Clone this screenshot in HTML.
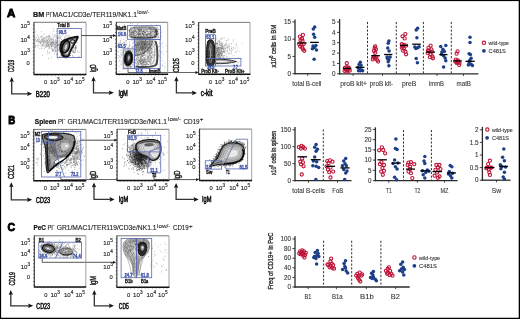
<!DOCTYPE html>
<html><head><meta charset="utf-8"><style>
html,body{margin:0;padding:0;background:#fff;overflow:hidden;}
svg{display:block;will-change:transform;}
text{font-family:"Liberation Sans", sans-serif;}
</style></head><body>
<svg width="520" height="319" viewBox="0 0 520 319" font-family="Liberation Sans, sans-serif">
<rect width="520" height="319" fill="#fff"/>
<rect x="0" y="0" width="520" height="1.1" fill="#000"/>
<rect x="0" y="0" width="1.1" height="319" fill="#000"/>
<rect x="518.7" y="0" width="1.3" height="319" fill="#000"/>
<rect x="0" y="317.75" width="520" height="1.25" fill="#000"/>
<text x="7.00" y="16.93" font-size="11.2" font-weight="bold" fill="#000" text-anchor="start" stroke="#000" stroke-width="0.9" textLength="8.30" lengthAdjust="spacingAndGlyphs">A</text>
<text x="8.30" y="124.23" font-size="11.2" font-weight="bold" fill="#000" text-anchor="start" stroke="#000" stroke-width="0.9" textLength="7.00" lengthAdjust="spacingAndGlyphs">B</text>
<text x="7.60" y="230.83" font-size="11.2" font-weight="bold" fill="#000" text-anchor="start" stroke="#000" stroke-width="0.9" textLength="7.60" lengthAdjust="spacingAndGlyphs">C</text>
<text x="33.00" y="16.97" font-size="6.9" font-weight="bold" fill="#111" text-anchor="start" stroke="#111" stroke-width="0.2" textLength="11.20" lengthAdjust="spacingAndGlyphs">BM</text>
<text x="45.90" y="16.90" font-size="6.7" fill="#222" text-anchor="start" stroke="#222" stroke-width="0.12" textLength="5.00" lengthAdjust="spacingAndGlyphs">PI</text>
<text x="50.90" y="13.69" font-size="5.0" fill="#222" text-anchor="start" stroke="#222" stroke-width="0.15" textLength="1.70" lengthAdjust="spacingAndGlyphs">-</text>
<text x="52.60" y="16.90" font-size="6.7" fill="#222" text-anchor="start" stroke="#222" stroke-width="0.12" textLength="84.30" lengthAdjust="spacingAndGlyphs">MAC1/CD3e/TER119/NK1.1</text>
<text x="137.30" y="14.22" font-size="6.2" fill="#222" text-anchor="start" stroke="#222" stroke-width="0.08" textLength="12.10" lengthAdjust="spacingAndGlyphs">low/-</text>
<text x="34.80" y="123.97" font-size="6.9" font-weight="bold" fill="#111" text-anchor="start" stroke="#111" stroke-width="0.2" textLength="21.50" lengthAdjust="spacingAndGlyphs">Spleen</text>
<text x="57.90" y="123.90" font-size="6.7" fill="#222" text-anchor="start" stroke="#222" stroke-width="0.12" textLength="5.60" lengthAdjust="spacingAndGlyphs">PI</text>
<text x="63.40" y="120.69" font-size="5.0" fill="#222" text-anchor="start" stroke="#222" stroke-width="0.15" textLength="1.70" lengthAdjust="spacingAndGlyphs">-</text>
<text x="67.50" y="123.90" font-size="6.7" fill="#222" text-anchor="start" stroke="#222" stroke-width="0.12" textLength="99.60" lengthAdjust="spacingAndGlyphs">GR1/MAC1/TER119/CD3e/NK1.1</text>
<text x="168.00" y="121.22" font-size="6.2" fill="#222" text-anchor="start" stroke="#222" stroke-width="0.08" textLength="13.20" lengthAdjust="spacingAndGlyphs">low/-</text>
<text x="183.50" y="123.90" font-size="6.7" fill="#222" text-anchor="start" stroke="#222" stroke-width="0.12" textLength="16.10" lengthAdjust="spacingAndGlyphs">CD19</text>
<text x="199.80" y="121.12" font-size="6.2" fill="#222" text-anchor="start" stroke="#222" stroke-width="0.2">+</text>
<text x="33.40" y="230.47" font-size="6.9" font-weight="bold" fill="#111" text-anchor="start" stroke="#111" stroke-width="0.2" textLength="12.50" lengthAdjust="spacingAndGlyphs">PeC</text>
<text x="47.40" y="230.40" font-size="6.7" fill="#222" text-anchor="start" stroke="#222" stroke-width="0.12" textLength="5.60" lengthAdjust="spacingAndGlyphs">PI</text>
<text x="53.00" y="227.19" font-size="5.0" fill="#222" text-anchor="start" stroke="#222" stroke-width="0.15" textLength="1.70" lengthAdjust="spacingAndGlyphs">-</text>
<text x="56.70" y="230.40" font-size="6.7" fill="#222" text-anchor="start" stroke="#222" stroke-width="0.12" textLength="99.80" lengthAdjust="spacingAndGlyphs">GR1/MAC1/TER119/CD3e/NK1.1</text>
<text x="157.00" y="227.72" font-size="6.2" fill="#222" text-anchor="start" stroke="#222" stroke-width="0.08" textLength="13.40" lengthAdjust="spacingAndGlyphs">low/-</text>
<text x="172.90" y="230.40" font-size="6.7" fill="#222" text-anchor="start" stroke="#222" stroke-width="0.12" textLength="15.90" lengthAdjust="spacingAndGlyphs">CD19</text>
<text x="189.00" y="227.62" font-size="6.2" fill="#222" text-anchor="start" stroke="#222" stroke-width="0.2">+</text>
<path d="M47.2 44.0h0M47.4 40.7h0M42.5 41.1h0M56.8 43.7h0M56.3 43.0h0M51.8 42.7h0M37.3 45.4h0M52.5 44.0h0M37.2 35.0h0M42.8 40.1h0M51.1 41.8h0M52.6 39.4h0M51.2 43.6h0M44.4 48.9h0M52.9 46.8h0M44.7 39.0h0M46.6 41.6h0M53.4 43.0h0M45.9 38.2h0M45.4 46.9h0M43.3 43.0h0M52.0 36.0h0M49.3 47.2h0M34.9 40.7h0M48.3 38.7h0M52.5 41.8h0M38.7 45.3h0M53.7 45.8h0M59.1 43.4h0M49.8 36.8h0M53.3 39.6h0M45.8 36.9h0M42.2 39.9h0M58.0 33.9h0M38.8 43.0h0M59.1 44.3h0M35.7 31.9h0M51.5 39.1h0M41.2 45.9h0M56.7 42.6h0M50.7 43.7h0M60.2 44.5h0M52.6 44.2h0M38.0 47.1h0M55.7 44.1h0M35.2 39.5h0M54.9 34.8h0M47.7 46.1h0M39.8 48.4h0M52.9 41.4h0M51.3 44.6h0M49.8 46.6h0M44.4 40.3h0M56.3 42.1h0M42.8 45.8h0M59.3 40.2h0M39.3 41.5h0M48.0 40.8h0M58.8 37.9h0M57.8 36.9h0M43.5 44.5h0M56.9 45.4h0M51.4 42.6h0M50.1 44.3h0M47.8 43.1h0M53.0 42.0h0M54.3 44.3h0M63.1 43.3h0M46.0 40.5h0M48.9 45.7h0M46.6 43.5h0M61.9 31.7h0M41.1 43.0h0M51.8 43.0h0M46.0 44.6h0M51.0 39.9h0M66.0 43.4h0M45.1 41.6h0M47.4 41.7h0M56.1 37.3h0M48.5 45.8h0M55.0 48.0h0M37.1 40.6h0M46.6 44.5h0M56.6 31.3h0M56.6 36.2h0M53.8 36.0h0M50.2 46.8h0M48.0 42.8h0M54.6 42.6h0M48.4 48.1h0M56.3 40.8h0M68.2 37.4h0M55.4 40.9h0M49.9 44.8h0M50.6 44.6h0M38.3 36.0h0M53.3 38.1h0M41.8 36.1h0M57.9 45.0h0M59.3 38.2h0M49.0 37.4h0M54.4 48.4h0M42.8 48.2h0M55.9 41.3h0M35.2 47.6h0M48.3 39.6h0M51.8 43.6h0M59.5 37.9h0M57.0 47.9h0M59.2 41.3h0M43.8 46.1h0M49.8 42.5h0M59.0 40.9h0M36.0 45.3h0M51.2 39.6h0M48.9 45.3h0M49.6 47.3h0M48.6 46.2h0M59.4 48.4h0M44.3 45.5h0M35.9 37.7h0M35.3 46.3h0M40.4 41.9h0M47.7 41.9h0M44.9 42.9h0M61.5 42.2h0M52.7 46.0h0M47.6 37.0h0M45.1 46.3h0M37.5 39.6h0M56.1 45.2h0M49.1 45.2h0M50.2 37.3h0M38.1 39.4h0M55.5 39.7h0M42.7 38.9h0M38.3 41.5h0M40.7 43.5h0M44.5 34.2h0M54.1 40.9h0M51.0 40.2h0M54.5 45.0h0M53.7 43.3h0M58.3 44.6h0M52.2 33.7h0M55.3 47.2h0M46.9 40.1h0M62.6 35.0h0M52.3 51.7h0M42.5 44.8h0M62.2 41.5h0M52.9 45.6h0M42.7 41.6h0M51.0 45.3h0M48.8 41.2h0M41.9 40.6h0M55.2 42.4h0M43.0 38.6h0M67.7 46.6h0M53.5 31.6h0M53.4 43.9h0M60.8 43.7h0M48.5 44.1h0M35.4 46.1h0M51.3 39.2h0M58.3 49.2h0M39.2 39.3h0M51.0 42.7h0M46.2 38.1h0M63.8 46.1h0M40.6 36.6h0M60.9 46.0h0M61.7 45.2h0M42.9 43.0h0M48.6 44.1h0M43.9 41.5h0M52.2 43.5h0M53.5 42.8h0M46.7 45.2h0M49.3 38.7h0M44.6 42.0h0M48.2 42.6h0M49.0 42.7h0M48.1 37.0h0M51.9 46.2h0M52.0 41.2h0M52.1 38.1h0M35.7 42.2h0M42.5 45.0h0M41.4 31.5h0M41.7 48.3h0M46.3 36.5h0M43.7 44.1h0M52.5 42.7h0M59.4 44.8h0M48.9 44.4h0M60.6 45.9h0M56.2 37.7h0M48.0 44.9h0M46.9 46.3h0M53.2 45.6h0M47.5 52.2h0M57.7 41.1h0M49.6 52.4h0M46.6 45.5h0M55.9 42.0h0M40.8 42.8h0M51.5 46.5h0M54.5 42.1h0M55.0 44.2h0M50.4 42.2h0M47.3 44.7h0M41.6 39.5h0M49.0 36.1h0" stroke="#8a8a8a" stroke-width="0.64" stroke-linecap="round" opacity="1"/>
<path d="M41.8 36.0h0M40.6 42.4h0M46.8 40.9h0M42.8 37.5h0M53.1 42.3h0M49.5 38.8h0M43.1 36.5h0M47.9 43.3h0M47.2 36.6h0M34.9 38.3h0M40.9 37.5h0M44.2 41.6h0M47.2 42.8h0M51.5 43.9h0M37.4 39.7h0M38.7 38.3h0M43.6 41.0h0M46.5 37.0h0M37.8 40.9h0M43.0 40.2h0M43.7 39.1h0M47.5 41.9h0M43.6 39.3h0M43.1 34.2h0M39.1 41.1h0M36.5 41.5h0M44.7 37.6h0M42.7 40.2h0M46.3 42.5h0M43.8 38.9h0M43.3 40.8h0M47.7 41.7h0M40.4 37.6h0M42.1 39.1h0M38.4 40.7h0M41.5 41.3h0M46.6 40.0h0M55.6 40.2h0M49.5 41.3h0M49.6 35.1h0M40.2 41.6h0M47.0 46.8h0M45.6 44.2h0M47.8 43.4h0M46.6 40.6h0M46.5 38.3h0M49.9 38.5h0M45.2 46.3h0M42.9 41.0h0M49.8 41.1h0M40.0 41.6h0M46.9 42.8h0M40.1 45.4h0M52.3 41.0h0M45.3 39.9h0M51.1 39.2h0M47.4 39.8h0M40.5 42.8h0M50.7 41.0h0M40.6 43.0h0M43.8 41.8h0M51.6 43.8h0M41.4 46.7h0M44.0 43.0h0M40.8 40.9h0M35.3 45.5h0M50.8 38.0h0M36.5 36.9h0M49.9 39.9h0M43.7 40.2h0M43.4 38.3h0M44.1 37.4h0M43.6 41.8h0M46.3 40.4h0M39.5 41.4h0M41.6 44.9h0M47.8 40.7h0M41.6 39.2h0M39.3 40.1h0M45.5 42.3h0M46.8 46.2h0M40.5 41.0h0M58.0 36.3h0M41.4 41.4h0M44.8 42.0h0M42.8 41.9h0M44.3 42.9h0M44.0 38.4h0M38.8 42.6h0M40.8 42.6h0M47.7 41.8h0M46.5 40.7h0M37.0 40.9h0M46.3 39.7h0M43.5 42.9h0M39.6 42.6h0M53.3 39.6h0M44.7 40.6h0M51.7 41.8h0M48.5 39.3h0M43.9 41.0h0M35.1 44.6h0M48.5 36.6h0M47.7 40.7h0M46.2 41.9h0M36.5 40.5h0M51.5 39.6h0M38.9 37.6h0M37.9 41.8h0M52.5 42.1h0M45.2 46.6h0M41.4 39.3h0M46.6 42.4h0M38.9 38.1h0M45.5 41.6h0M37.5 40.5h0M41.3 42.2h0M43.4 40.8h0" stroke="#aaa" stroke-width="0.64" stroke-linecap="round" opacity="1"/>
<path d="M53.2 51.3h0M62.0 44.2h0M59.2 42.2h0M55.4 49.7h0M62.6 44.1h0M54.6 47.0h0M47.5 46.1h0M51.6 47.9h0M49.4 36.1h0M55.2 47.3h0M52.3 50.4h0M53.6 43.0h0M57.4 38.2h0M51.6 45.9h0M59.2 45.2h0M56.5 42.7h0M56.5 54.3h0M51.6 57.8h0M51.8 46.1h0M55.9 51.1h0M48.8 35.5h0M58.0 50.0h0M58.1 59.2h0M56.0 47.3h0M59.6 47.8h0M63.3 39.8h0M53.1 28.8h0M59.1 44.1h0M59.6 56.8h0M55.0 44.7h0M52.5 41.8h0M51.8 49.2h0M55.2 46.3h0M54.1 50.6h0M57.5 45.3h0M58.3 45.2h0M49.2 53.3h0M57.3 41.2h0M60.4 47.7h0M47.2 54.0h0M56.7 50.5h0M56.0 45.3h0M47.3 50.9h0M55.2 44.6h0M56.8 46.4h0M58.4 44.1h0M54.8 35.3h0M52.9 49.4h0M61.7 44.2h0M54.4 53.9h0M53.4 49.7h0M63.4 46.2h0M61.1 42.4h0M56.0 45.6h0M55.6 51.6h0M66.9 42.7h0M52.1 48.5h0M49.7 48.5h0M57.9 44.6h0M57.7 38.3h0M58.8 38.3h0M51.5 43.2h0M53.0 50.3h0M55.4 44.0h0M57.7 53.9h0M55.0 47.8h0M61.2 47.3h0M48.6 58.5h0M66.0 36.1h0M54.8 48.1h0M59.8 49.3h0M53.6 40.7h0M55.5 51.2h0M49.6 40.9h0M54.9 36.3h0M53.7 43.8h0M57.3 42.5h0M50.6 44.0h0M54.8 42.7h0M55.1 49.8h0M60.9 54.5h0M51.1 43.9h0M42.6 55.5h0M51.4 45.8h0M57.6 39.2h0M57.3 45.9h0M45.9 47.5h0M61.0 36.7h0M59.0 47.0h0M57.4 48.2h0" stroke="#777" stroke-width="0.64" stroke-linecap="round" opacity="1"/>
<path d="M75.8 45.5h0M73.2 44.3h0M72.4 41.7h0M70.7 46.0h0M61.1 41.9h0M69.2 53.1h0M70.6 50.4h0M67.7 55.8h0M65.7 43.4h0M73.3 47.4h0M66.3 43.3h0M66.5 51.1h0M70.1 39.1h0M70.6 48.2h0M62.0 52.0h0M66.3 44.8h0M72.8 55.6h0M63.9 49.8h0M65.0 54.8h0M64.1 52.3h0M65.4 50.3h0M67.4 42.7h0M64.5 47.9h0M75.6 47.8h0M59.7 36.0h0M75.1 51.8h0M63.1 52.6h0M71.0 51.2h0M73.4 51.8h0M69.0 50.2h0M66.0 47.2h0M73.3 44.1h0M74.9 41.9h0M69.6 43.6h0M68.9 42.5h0M69.8 43.4h0M69.2 53.4h0M62.1 46.3h0M71.2 50.4h0M75.5 49.1h0M68.1 45.2h0M69.6 44.2h0M61.9 42.2h0M64.4 43.0h0M61.0 51.1h0M60.1 51.3h0M61.9 49.3h0M76.2 48.3h0M63.6 47.3h0M68.9 35.7h0M64.4 48.1h0M65.2 47.5h0M72.4 52.0h0M73.4 50.8h0M66.3 46.9h0M66.4 45.0h0M66.9 35.8h0M66.0 46.8h0M62.2 46.8h0M71.1 45.9h0M71.1 45.0h0M73.1 49.4h0M68.1 43.2h0M71.8 43.8h0M69.3 43.7h0M69.2 51.9h0M62.7 46.8h0M71.7 47.9h0M73.1 56.9h0M73.5 52.3h0M64.3 42.4h0M73.3 41.1h0M63.9 42.3h0M69.4 42.1h0M75.9 46.5h0M61.5 55.5h0M64.5 48.4h0M67.9 45.0h0M69.9 42.5h0M60.4 42.1h0M67.9 47.4h0M71.3 47.8h0M63.2 42.4h0M70.9 50.4h0M67.3 45.9h0M73.6 47.1h0M72.4 50.8h0M69.3 55.5h0M64.6 44.7h0M63.2 41.8h0M68.1 50.7h0M75.1 52.2h0M75.2 38.8h0M64.2 49.9h0M76.6 47.7h0M62.8 44.7h0M64.0 41.4h0M77.0 42.9h0M75.1 49.2h0M64.3 49.7h0M77.7 51.0h0M75.6 47.6h0M71.1 45.7h0M70.6 55.5h0M59.4 46.6h0M69.4 43.3h0M66.2 52.1h0M70.0 36.9h0M67.8 39.7h0M67.7 39.9h0M68.4 50.0h0M68.2 48.8h0M62.9 56.3h0M66.9 42.0h0M61.9 44.7h0M69.7 39.3h0M67.2 56.3h0M72.1 46.0h0M68.8 46.2h0M67.7 51.8h0M67.9 41.2h0M71.9 43.0h0M61.7 39.7h0M59.1 51.0h0M63.3 44.6h0M70.0 55.8h0M68.9 48.2h0M78.8 56.3h0M66.1 50.0h0M69.7 47.3h0M65.0 38.4h0M64.8 37.0h0M75.3 50.5h0M60.8 56.1h0M79.0 52.3h0M71.2 49.8h0M69.2 48.1h0M74.3 37.3h0M60.5 37.9h0M64.7 43.1h0M70.2 48.7h0M68.2 42.6h0M65.3 53.2h0M72.6 47.7h0M66.1 57.1h0M64.4 51.2h0M74.9 45.3h0M73.0 39.7h0M74.1 48.3h0M62.6 55.3h0M63.9 45.9h0M69.7 44.8h0M69.6 43.4h0M72.0 47.0h0M75.0 47.2h0M70.8 54.0h0M61.5 57.1h0M67.1 51.4h0M65.8 39.7h0M74.6 52.9h0" stroke="#444" stroke-width="0.64" stroke-linecap="round" opacity="1"/>
<path d="M61.50,42.50 C62.45,40.83 64.25,40.32 66.00,39.50 C67.75,38.68 70.07,38.08 72.00,37.60 C73.93,37.12 76.83,36.20 77.60,36.60 C78.37,37.00 77.27,38.60 76.60,40.00 C75.93,41.40 74.60,43.25 73.60,45.00 C72.60,46.75 71.50,48.62 70.60,50.50 C69.70,52.38 69.05,55.15 68.20,56.30 C67.35,57.45 66.45,57.58 65.50,57.40 C64.55,57.22 63.37,56.52 62.50,55.20 C61.63,53.88 60.47,51.62 60.30,49.50 C60.13,47.38 60.55,44.17 61.50,42.50 Z" fill="#2a2a2a" stroke="#111" stroke-width="1.8" opacity="1"/>
<path d="M62.54,43.14 C63.34,41.74 64.85,41.31 66.32,40.62 C67.79,39.93 69.74,39.43 71.36,39.02 C72.98,38.62 75.42,37.85 76.06,38.18 C76.71,38.52 75.78,39.86 75.22,41.04 C74.66,42.22 73.54,43.77 72.70,45.24 C71.86,46.71 70.94,48.28 70.18,49.86 C69.43,51.44 68.88,53.77 68.17,54.73 C67.45,55.70 66.70,55.81 65.90,55.66 C65.10,55.50 64.11,54.91 63.38,53.81 C62.65,52.70 61.67,50.80 61.53,49.02 C61.39,47.24 61.74,44.54 62.54,43.14 Z" fill="#9a9a9a" stroke="#333" stroke-width="0.5" opacity="1"/>
<path d="M63.32,43.62 C64.00,42.42 65.30,42.05 66.56,41.46 C67.82,40.87 69.49,40.44 70.88,40.09 C72.27,39.74 74.36,39.08 74.91,39.37 C75.46,39.66 74.67,40.81 74.19,41.82 C73.71,42.83 72.75,44.16 72.03,45.42 C71.31,46.68 70.52,48.02 69.87,49.38 C69.22,50.74 68.76,52.73 68.14,53.56 C67.53,54.38 66.88,54.48 66.20,54.35 C65.52,54.22 64.66,53.71 64.04,52.76 C63.42,51.82 62.58,50.18 62.46,48.66 C62.34,47.14 62.64,44.82 63.32,43.62 Z" fill="#e4e4e4" stroke="#555" stroke-width="0.4" opacity="1"/>
<ellipse cx="65.80" cy="46.80" rx="3.50" ry="6.30" transform="rotate(20 65.80 46.80)" fill="#6a6a6a" stroke="#000" stroke-width="1.4" opacity="1"/>
<ellipse cx="65.90" cy="47.00" rx="1.10" ry="2.80" transform="rotate(20 65.90 47.00)" fill="#d8d8d8" stroke="none" stroke-width="0" opacity="1"/>
<ellipse cx="72.70" cy="41.50" rx="2.20" ry="1.80" transform="rotate(0 72.70 41.50)" fill="#c8c8c8" stroke="#000" stroke-width="1.0" opacity="1"/>
<rect x="57.20" y="28.40" width="24.10" height="29.20" fill="none" stroke="#5567b0" stroke-width="0.8"/>
<path d="M158.9 55.4h0M135.7 27.7h0M134.8 38.6h0M133.0 52.4h0M145.6 43.0h0M143.9 44.4h0M144.3 54.3h0M152.6 38.5h0M125.4 61.7h0M143.3 58.2h0M123.9 42.4h0M142.3 30.1h0M136.3 54.0h0M153.9 63.5h0M132.5 30.6h0M147.7 56.3h0M144.1 31.7h0M150.6 54.7h0M148.1 40.6h0M145.3 54.7h0M135.9 25.7h0M145.6 51.3h0M142.1 55.8h0M135.5 45.1h0M138.6 52.3h0M159.6 43.2h0M164.6 62.8h0M150.7 52.5h0M161.5 44.0h0M140.8 34.3h0M147.2 60.8h0M147.9 50.7h0M139.8 47.9h0M126.3 57.5h0M137.5 33.8h0M133.7 36.9h0M151.4 57.6h0M127.1 56.2h0M151.8 39.6h0M125.6 37.8h0M135.0 49.8h0M138.1 23.7h0M144.6 29.1h0M152.0 32.7h0M134.4 36.6h0M136.0 60.3h0M151.4 52.6h0M145.5 29.0h0M136.3 39.9h0M131.2 51.6h0M133.8 38.2h0M130.5 23.4h0M148.5 60.6h0M143.9 35.3h0M155.4 49.3h0M152.2 62.3h0M154.4 41.1h0M153.6 54.5h0M125.1 41.5h0M126.3 44.8h0M148.4 34.3h0M119.4 60.3h0M146.1 62.2h0M127.4 57.7h0M164.8 68.1h0M139.7 49.0h0M140.3 57.0h0M153.4 47.0h0M127.1 54.2h0M136.8 52.9h0M144.9 63.9h0M154.5 41.0h0M145.8 65.4h0M136.1 50.8h0M155.1 59.8h0M147.7 31.5h0M128.1 48.7h0M132.5 58.5h0M150.5 27.6h0M133.0 47.8h0M136.6 44.3h0M147.2 37.1h0M147.1 39.0h0M136.0 51.9h0M135.7 49.2h0M159.6 46.3h0M140.4 54.1h0M138.0 57.9h0M127.9 52.8h0M136.4 37.2h0M161.5 36.6h0M161.3 53.2h0M158.0 35.3h0M155.2 62.0h0M140.7 44.6h0M137.4 39.1h0M146.9 49.6h0M144.0 64.9h0M138.4 51.2h0M158.1 35.0h0M153.4 66.2h0M127.1 33.9h0M130.6 25.7h0M147.0 25.6h0M147.5 62.0h0M124.2 42.5h0M120.9 54.6h0M133.9 43.1h0M142.6 52.0h0M138.2 46.2h0M136.0 47.3h0M129.1 46.7h0M120.7 40.6h0M163.1 46.9h0M128.1 48.8h0M131.3 27.8h0M133.9 54.1h0M146.2 44.9h0M131.8 34.1h0M156.8 48.7h0M126.9 73.2h0M129.4 45.2h0M144.3 44.3h0M138.9 30.9h0M130.4 64.6h0M133.7 55.3h0M123.4 43.0h0M144.9 57.4h0M129.7 52.5h0M146.2 37.9h0M147.2 36.1h0M133.2 45.8h0M131.0 29.9h0M137.3 54.4h0M137.6 59.9h0M129.2 31.6h0M159.1 50.4h0M152.4 36.9h0M150.8 48.9h0M149.1 46.3h0M155.3 38.9h0M131.4 29.7h0M154.8 37.9h0M130.5 35.7h0M137.1 32.0h0M138.8 39.1h0M135.9 35.4h0M142.4 40.9h0M143.3 48.7h0M136.1 37.2h0M150.5 28.6h0M134.1 42.8h0M138.3 56.9h0M137.1 56.6h0M125.9 26.1h0M155.4 50.8h0M147.4 47.4h0M147.3 32.6h0M152.4 40.1h0M152.8 47.0h0M120.3 31.8h0M154.4 44.5h0M137.6 48.7h0M137.3 40.0h0M143.1 47.6h0M158.7 46.5h0M162.7 65.8h0M160.9 57.7h0M143.4 47.5h0M140.4 38.0h0M141.3 39.0h0M160.0 51.9h0M137.1 24.9h0M141.4 41.4h0M130.1 33.5h0M117.2 52.3h0M141.7 44.4h0M157.9 47.5h0M143.8 41.9h0M135.3 62.5h0M153.0 64.9h0M138.2 46.3h0M132.3 56.6h0M126.7 52.2h0M154.1 61.5h0M131.7 58.0h0M134.2 37.7h0M127.4 58.7h0M160.1 39.5h0M133.6 42.3h0M136.0 26.3h0M134.6 59.1h0M162.5 43.1h0M134.4 40.4h0M121.3 56.0h0M130.1 57.7h0M123.2 32.0h0M145.2 37.6h0M150.6 46.1h0M129.1 52.8h0M151.3 25.0h0M162.1 51.5h0M150.4 25.5h0M134.1 42.2h0M153.8 29.9h0M132.3 23.7h0M139.3 49.8h0M123.5 39.5h0M147.6 63.4h0M149.3 42.7h0M129.0 35.7h0M134.7 47.6h0M141.5 64.3h0M145.2 34.2h0M159.0 56.4h0M143.1 38.1h0M121.4 34.8h0M152.0 37.2h0M127.5 48.2h0M144.7 52.7h0M149.2 61.5h0M132.8 56.8h0M131.1 53.6h0M144.0 48.7h0M152.6 45.8h0M154.2 55.6h0M143.5 39.8h0M133.7 40.2h0M139.8 45.7h0M150.5 36.5h0M134.2 42.5h0M144.1 34.6h0M159.7 39.8h0M141.9 49.1h0M144.1 52.6h0M145.1 47.8h0M121.2 38.2h0M145.4 43.9h0M133.0 39.6h0M162.3 65.0h0M141.4 60.2h0M124.5 24.7h0M136.7 36.4h0M135.8 48.1h0M142.5 49.0h0M141.6 56.2h0M161.5 32.3h0M143.8 43.1h0M145.9 29.2h0M147.8 48.1h0M137.9 37.7h0M126.4 35.9h0M149.7 52.0h0M141.8 51.7h0M135.4 46.8h0M142.4 52.1h0M141.2 44.4h0M140.5 38.9h0M166.6 51.7h0M146.7 71.2h0M157.4 28.9h0M149.6 55.2h0M162.7 60.5h0M150.5 33.1h0M132.4 49.0h0M147.6 34.8h0M137.8 41.6h0M142.7 49.7h0M138.8 32.4h0M155.7 63.6h0M140.8 57.3h0M146.9 53.3h0M147.3 37.6h0M148.3 57.1h0M132.1 67.6h0M165.0 66.1h0M163.9 54.2h0M138.3 39.4h0M133.1 47.3h0M141.6 53.4h0M119.8 71.4h0M167.0 45.7h0M149.4 51.2h0M145.0 43.7h0M140.6 36.9h0M144.0 45.7h0" stroke="#8a8a8a" stroke-width="0.64" stroke-linecap="round" opacity="1"/>
<path d="M130.9 50.2h0M120.2 40.1h0M131.3 55.8h0M121.0 53.1h0M132.6 46.5h0M127.1 44.1h0M120.9 63.1h0M129.4 45.9h0M119.3 42.6h0M127.7 54.9h0M122.4 46.2h0M127.8 61.2h0M131.0 57.5h0M121.2 42.0h0M129.7 52.2h0M129.5 41.7h0M131.0 50.1h0M131.5 65.9h0M125.9 40.5h0M132.6 54.3h0M132.0 48.0h0M121.0 64.9h0M123.9 44.9h0M123.9 57.8h0M118.1 55.6h0M125.1 55.5h0M119.9 61.4h0M131.1 66.0h0M123.1 61.3h0M124.1 62.5h0M119.0 66.2h0M133.3 54.8h0M126.2 55.9h0M126.6 40.6h0M133.5 46.7h0M120.9 43.1h0M122.0 64.5h0M118.5 42.9h0M129.2 45.9h0M118.3 58.0h0M127.2 55.7h0M129.2 43.1h0M131.9 61.5h0M118.7 43.7h0M125.9 55.0h0M122.5 43.7h0M124.5 44.1h0M127.5 65.8h0M120.4 57.2h0M129.9 44.9h0M131.2 68.1h0M124.2 52.6h0M131.4 55.8h0M124.3 68.2h0M130.4 50.2h0M121.8 50.1h0M125.0 69.4h0M130.9 67.4h0M131.0 65.4h0M118.9 55.5h0M133.3 68.0h0M122.0 52.7h0M128.1 50.9h0M126.5 42.1h0M124.9 55.1h0M118.3 44.2h0M133.5 63.3h0M133.0 59.0h0M130.9 66.5h0M132.2 41.0h0M128.3 48.0h0M128.9 48.2h0M126.7 67.7h0M127.9 47.5h0M126.3 53.0h0M133.2 48.6h0M122.9 59.4h0M119.9 57.8h0M133.3 55.4h0M122.3 54.0h0M126.5 44.5h0M120.0 43.9h0M122.7 52.2h0M122.6 47.3h0M119.4 56.4h0M131.4 58.3h0M127.1 59.5h0M121.2 61.3h0M125.4 56.4h0M127.8 54.1h0M123.0 47.3h0M121.5 55.4h0M124.1 57.6h0M118.2 50.6h0M131.8 47.2h0M126.9 54.7h0M122.6 69.6h0M122.7 63.2h0M120.5 42.0h0M131.9 53.2h0M119.0 51.6h0M125.0 62.1h0M119.7 46.8h0M133.3 62.2h0M120.5 50.1h0M123.6 60.3h0M127.9 65.5h0M131.1 55.5h0M129.8 62.3h0M130.2 54.3h0M130.6 61.3h0M132.6 43.8h0M131.9 40.1h0M130.3 57.6h0M126.0 68.9h0M127.2 52.5h0M130.5 66.2h0M127.7 51.4h0M125.2 53.7h0M129.6 48.8h0" stroke="#999" stroke-width="0.64" stroke-linecap="round" opacity="1.0"/>
<path d="M130.20,29.00 C131.23,27.95 132.70,27.53 136.00,27.20 C139.30,26.87 146.67,26.78 150.00,27.00 C153.33,27.22 154.95,27.33 156.00,28.50 C157.05,29.67 156.80,32.45 156.30,34.00 C155.80,35.55 155.72,37.10 153.00,37.80 C150.28,38.50 143.67,38.23 140.00,38.20 C136.33,38.17 132.70,38.38 131.00,37.60 C129.30,36.82 129.93,34.93 129.80,33.50 C129.67,32.07 129.17,30.05 130.20,29.00 Z" fill="#d0d0d0" stroke="#444" stroke-width="0.7" opacity="1"/>
<path d="M131.48,29.36 C132.41,28.41 133.73,28.04 136.70,27.74 C139.67,27.44 146.30,27.36 149.30,27.56 C152.30,27.75 153.75,27.86 154.70,28.91 C155.64,29.96 155.42,32.46 154.97,33.86 C154.52,35.26 154.44,36.65 152.00,37.28 C149.56,37.91 143.60,37.67 140.30,37.64 C137.00,37.61 133.73,37.80 132.20,37.10 C130.67,36.40 131.24,34.70 131.12,33.41 C131.00,32.12 130.55,30.30 131.48,29.36 Z" fill="#dcdcdc" stroke="#666" stroke-width="0.35" opacity="1"/>
<path d="M132.76,29.72 C133.59,28.88 134.76,28.55 137.40,28.28 C140.04,28.01 145.93,27.95 148.60,28.12 C151.27,28.29 152.56,28.39 153.40,29.32 C154.24,30.25 154.04,32.48 153.64,33.72 C153.24,34.96 153.17,36.20 151.00,36.76 C148.83,37.32 143.53,37.11 140.60,37.08 C137.67,37.05 134.76,37.23 133.40,36.60 C132.04,35.97 132.55,34.47 132.44,33.32 C132.33,32.17 131.93,30.56 132.76,29.72 Z" fill="#e6e6e6" stroke="#666" stroke-width="0.35" opacity="1"/>
<path d="M134.04,30.08 C134.76,29.35 135.79,29.05 138.10,28.82 C140.41,28.59 145.57,28.53 147.90,28.68 C150.23,28.83 151.37,28.91 152.10,29.73 C152.83,30.55 152.66,32.49 152.31,33.58 C151.96,34.66 151.90,35.75 150.00,36.24 C148.10,36.73 143.47,36.54 140.90,36.52 C138.33,36.50 135.79,36.65 134.60,36.10 C133.41,35.55 133.85,34.23 133.76,33.23 C133.67,32.23 133.32,30.82 134.04,30.08 Z" fill="#eeeeee" stroke="#666" stroke-width="0.35" opacity="1"/>
<path d="M135.32,30.44 C135.94,29.81 136.82,29.56 138.80,29.36 C140.78,29.16 145.20,29.11 147.20,29.24 C149.20,29.37 150.17,29.44 150.80,30.14 C151.43,30.84 151.28,32.51 150.98,33.44 C150.68,34.37 150.63,35.30 149.00,35.72 C147.37,36.14 143.40,35.98 141.20,35.96 C139.00,35.94 136.82,36.07 135.80,35.60 C134.78,35.13 135.16,34.00 135.08,33.14 C135.00,32.28 134.70,31.07 135.32,30.44 Z" fill="#f6f6f6" stroke="#666" stroke-width="0.35" opacity="1"/>
<ellipse cx="143.00" cy="32.80" rx="8.50" ry="1.60" transform="rotate(0 143.00 32.80)" fill="#fff" stroke="#777" stroke-width="0.35" opacity="1"/>
<path d="M134.1 35.3h0M137.1 34.5h0M133.2 32.5h0M146.1 35.2h0M150.2 36.1h0M139.6 31.8h0M150.0 31.0h0M152.5 26.9h0M148.9 31.9h0M145.8 32.6h0M133.3 30.9h0M156.6 29.6h0M132.2 32.0h0M139.5 29.3h0M135.4 36.2h0M138.1 28.7h0M150.1 34.5h0M133.6 35.1h0M153.1 31.6h0M131.3 34.3h0M151.3 32.4h0M146.8 35.2h0M138.7 32.4h0M153.9 29.2h0M150.2 30.1h0M147.1 34.9h0M132.4 32.2h0M145.2 34.6h0M134.6 29.0h0M141.3 31.7h0M129.5 35.8h0M138.2 37.5h0M150.7 32.6h0M149.5 28.6h0M140.1 30.5h0M131.6 32.6h0M141.7 37.5h0M134.7 30.9h0M146.8 33.9h0M143.3 30.8h0M147.5 33.8h0M130.6 28.4h0M144.3 32.7h0M144.0 29.4h0M141.2 29.3h0M146.4 34.9h0M158.8 36.9h0M135.8 30.9h0M134.6 33.6h0M131.4 34.3h0M143.0 33.5h0M159.0 29.6h0M146.1 29.8h0M143.4 36.0h0M141.7 30.1h0M143.2 34.7h0M139.4 34.2h0M150.3 32.0h0M138.9 31.8h0M134.3 31.8h0M140.3 33.2h0M155.0 37.1h0M139.0 34.6h0M145.7 35.2h0M143.2 33.4h0M138.8 29.8h0M150.8 37.0h0M149.0 34.0h0M145.4 30.9h0M144.8 30.6h0M134.3 37.0h0M136.5 32.4h0M138.4 33.0h0M141.1 29.9h0M152.7 29.8h0M138.4 34.4h0M138.2 31.0h0M146.2 31.2h0M131.8 32.1h0M133.1 35.9h0M135.9 31.3h0M140.1 33.4h0M137.3 37.2h0M152.0 35.3h0M136.2 35.7h0M142.0 33.7h0M140.6 34.8h0M153.0 36.5h0M141.2 36.0h0M156.1 29.2h0M156.3 27.8h0M147.9 34.6h0M156.3 33.5h0M138.7 29.7h0M131.7 35.2h0M140.9 30.0h0M147.8 29.8h0M139.1 30.9h0M157.9 37.6h0M141.6 27.0h0M145.5 32.8h0M146.1 34.5h0M140.1 35.7h0M150.5 33.2h0M139.3 30.8h0M149.2 28.7h0M141.6 29.9h0M130.5 34.6h0M142.8 32.6h0M150.9 27.3h0M142.4 33.5h0M150.5 28.7h0M149.4 33.3h0M155.2 36.5h0M143.0 31.0h0M139.9 29.2h0M142.2 34.0h0M151.9 31.3h0M155.5 30.2h0M136.1 29.7h0M156.1 34.3h0M133.3 34.3h0M147.2 31.7h0M143.2 31.5h0M142.2 36.9h0M155.6 31.5h0M136.4 31.8h0M150.9 33.7h0M137.9 33.7h0M141.2 34.3h0M139.4 27.5h0M143.5 35.1h0M133.3 32.1h0M150.7 31.2h0M150.3 36.0h0M134.7 38.1h0M149.5 37.0h0M134.9 30.2h0M148.6 34.4h0M139.1 34.3h0M149.8 33.6h0M147.6 37.6h0M138.8 33.0h0M138.4 36.0h0M139.4 34.1h0M144.2 32.7h0M158.0 32.2h0M155.4 35.3h0M154.5 31.9h0M151.1 35.1h0M137.7 33.4h0M141.9 32.4h0M154.3 30.1h0M139.1 30.3h0M143.1 34.4h0M158.3 33.5h0M147.0 30.0h0M148.0 37.1h0M150.7 37.8h0M150.2 27.5h0M140.3 34.5h0M146.6 29.8h0M135.3 35.8h0M131.4 37.3h0M143.2 33.5h0M131.4 30.5h0M149.0 27.5h0M132.4 32.6h0M147.2 35.0h0M139.8 31.8h0M141.0 30.6h0M145.2 33.0h0M137.6 33.3h0M142.9 32.2h0M145.2 28.9h0M140.3 37.5h0M133.6 32.2h0M137.9 35.7h0M134.5 26.8h0M147.4 31.3h0M140.2 36.1h0M135.3 31.2h0M144.3 33.9h0M138.5 36.0h0M155.2 31.3h0M144.2 31.4h0M137.5 28.2h0M139.6 36.9h0M152.9 31.3h0M138.4 30.1h0M148.7 32.9h0M138.8 29.1h0M154.4 35.1h0M134.8 35.8h0M133.4 34.7h0M134.7 31.1h0M147.3 34.0h0M151.7 29.7h0M156.6 37.0h0M142.9 34.1h0M136.3 32.0h0M131.6 32.8h0M144.7 37.0h0M151.2 35.2h0M139.9 31.7h0M140.1 33.2h0M129.5 30.8h0M143.2 30.8h0M157.4 32.2h0M156.6 36.4h0M138.7 33.8h0M154.2 31.4h0M143.8 30.6h0M143.5 31.3h0M143.7 35.9h0M155.0 32.9h0M144.7 35.4h0M140.5 28.9h0M152.6 29.4h0M151.0 29.3h0M158.8 29.0h0M150.3 37.5h0M134.7 37.5h0M149.2 34.9h0M142.5 31.5h0M139.7 31.5h0M158.6 37.7h0M139.9 30.1h0M146.4 36.1h0M149.2 28.6h0M144.4 33.0h0M155.4 36.5h0M147.5 36.6h0M139.6 37.7h0M139.3 33.8h0M150.9 29.4h0M144.4 32.3h0M140.2 34.2h0M143.8 31.6h0M149.9 38.4h0M139.1 29.3h0M137.8 32.8h0M148.1 29.6h0M151.6 29.1h0M150.1 33.9h0M140.7 31.9h0M147.1 35.4h0M131.4 33.4h0M136.6 34.6h0M154.8 32.7h0M142.1 33.1h0M147.8 33.1h0M139.6 30.0h0M141.5 36.6h0M142.1 37.0h0M145.4 32.5h0M128.7 30.3h0M153.8 28.2h0M134.4 28.8h0M138.2 34.7h0M155.6 30.5h0M137.9 38.1h0M142.3 28.3h0M137.5 30.1h0M134.3 31.4h0M150.6 33.7h0M134.4 32.9h0M143.3 35.1h0M140.2 34.0h0M133.6 33.6h0" stroke="#555" stroke-width="0.60" stroke-linecap="round" opacity="1"/>
<path d="M131,36.8 C137,38.3 149,38.3 155.5,36.8" fill="none" stroke="#222" stroke-width="0.9" opacity="1"/>
<path d="M155.7 31.9h0M156.7 34.0h0M156.2 35.4h0M156.3 29.2h0M157.3 32.0h0M157.7 31.1h0M157.0 33.9h0M153.9 28.7h0M155.4 37.1h0M154.7 35.6h0M157.5 34.4h0M157.1 31.6h0M156.5 33.6h0M156.9 35.0h0M156.3 31.0h0M156.0 34.2h0M154.9 29.4h0M156.1 31.4h0M156.2 25.3h0M156.2 32.3h0M157.2 27.3h0M156.2 34.4h0M157.0 36.4h0M157.5 30.0h0M157.1 32.0h0M155.7 37.4h0M155.9 30.5h0M156.1 30.5h0M157.5 34.1h0M157.8 34.2h0M155.9 36.0h0M155.9 31.7h0M156.3 33.1h0M157.6 31.3h0M156.8 32.9h0M155.3 29.8h0M156.3 34.2h0M156.8 34.4h0M156.5 31.7h0M156.9 30.1h0" stroke="#333" stroke-width="0.64" stroke-linecap="round" opacity="1"/>
<path d="M134.6,39.8 L153,39.8 C151.5,45 148.5,50 142.5,53 C139.5,54.5 136.5,55.3 134.6,55.8 Z" fill="#b4b4b4" stroke="none" stroke-width="0.5" opacity="1"/>
<path d="M135.2 44.6h0M138.7 43.6h0M142.7 42.5h0M143.8 42.2h0M138.4 47.1h0M143.5 46.4h0M143.9 41.8h0M147.3 45.8h0M143.1 44.0h0M146.2 46.4h0M149.6 48.0h0M139.4 45.0h0M148.3 44.4h0M145.2 48.3h0M143.8 46.9h0M143.8 42.7h0M150.0 45.4h0M139.4 42.9h0M145.1 41.3h0M137.2 54.7h0M150.6 50.6h0M150.9 48.6h0M150.2 48.1h0M150.9 43.9h0M143.7 49.4h0M142.5 50.8h0M143.5 49.0h0M144.6 51.7h0M149.6 53.5h0M146.2 43.4h0M141.9 50.0h0M147.8 51.8h0M137.6 43.2h0M146.1 55.0h0M136.3 52.0h0M145.5 43.8h0M142.6 47.0h0M148.7 52.0h0M146.0 47.6h0M141.9 44.2h0M135.8 54.5h0M144.5 45.9h0M144.0 53.9h0M142.4 44.8h0M138.6 45.9h0M140.4 46.9h0M138.0 54.4h0M148.0 49.6h0M147.2 49.6h0M146.9 52.2h0M148.9 51.9h0M140.1 46.0h0M138.7 50.2h0M147.9 44.0h0M150.2 41.1h0M142.5 48.8h0M142.8 47.7h0M149.9 47.4h0M136.6 49.1h0M142.4 46.5h0M135.7 44.5h0M149.7 40.9h0M138.8 48.3h0M138.5 48.9h0M140.2 47.3h0M143.6 46.0h0M142.8 52.2h0M139.8 48.3h0M143.9 48.1h0M144.6 45.2h0M141.2 42.3h0M138.4 41.5h0M147.3 41.7h0M143.8 52.3h0M142.8 41.6h0M141.6 41.6h0M140.7 42.4h0M137.8 41.9h0M144.4 52.1h0M136.2 45.3h0M143.6 48.5h0M149.6 43.6h0M135.7 45.2h0M144.7 42.9h0M148.2 53.4h0M144.2 45.0h0M144.3 43.9h0M145.6 48.8h0M147.5 48.5h0M145.4 40.8h0M140.5 46.6h0M140.8 41.4h0M143.2 43.4h0M140.6 42.1h0M138.6 45.6h0M139.2 49.0h0M142.2 46.6h0M145.4 51.6h0M146.5 47.0h0M142.0 42.5h0M141.0 49.0h0M144.3 44.3h0M144.9 50.5h0M141.8 47.0h0M137.6 47.5h0M141.8 42.3h0M135.7 49.6h0M145.1 42.1h0M137.1 49.9h0M146.5 44.7h0M152.3 44.7h0M136.8 50.8h0M141.9 47.5h0M143.2 41.6h0M136.1 45.1h0M151.2 41.6h0M150.9 47.0h0M136.5 47.2h0M146.3 42.1h0M136.5 47.9h0M141.6 46.8h0M139.7 40.8h0M146.1 48.1h0M145.1 47.2h0M151.5 48.3h0M141.3 41.0h0M151.7 48.3h0M136.1 48.9h0M145.3 44.2h0M139.3 50.7h0M142.3 49.5h0M141.2 49.2h0M147.8 41.6h0M136.8 45.7h0M147.9 47.2h0M145.9 43.3h0M143.6 47.4h0M137.3 45.0h0M136.2 47.2h0M138.0 43.8h0M144.3 43.1h0M149.7 43.2h0M147.9 47.2h0M137.0 45.0h0M138.1 44.4h0M141.4 53.9h0M140.6 52.8h0M149.0 47.7h0M141.8 44.9h0M144.5 44.7h0M139.9 44.4h0M149.8 43.3h0M145.2 41.0h0M141.9 49.0h0M144.8 43.9h0M146.6 44.5h0M145.2 47.2h0M135.4 49.4h0M141.6 43.6h0M151.7 48.4h0M141.8 49.2h0M138.4 44.1h0M139.8 45.0h0M147.5 43.9h0M144.9 43.8h0M141.8 46.7h0M136.7 50.4h0M144.3 51.6h0M148.6 48.8h0M142.1 41.3h0M141.7 44.0h0M144.4 44.0h0M149.8 44.0h0M141.6 50.0h0M143.0 40.7h0M145.4 45.2h0M136.9 42.8h0M145.8 47.3h0M145.4 43.3h0M144.4 45.5h0M141.9 44.8h0M139.7 50.3h0M143.2 53.4h0M147.6 53.1h0M142.3 47.6h0M140.5 45.3h0M137.5 43.2h0M150.0 47.1h0M150.1 49.7h0M148.3 50.4h0M139.5 49.5h0M141.1 43.7h0M149.9 55.4h0M137.3 53.5h0M147.8 42.3h0M144.6 47.6h0M145.2 44.5h0M135.6 46.1h0M148.0 49.4h0M146.8 50.8h0M137.3 45.8h0M145.0 50.3h0M143.9 48.2h0M143.8 55.1h0M144.3 53.4h0M145.7 48.9h0M148.9 46.9h0M138.0 45.6h0M144.9 44.8h0M139.1 44.4h0M142.5 44.4h0M143.2 52.1h0M144.7 45.9h0M136.2 41.3h0M145.2 42.2h0M145.5 41.3h0M143.8 45.7h0M148.8 44.3h0M140.9 47.1h0M143.3 53.3h0M141.5 43.7h0M141.2 48.1h0M144.4 49.0h0M136.0 46.7h0M145.6 52.0h0M151.0 49.9h0M140.9 48.2h0M151.8 44.6h0M142.9 43.6h0M151.2 41.8h0M137.6 43.4h0M146.5 43.2h0M150.2 44.7h0M145.8 45.3h0M142.9 54.6h0M143.4 49.0h0M138.7 46.9h0M140.9 47.1h0M138.7 51.1h0M150.0 46.1h0M145.9 46.2h0M145.4 41.7h0M137.8 43.0h0M140.9 48.7h0M136.0 52.9h0M139.3 43.5h0M147.1 47.9h0M141.0 41.4h0M149.6 50.7h0M144.9 49.3h0M148.5 44.9h0M145.0 55.3h0M137.4 49.3h0M149.9 44.5h0M146.9 45.8h0M144.7 43.7h0M142.8 46.0h0M143.0 50.2h0M149.1 49.4h0M147.7 41.9h0M150.0 41.9h0M150.5 48.9h0M137.3 51.1h0M139.1 42.8h0M148.9 43.1h0M139.9 40.7h0M150.5 41.4h0M143.0 44.8h0M141.5 48.2h0M147.9 50.7h0M141.4 45.4h0M135.2 50.7h0M139.9 43.2h0M143.4 42.3h0M137.0 44.7h0M151.6 45.1h0M142.4 48.6h0M144.5 42.0h0M147.6 50.2h0M145.6 44.1h0M142.7 43.3h0M142.2 47.4h0M141.3 50.2h0" stroke="#555" stroke-width="0.66" stroke-linecap="round" opacity="1"/>
<path d="M153,40.5 C151.5,46 148.5,50.5 143,53.4 C140,54.8 137,55.5 134.8,56.0" fill="none" stroke="#444" stroke-width="0.9" opacity="1"/>
<path d="M155.2,41 C157.8,45 157.8,60 156.5,64.5 C155,66.8 150,67.2 140,67.0 L135.5,66.5" fill="none" stroke="#444" stroke-width="2.0" opacity="1"/>
<path d="M153.2,42 C155.5,48 155.3,60 152.5,63.5 C148,65 142,64.5 136,63.8" fill="none" stroke="#777" stroke-width="0.5" opacity="1"/>
<path d="M151.2,45 C153,50 152.5,58 149.5,61.3 C145,62.6 140,62 136,61.2" fill="none" stroke="#888" stroke-width="0.45" opacity="1"/>
<path d="M149.2,48 C150.5,52 150,56 147,59 C143,60 139.5,59.5 136,58.6" fill="none" stroke="#999" stroke-width="0.45" opacity="1"/>
<path d="M153.5 57.9h0M142.7 63.2h0M144.1 59.1h0M138.7 63.9h0M144.0 62.0h0M137.1 62.4h0M144.8 59.3h0M139.9 62.1h0M141.3 55.5h0M141.1 56.8h0M136.9 59.4h0M138.3 57.7h0M141.2 58.8h0M144.0 55.4h0M140.6 63.0h0M146.7 62.1h0M144.3 62.2h0M135.9 55.4h0M141.8 56.0h0M148.7 57.6h0M138.3 63.3h0M142.6 56.5h0M144.0 62.7h0M145.7 61.7h0M137.8 55.4h0M135.6 63.0h0M145.3 64.9h0M141.2 55.3h0M149.6 54.9h0M146.3 64.6h0M139.0 54.7h0M140.7 61.5h0M140.5 62.7h0M141.4 61.8h0M142.5 56.4h0M140.4 58.5h0M143.3 57.0h0M148.0 60.1h0M143.6 62.5h0M146.1 61.6h0M150.1 61.8h0M143.7 61.8h0M137.9 57.4h0M137.8 64.5h0M143.2 55.4h0M149.5 61.3h0M146.8 60.8h0M139.4 60.7h0M136.6 57.9h0M150.0 59.8h0M145.3 59.1h0M142.9 59.9h0M138.3 60.3h0M139.6 55.7h0M139.2 62.2h0M137.7 61.9h0M143.8 66.1h0M135.7 59.6h0M143.5 65.9h0M142.3 63.0h0M149.2 58.9h0M151.6 57.1h0M144.1 61.0h0M150.9 60.7h0M140.6 63.7h0M144.7 64.8h0M145.3 59.8h0M144.0 60.7h0M142.8 55.8h0M142.9 61.1h0M145.9 65.7h0M148.6 56.3h0M142.7 61.4h0M142.0 62.9h0M151.8 61.2h0M146.3 59.5h0M140.5 56.1h0M141.5 60.5h0M142.5 65.2h0M140.5 60.4h0M139.6 60.3h0M145.7 56.8h0M145.0 61.5h0M142.0 62.9h0M145.1 57.8h0M146.3 63.3h0M143.3 61.9h0M135.9 55.3h0M139.3 60.6h0M140.7 58.7h0M136.0 60.7h0M141.5 65.8h0M139.0 55.8h0M147.9 66.8h0M139.5 59.2h0M141.7 64.0h0M143.2 60.4h0M149.9 58.9h0M142.5 60.3h0M142.4 65.9h0M147.5 57.6h0M144.4 58.5h0M141.5 60.6h0M141.1 58.1h0M148.8 58.9h0M144.5 66.7h0M144.1 64.1h0M147.9 64.3h0M150.8 60.1h0M142.5 60.6h0M137.0 59.1h0M140.5 60.3h0M141.0 59.1h0M138.5 60.5h0M139.0 57.8h0M138.8 60.8h0M147.2 59.3h0M139.7 61.4h0M142.3 58.5h0M138.1 62.5h0M141.2 57.7h0M141.1 59.5h0M143.2 60.9h0M138.6 54.9h0M149.1 56.0h0M140.7 59.0h0M140.9 63.4h0M138.4 62.9h0M145.5 62.4h0M148.2 59.3h0M148.7 57.2h0M141.1 56.8h0M141.0 64.1h0M144.6 60.4h0M136.9 66.0h0M142.7 55.3h0M148.4 64.6h0M138.3 65.2h0M136.8 63.7h0M143.9 59.5h0M143.9 61.5h0M144.9 60.3h0M143.4 63.8h0M141.0 63.1h0M148.5 61.1h0M142.0 63.0h0M148.0 58.7h0M140.4 61.4h0" stroke="#666" stroke-width="0.60" stroke-linecap="round" opacity="1"/>
<path d="M150.6 55.5h0M148.6 58.0h0M153.5 60.3h0M156.0 53.0h0M149.0 66.9h0M150.8 57.9h0M148.7 61.8h0M148.4 47.9h0M149.8 51.9h0M153.3 52.4h0M150.5 53.5h0M151.4 50.6h0M154.4 45.0h0M148.5 50.0h0M152.6 55.3h0M151.9 52.7h0M147.1 47.2h0M148.7 51.3h0M151.1 57.5h0M153.9 54.3h0M147.0 47.6h0M150.2 57.5h0M145.8 63.5h0M154.5 64.4h0M150.0 61.7h0M148.1 54.5h0M149.1 61.7h0M150.3 50.0h0M151.0 59.6h0M147.2 59.4h0M147.2 48.9h0M150.9 53.4h0M146.1 43.6h0M150.1 56.7h0M148.2 56.3h0M143.9 57.7h0M151.7 56.9h0M147.5 55.6h0M150.5 62.5h0M151.1 56.8h0M147.1 61.0h0M154.7 51.5h0M152.6 57.2h0M149.8 46.0h0M151.2 52.4h0M154.6 52.0h0M150.2 59.3h0M151.8 51.4h0M152.7 57.7h0M154.0 51.4h0M149.8 52.3h0M146.7 56.8h0M151.6 64.9h0M148.7 57.7h0M154.6 54.2h0M150.3 55.9h0M147.2 48.1h0M154.5 56.2h0M149.7 46.3h0M150.5 63.2h0M145.4 48.8h0M154.4 65.0h0M156.2 51.1h0M152.4 49.8h0M152.1 52.5h0M150.8 64.4h0M151.3 53.3h0M150.2 56.9h0M148.0 56.4h0M152.4 65.9h0M141.8 46.7h0M145.1 61.1h0M150.5 62.9h0M140.3 53.8h0M137.6 56.1h0M148.0 51.6h0M151.4 50.9h0M154.4 55.0h0M148.2 61.4h0M146.7 63.7h0M153.8 56.0h0M153.9 66.2h0M155.5 55.0h0M149.8 62.7h0M144.2 50.8h0M151.9 59.0h0M151.3 58.1h0M144.8 53.7h0M151.0 53.4h0M150.2 59.2h0M146.2 51.1h0M143.0 62.9h0M145.8 43.2h0" stroke="#888" stroke-width="0.60" stroke-linecap="round" opacity="1"/>
<path d="M123.5,49.2 L134.2,49.2 L134.2,68.3 L123.5,68.3 Z" fill="#e2e2e2" stroke="none" stroke-width="0.5" opacity="1"/>
<path d="M130.9 56.7h0M131.6 55.8h0M129.0 58.7h0M127.8 62.8h0M125.1 61.5h0M126.3 52.1h0M130.3 61.0h0M126.2 51.3h0M130.5 57.1h0M126.7 56.4h0M127.6 53.7h0M128.8 63.7h0M133.2 62.4h0M125.9 53.2h0M132.1 58.4h0M127.3 55.0h0M128.9 64.3h0M130.6 56.9h0M130.4 55.4h0M128.2 52.4h0M130.1 61.1h0M129.0 62.6h0M130.2 58.7h0M125.7 61.5h0M132.2 61.7h0M132.4 55.2h0M125.4 65.4h0M126.7 59.4h0M127.9 58.1h0M127.6 54.8h0M125.7 51.4h0M130.3 67.7h0M127.7 62.4h0M130.4 50.7h0M126.7 55.9h0M132.4 58.7h0M128.1 53.3h0M128.8 58.2h0M130.8 66.2h0M130.8 58.1h0M128.0 67.4h0M129.1 57.9h0M130.3 57.4h0M126.5 64.3h0M127.1 63.6h0M126.0 58.6h0M129.8 58.9h0M129.2 60.2h0M125.0 51.5h0M128.1 52.6h0M126.4 58.2h0M132.2 54.7h0M130.3 59.1h0M127.4 52.5h0M128.0 53.8h0M132.0 62.4h0M130.3 66.8h0M128.7 60.6h0M126.4 51.4h0M129.9 61.0h0M127.2 56.6h0M126.9 54.7h0M128.3 64.3h0M133.5 59.9h0M129.0 62.9h0M125.4 50.9h0M129.3 63.0h0M127.2 54.0h0M129.8 61.6h0M129.3 53.0h0M126.5 66.8h0M132.6 60.8h0M129.4 59.0h0M126.7 57.7h0M126.4 58.9h0M131.3 62.9h0M125.5 57.2h0M127.7 50.8h0M128.7 55.2h0M131.4 60.5h0M126.1 58.5h0M127.4 54.3h0M127.0 64.2h0M126.1 62.7h0M127.4 56.1h0M124.1 60.3h0M128.3 59.6h0M131.0 62.9h0M126.5 54.5h0M133.3 62.2h0M128.9 51.6h0M131.2 61.1h0M131.0 59.6h0M128.7 54.8h0M129.5 59.4h0M130.5 64.3h0M129.5 54.8h0M131.0 67.1h0M125.9 60.5h0M130.2 61.1h0M130.1 57.5h0M126.4 55.0h0M128.3 54.9h0M133.1 64.8h0M127.2 61.8h0M128.4 64.7h0M130.3 57.8h0M130.2 53.8h0M131.0 66.8h0M127.4 61.2h0M131.2 52.1h0M131.2 56.4h0M128.2 63.7h0M126.4 62.0h0M127.4 60.0h0M124.7 62.5h0M132.6 51.4h0M129.4 53.8h0M126.8 53.1h0" stroke="#666" stroke-width="0.60" stroke-linecap="round" opacity="1"/>
<ellipse cx="128.40" cy="58.40" rx="4.30" ry="7.80" transform="rotate(5 128.40 58.40)" fill="#555" stroke="#222" stroke-width="0.8" opacity="1"/>
<ellipse cx="128.40" cy="58.40" rx="3.40" ry="6.40" transform="rotate(5 128.40 58.40)" fill="#222" stroke="#000" stroke-width="1.2" opacity="1"/>
<ellipse cx="128.70" cy="58.20" rx="1.50" ry="3.60" transform="rotate(5 128.70 58.20)" fill="#666" stroke="none" stroke-width="0" opacity="1"/>
<ellipse cx="128.90" cy="57.80" rx="0.60" ry="2.00" transform="rotate(5 128.90 57.80)" fill="#ddd" stroke="none" stroke-width="0" opacity="1"/>
<rect x="127.40" y="25.70" width="33.00" height="13.60" fill="none" stroke="#5567b0" stroke-width="0.8"/>
<rect x="134.40" y="39.40" width="25.80" height="29.20" fill="none" stroke="#5567b0" stroke-width="0.8"/>
<rect x="123.20" y="48.90" width="11.20" height="19.70" fill="none" stroke="#5567b0" stroke-width="0.8"/>
<path d="M128.0,68.8 L128.0,72.5 L196,72.5" fill="none" stroke="#555" stroke-width="0.9"/>
<path d="M195.5,71.1 L198.5,72.5 L195.5,73.9 Z" fill="#111"/>
<path d="M219.0 49.5h0M214.9 50.8h0M219.4 47.4h0M221.8 43.1h0M219.4 49.9h0M223.4 48.6h0M215.7 44.8h0M224.8 55.3h0M219.4 41.1h0M218.7 56.9h0M218.0 54.5h0M217.6 53.1h0M218.7 48.2h0M219.2 52.9h0M217.9 48.3h0M220.8 39.1h0M216.2 59.2h0M221.1 48.2h0M222.6 46.7h0M216.5 50.8h0M216.8 48.8h0M215.8 56.0h0M223.2 49.8h0M222.6 53.6h0M216.6 53.0h0M218.8 47.0h0M218.8 48.3h0M226.1 40.5h0M214.9 54.2h0M216.0 39.7h0M218.9 56.4h0M219.7 58.4h0M222.5 52.0h0M218.6 48.6h0M221.7 48.3h0M218.4 40.9h0M218.2 53.2h0M225.1 44.0h0M216.2 50.9h0M217.8 56.4h0M216.5 52.5h0M221.2 52.2h0M216.8 43.1h0M218.2 56.2h0M215.8 51.6h0M219.4 59.0h0M216.9 43.0h0M216.7 43.6h0M219.0 51.2h0M221.6 50.0h0M219.1 53.1h0M219.5 44.1h0M220.4 56.8h0M218.1 55.7h0M219.9 56.8h0M215.8 48.8h0M219.3 55.3h0M220.0 53.8h0M216.3 58.0h0M219.6 57.7h0M215.7 52.7h0M216.4 50.3h0M218.7 53.9h0M215.2 38.3h0M215.3 54.9h0M215.1 54.3h0M216.7 46.9h0M217.6 51.7h0M221.3 44.8h0M215.0 58.1h0M221.1 49.3h0M215.3 53.9h0M217.2 38.6h0M220.0 56.2h0M221.7 44.2h0M214.6 50.3h0M218.7 54.5h0M223.0 46.1h0M221.0 52.8h0M215.5 57.5h0M222.5 48.6h0M214.9 52.7h0M218.6 47.8h0M215.6 56.0h0M215.3 50.9h0M220.9 59.1h0M220.3 52.5h0M223.9 55.6h0M219.5 55.2h0M220.6 53.5h0M217.4 43.3h0M225.2 44.9h0M224.7 58.7h0M215.9 53.5h0M217.9 41.1h0M216.8 53.6h0M222.1 45.4h0M219.2 52.4h0M218.5 52.8h0M216.7 44.5h0M219.6 54.1h0M220.0 58.8h0M214.8 54.2h0M217.9 56.0h0M229.2 49.2h0M217.4 48.7h0M218.9 54.9h0M214.6 59.2h0M222.0 54.4h0M217.6 50.7h0M221.5 46.9h0M216.2 56.7h0M224.5 48.2h0M221.9 48.4h0M219.4 54.7h0M224.3 52.3h0M218.9 45.6h0M224.3 52.3h0M225.7 48.5h0M215.7 48.8h0M216.0 55.0h0M223.1 46.5h0M219.5 42.1h0M223.3 51.5h0M215.2 52.3h0M219.3 50.9h0M223.3 48.1h0M214.8 49.0h0M219.4 51.0h0M218.3 49.5h0M217.7 54.7h0M220.6 47.7h0M217.6 47.8h0M217.4 44.1h0M221.3 55.7h0M217.6 48.2h0M216.4 48.3h0M229.5 45.2h0M220.1 43.3h0M216.3 52.5h0M218.0 48.9h0M217.5 50.4h0M222.4 51.5h0M217.9 49.1h0M215.8 47.9h0M221.9 53.3h0M223.8 57.6h0M218.7 51.1h0M216.9 43.3h0M218.8 54.7h0M218.7 49.4h0M219.6 58.0h0M216.9 54.8h0M221.6 49.3h0M218.6 47.9h0M220.1 50.0h0M222.0 47.8h0M223.9 50.3h0M215.1 47.0h0M220.3 47.3h0M224.3 59.1h0M219.8 44.2h0M217.9 48.0h0M225.7 49.1h0M220.8 59.1h0M214.6 50.1h0M218.9 54.6h0M217.6 57.2h0M216.2 50.3h0M220.5 48.5h0M227.6 48.1h0M220.9 57.6h0M221.4 50.9h0M215.1 50.6h0M220.3 52.7h0M220.0 55.2h0M214.9 46.9h0M223.0 49.3h0M215.1 46.9h0M221.4 45.8h0M215.0 57.8h0M218.5 52.3h0M215.8 50.8h0M216.2 51.9h0M220.7 45.0h0M214.8 40.5h0M223.3 51.6h0M218.0 51.7h0M221.5 53.8h0M221.0 51.1h0M217.6 51.7h0M220.3 52.3h0M214.9 51.5h0M221.5 50.8h0M217.6 50.1h0M222.8 38.4h0M222.5 57.8h0M217.7 55.1h0M214.6 58.1h0M228.7 46.9h0M222.9 51.7h0M216.8 49.3h0M217.3 45.1h0M217.9 55.0h0M219.1 54.6h0M220.2 57.5h0M219.2 52.2h0M215.7 53.9h0M218.1 47.9h0M219.2 48.3h0M221.3 55.4h0M215.6 55.2h0M218.2 48.1h0M214.8 42.9h0M222.2 48.5h0M218.6 53.9h0M220.7 54.4h0M222.3 56.2h0M215.3 54.2h0M218.1 55.2h0M216.9 56.6h0M222.6 47.4h0M216.1 53.4h0M219.7 52.8h0M220.9 45.5h0M220.7 58.4h0M221.9 54.3h0M217.2 54.2h0M217.7 43.3h0M215.9 51.8h0M216.2 46.9h0M217.2 50.0h0M218.2 51.7h0M218.6 57.5h0M218.5 54.2h0M216.6 55.7h0M216.8 48.6h0M216.2 53.3h0M222.0 54.9h0M225.9 51.3h0M221.3 55.8h0M215.7 52.3h0M216.0 46.4h0M219.0 47.7h0" stroke="#666" stroke-width="0.60" stroke-linecap="round" opacity="1"/>
<path d="M236.8 45.6h0M221.2 50.5h0M221.4 50.3h0M220.7 41.5h0M235.7 52.7h0M226.1 47.2h0M224.0 51.8h0M215.3 45.2h0M218.8 57.6h0M217.6 57.0h0M224.5 50.2h0M234.5 55.2h0M231.6 43.6h0M224.3 47.1h0M217.4 56.1h0M227.1 50.0h0M231.1 49.9h0M235.3 44.3h0M231.2 44.0h0M234.9 48.3h0M233.6 47.5h0M227.8 56.9h0M218.7 50.6h0M219.1 55.1h0M220.8 47.8h0M223.6 57.0h0M217.7 49.8h0M222.7 46.7h0M219.5 49.0h0M226.4 40.7h0M226.6 42.9h0M218.2 49.6h0M223.2 55.9h0M221.7 39.3h0M226.8 56.4h0M221.2 54.0h0M217.6 57.8h0M224.5 45.9h0M219.1 42.6h0M217.9 43.1h0M224.6 52.1h0M223.9 51.2h0M233.3 48.3h0M216.2 36.3h0M226.7 45.9h0M223.3 52.5h0M228.2 40.6h0M218.3 50.4h0M224.0 56.9h0M221.5 37.6h0M233.2 40.2h0M218.2 52.3h0M226.7 53.2h0M228.8 45.7h0M233.8 39.9h0M220.9 51.7h0M226.0 44.2h0M236.1 58.8h0M218.5 52.2h0M220.6 47.4h0M231.9 50.8h0M224.2 50.6h0M216.8 57.3h0M219.7 57.9h0M221.8 47.3h0M235.4 51.1h0M220.5 46.8h0M229.3 47.6h0M217.2 46.0h0M224.2 51.5h0M220.4 57.7h0M218.3 45.7h0M228.5 52.9h0M222.3 55.8h0M225.4 58.0h0M223.6 51.2h0M228.7 39.5h0M231.5 52.0h0M226.4 58.3h0M227.3 38.6h0M218.4 48.2h0M226.0 47.3h0M231.6 53.6h0M225.1 50.4h0M227.5 51.5h0M219.9 54.7h0M219.2 49.8h0M222.5 43.1h0M229.2 49.6h0M216.9 49.5h0M215.4 58.6h0M221.0 54.2h0M218.2 44.9h0M224.4 52.5h0M231.5 48.4h0M232.7 55.8h0M218.9 48.9h0M221.2 55.3h0M231.4 48.5h0M221.6 52.1h0M219.6 42.4h0M218.3 52.0h0M217.0 56.9h0M229.9 50.8h0M235.3 47.8h0M221.3 43.7h0M220.4 50.7h0M229.7 57.6h0M223.1 45.6h0M222.7 47.4h0M221.7 47.6h0M218.9 49.7h0M221.4 49.0h0M215.4 50.9h0M229.0 53.9h0M221.2 43.2h0M216.0 43.0h0M220.5 48.2h0M220.0 54.9h0M237.8 47.9h0M223.1 47.7h0M223.6 49.0h0M242.1 43.5h0M224.2 45.3h0M227.5 46.9h0M229.0 43.6h0M239.6 51.2h0M221.7 43.1h0M228.1 46.9h0M230.1 46.8h0M231.3 50.9h0M227.5 50.9h0M222.5 47.9h0M228.1 54.2h0M236.7 43.2h0M232.5 49.6h0M226.6 45.3h0M236.4 45.1h0M224.4 45.7h0M238.4 57.4h0M215.9 47.3h0M227.5 47.5h0M222.6 43.6h0M226.7 43.5h0M227.6 46.0h0M222.6 44.3h0M225.8 54.1h0M231.4 48.4h0M216.8 49.6h0M236.6 51.7h0M224.6 37.7h0M222.0 53.2h0M218.5 58.0h0M221.1 44.9h0M221.0 49.5h0M231.9 46.7h0M228.6 59.1h0M217.3 58.7h0M229.7 52.7h0M219.7 44.8h0M218.4 55.5h0M226.5 56.3h0M237.5 50.1h0M216.0 47.4h0M222.5 47.8h0M226.0 45.1h0M233.0 42.0h0M219.4 40.1h0M215.3 53.5h0M229.3 48.9h0M230.8 53.7h0" stroke="#9a9a9a" stroke-width="0.60" stroke-linecap="round" opacity="1"/>
<path d="M221.6 61.5h0M227.2 63.9h0M222.4 61.9h0M228.2 62.9h0M227.5 62.8h0M218.7 61.2h0M238.8 61.8h0M225.5 61.8h0M225.9 60.0h0M220.9 61.3h0M226.0 60.5h0M224.4 60.6h0M217.2 60.7h0M220.3 62.5h0M232.9 62.2h0M223.8 60.9h0M215.7 60.9h0M234.2 62.9h0M226.3 61.2h0M225.0 62.0h0M225.0 62.0h0M220.5 61.6h0M222.9 62.8h0M217.7 63.0h0M224.5 60.9h0M225.1 61.7h0M223.6 62.0h0M221.6 59.5h0M229.1 61.5h0M234.8 62.0h0M220.9 62.1h0M238.1 62.8h0M218.6 61.4h0M215.5 62.3h0M228.3 60.3h0M227.7 62.6h0M229.8 60.7h0M220.9 60.2h0M217.4 61.9h0M225.2 63.0h0M226.6 61.1h0M216.6 63.3h0M226.0 61.5h0M219.1 60.3h0M228.7 60.4h0M228.4 62.2h0M222.8 59.6h0M227.4 63.2h0M220.1 60.0h0M231.4 61.7h0M221.3 62.9h0M223.4 62.0h0M222.6 60.6h0M226.3 60.5h0M232.3 62.8h0M237.8 62.7h0M234.5 61.8h0" stroke="#888" stroke-width="0.60" stroke-linecap="round" opacity="1"/>
<path d="M215,59.3 C222,59.0 230,59.6 236.5,61.5 C230,63.4 222,63.9 215,63.6 Z" fill="#bbb" stroke="#222" stroke-width="0.9" opacity="1"/>
<path d="M216,60.6 C222,60.4 227,60.8 231.5,61.5 C227,62.3 222,62.6 216,62.4 Z" fill="#fff" stroke="#555" stroke-width="0.4" opacity="1"/>
<path d="M206.80,47.00 C207.05,44.17 207.38,42.20 208.00,41.00 C208.62,39.80 209.67,39.80 210.50,39.80 C211.33,39.80 212.32,39.80 213.00,41.00 C213.68,42.20 214.33,44.17 214.60,47.00 C214.87,49.83 214.73,55.08 214.60,58.00 C214.47,60.92 214.48,63.17 213.80,64.50 C213.12,65.83 211.60,66.00 210.50,66.00 C209.40,66.00 207.87,65.83 207.20,64.50 C206.53,63.17 206.57,60.92 206.50,58.00 C206.43,55.08 206.55,49.83 206.80,47.00 Z" fill="#333" stroke="#000" stroke-width="0.9" opacity="1"/>
<path d="M208.40,48.00 C208.57,45.75 209.03,44.40 209.40,43.50 C209.77,42.60 210.20,42.60 210.60,42.60 C211.00,42.60 211.43,42.60 211.80,43.50 C212.17,44.40 212.63,45.75 212.80,48.00 C212.97,50.25 212.93,54.58 212.80,57.00 C212.67,59.42 212.37,61.42 212.00,62.50 C211.63,63.58 211.07,63.50 210.60,63.50 C210.13,63.50 209.57,63.58 209.20,62.50 C208.83,61.42 208.53,59.42 208.40,57.00 C208.27,54.58 208.23,50.25 208.40,48.00 Z" fill="#777" stroke="#111" stroke-width="0.4" opacity="1"/>
<path d="M210.1 55.3h0M209.5 56.6h0M210.1 54.3h0M209.6 52.4h0M211.8 52.0h0M209.8 54.4h0M211.6 52.1h0M209.2 45.5h0M209.0 58.2h0M210.5 55.4h0M211.9 54.4h0M211.2 50.6h0M208.7 56.1h0M210.5 55.8h0M209.3 52.4h0M213.0 49.0h0M210.7 59.4h0M210.3 53.7h0M208.1 56.8h0M210.1 59.3h0M210.5 51.3h0M211.1 51.9h0M210.0 60.5h0M211.8 53.6h0M211.6 57.0h0M211.3 53.3h0M210.7 55.0h0M211.3 54.8h0M210.0 52.7h0M211.1 48.3h0M210.6 56.7h0M210.8 51.7h0M210.6 50.7h0M211.8 51.3h0M208.6 47.3h0M211.0 54.1h0M210.0 46.8h0M210.4 49.0h0M209.8 53.1h0M209.7 54.6h0M209.7 50.8h0M210.3 60.1h0M212.5 57.6h0M209.7 53.1h0M211.7 56.9h0M208.7 52.8h0M209.7 56.7h0M211.3 50.5h0M213.1 51.7h0M213.5 52.3h0M210.5 62.2h0M210.0 50.8h0M212.3 52.9h0M211.2 47.1h0M212.7 57.8h0M211.0 56.5h0M210.0 50.8h0M208.8 54.8h0M212.1 57.2h0M211.7 56.5h0" stroke="#222" stroke-width="0.60" stroke-linecap="round" opacity="1"/>
<ellipse cx="210.60" cy="53.00" rx="0.70" ry="5.00" transform="rotate(0 210.60 53.00)" fill="#999" stroke="none" stroke-width="0" opacity="1"/>
<rect x="205.50" y="34.80" width="10.00" height="23.60" fill="none" stroke="#5567b0" stroke-width="0.8"/>
<rect x="205.50" y="58.40" width="10.00" height="7.60" fill="none" stroke="#5567b0" stroke-width="0.8"/>
<rect x="215.50" y="58.40" width="25.40" height="7.60" fill="none" stroke="#5567b0" stroke-width="0.8"/>
<path d="M50.1 137.7h0M66.9 151.7h0M70.6 147.5h0M50.5 154.4h0M54.0 134.5h0M53.5 141.8h0M48.0 144.9h0M70.2 172.6h0M78.6 146.2h0M72.3 149.5h0M64.3 143.7h0M59.2 134.2h0M79.3 142.9h0M66.3 144.6h0M62.9 139.0h0M56.0 158.9h0M66.4 131.7h0M69.2 137.7h0M63.1 155.1h0M53.1 147.1h0M57.4 154.0h0M69.8 163.1h0M63.5 169.1h0M49.8 167.1h0M57.2 157.5h0M58.6 151.0h0M50.1 153.9h0M81.8 151.6h0M59.8 150.2h0M67.7 148.2h0M60.0 152.2h0M74.0 159.2h0M48.7 144.2h0M60.2 158.2h0M70.4 148.2h0M82.9 148.6h0M75.1 163.7h0M77.2 152.1h0M66.2 135.6h0M40.8 144.4h0M67.7 160.3h0M58.9 160.0h0M66.2 164.6h0M42.9 142.3h0M49.7 140.2h0M77.8 141.4h0M51.1 146.4h0M69.5 145.8h0M67.9 155.4h0M50.1 138.3h0M77.6 143.3h0M48.5 153.7h0M60.6 141.3h0M71.8 158.8h0M63.0 143.0h0M50.6 130.7h0M64.1 153.9h0M50.1 150.4h0M41.6 155.9h0M55.4 145.5h0M66.7 148.9h0M70.7 155.0h0M72.5 151.3h0M36.7 163.0h0M41.7 160.1h0M62.7 136.9h0M60.7 158.5h0M49.0 150.5h0M52.0 140.6h0M53.3 162.3h0M67.4 149.9h0M59.1 151.3h0M63.1 151.9h0M41.5 158.9h0M67.6 138.7h0M58.5 149.2h0M53.6 155.2h0M57.1 147.5h0M49.7 147.5h0M48.8 150.5h0M74.3 159.7h0M64.6 137.2h0M71.1 159.0h0M60.2 146.9h0M71.8 139.8h0M55.9 172.2h0M70.7 131.1h0M60.2 163.1h0M53.3 155.8h0M61.1 136.2h0M53.2 160.9h0M72.8 144.4h0M72.2 143.3h0M62.7 149.9h0M46.5 153.2h0M51.0 142.0h0M51.0 140.8h0M69.6 150.8h0M62.8 147.5h0M60.7 147.6h0M48.2 135.6h0M60.8 159.8h0M62.5 165.4h0M45.2 147.5h0M53.3 161.8h0M78.3 145.1h0M67.9 147.8h0M49.2 149.0h0M48.7 164.8h0M66.4 161.4h0M68.7 150.9h0M70.9 166.4h0M48.9 157.6h0M63.6 148.4h0M56.9 155.1h0M66.2 156.3h0M55.6 137.4h0M74.3 162.5h0M53.9 149.7h0M68.7 133.2h0M65.4 173.2h0M62.9 143.3h0M82.1 150.1h0M62.3 146.0h0M62.0 132.9h0M46.1 135.9h0M69.8 149.2h0M72.5 130.5h0M53.5 164.0h0M51.4 132.2h0M51.9 146.7h0M59.9 162.5h0M74.4 164.9h0M66.3 145.2h0M54.6 135.9h0M73.8 162.0h0M61.0 141.5h0M67.3 154.7h0M61.7 138.9h0M62.6 144.6h0M68.0 155.7h0M64.8 145.9h0M76.5 157.4h0M73.7 158.1h0M67.2 153.8h0M48.4 132.6h0M49.9 155.9h0M69.8 151.8h0M61.0 167.6h0M55.7 132.9h0M43.3 146.9h0M67.6 157.1h0M57.6 157.8h0M59.5 143.1h0M55.9 157.3h0M70.3 139.2h0M49.3 151.2h0M83.0 138.8h0M46.5 154.0h0M65.5 144.1h0M59.7 154.7h0M41.2 149.8h0M66.5 158.9h0M72.6 149.3h0M44.4 162.9h0M68.3 143.9h0M71.2 160.0h0M54.9 142.8h0M51.0 149.2h0M48.3 153.7h0M80.4 138.6h0M71.2 144.9h0M65.9 148.8h0M73.8 143.2h0M67.9 142.6h0M62.5 149.9h0M71.7 134.9h0M45.5 163.3h0M64.2 166.3h0M48.9 152.0h0M66.5 166.9h0M59.4 145.7h0M67.7 149.0h0M51.9 157.3h0M39.5 140.3h0M74.7 145.2h0M56.5 153.6h0M72.1 155.1h0M49.6 144.6h0M71.3 148.9h0M53.2 158.4h0M72.3 170.9h0M48.4 143.2h0M52.5 153.4h0M54.9 160.7h0M53.1 147.4h0M66.1 151.9h0M49.1 164.4h0M66.2 145.3h0M62.2 139.4h0M46.8 147.1h0M63.9 151.0h0M51.7 136.7h0M42.0 165.3h0M64.0 142.3h0M72.7 155.2h0M55.6 144.1h0M72.2 153.1h0M77.6 153.5h0M53.7 144.3h0M52.5 152.4h0M62.7 155.8h0M64.8 139.9h0M57.8 141.0h0M65.2 137.4h0M53.8 141.8h0M53.4 147.5h0M76.2 147.5h0M44.6 147.1h0M68.0 155.3h0M62.6 169.1h0M71.9 150.9h0M73.0 137.2h0M58.2 141.7h0M61.9 165.5h0M54.7 165.3h0M49.1 163.7h0M41.9 141.9h0M70.7 149.1h0M61.6 149.9h0M61.9 148.3h0M49.5 147.2h0M61.2 141.4h0M65.0 166.9h0M42.4 144.8h0M57.0 150.2h0M61.0 143.0h0M59.6 150.1h0M59.1 164.8h0M61.4 135.8h0M43.3 155.7h0M56.4 144.1h0M45.5 147.0h0M59.0 143.4h0M56.2 158.5h0M68.4 155.2h0M58.1 137.0h0M68.3 164.4h0M73.6 161.2h0M63.0 153.6h0M59.9 162.0h0M57.1 170.6h0M68.3 146.9h0M60.0 134.6h0M52.2 147.1h0M69.8 150.7h0M56.8 156.0h0M38.7 159.1h0M80.7 152.8h0M59.3 151.5h0M67.1 145.3h0M61.3 154.8h0M56.3 153.7h0M63.6 156.9h0M49.5 144.9h0M55.4 161.5h0M62.7 134.1h0M46.4 168.6h0M63.6 137.6h0M50.3 151.4h0M75.2 165.5h0M56.1 147.1h0M80.5 140.6h0M76.7 153.3h0M61.0 162.4h0M65.2 142.0h0M43.7 150.2h0M65.5 163.1h0M66.6 164.6h0M68.5 152.0h0M64.6 153.8h0M53.3 148.9h0M61.4 145.7h0M44.4 136.1h0M65.4 155.0h0M61.2 138.8h0M69.1 146.2h0M37.8 165.0h0M44.1 171.6h0M65.7 145.8h0M34.9 143.2h0M75.8 163.1h0M62.8 133.6h0M55.9 147.3h0M64.9 148.8h0M63.7 134.3h0M53.1 163.9h0M44.5 158.9h0M84.7 156.3h0M45.2 162.0h0M40.2 153.2h0M55.6 161.9h0M72.6 151.8h0M79.1 159.5h0M54.9 140.6h0M64.4 148.9h0M55.0 134.5h0M58.5 148.9h0M70.5 145.1h0M43.3 139.7h0M59.6 152.4h0M67.7 146.3h0M65.8 151.4h0M78.0 149.5h0M61.5 155.5h0M73.0 141.1h0M54.9 147.4h0M37.2 162.5h0M71.5 150.2h0M81.6 165.1h0M69.7 136.4h0M76.4 154.0h0M47.2 150.5h0M68.1 159.5h0M61.9 145.0h0M68.2 142.7h0M59.2 157.4h0M44.6 153.6h0M39.1 141.1h0M46.8 149.1h0M67.6 149.5h0M69.8 150.9h0M57.8 154.7h0M57.5 151.3h0M71.1 144.5h0M72.3 139.3h0M57.7 133.3h0M54.3 165.3h0M63.8 162.2h0M44.3 140.3h0M65.0 158.0h0M68.9 133.9h0M65.5 149.3h0M61.3 154.6h0M57.0 133.7h0M48.6 136.1h0M45.9 148.7h0M74.0 143.1h0M51.8 138.9h0M41.5 150.6h0M54.8 147.7h0M49.7 154.7h0M47.1 155.3h0M52.9 157.6h0M50.5 154.3h0M64.7 149.2h0M77.5 151.7h0M50.5 156.7h0M51.2 144.8h0M60.1 151.8h0M78.3 133.2h0M57.2 160.9h0M58.3 153.1h0M76.3 138.1h0M60.5 157.7h0M53.7 133.1h0M49.3 151.9h0M62.0 167.8h0M74.2 135.1h0M71.1 158.8h0M77.4 148.5h0M54.0 151.4h0M76.6 156.0h0M78.2 157.6h0M53.7 140.2h0M79.8 135.4h0M56.3 146.9h0M50.2 144.5h0M60.1 173.0h0M59.3 144.9h0M61.3 159.1h0M51.3 146.1h0M41.3 156.8h0M67.3 164.5h0M47.2 171.0h0M69.4 147.3h0M55.8 147.0h0M47.0 157.5h0M53.5 143.0h0M65.5 151.1h0M53.7 147.7h0M54.7 163.0h0M70.7 143.0h0M59.6 163.3h0M56.9 167.2h0M64.8 156.5h0M37.7 158.2h0M63.6 155.6h0M65.2 155.1h0M54.6 158.7h0M60.7 139.8h0M49.1 151.6h0M37.9 160.2h0M59.9 177.6h0M43.6 147.6h0M53.6 155.4h0M75.1 165.6h0M49.2 162.0h0M47.0 153.0h0M61.8 156.0h0M51.4 163.0h0M59.3 149.8h0M57.1 139.7h0M67.7 153.3h0M64.9 168.1h0M50.7 147.2h0M60.1 158.3h0M58.1 159.1h0M64.9 132.9h0M52.7 130.3h0M56.9 146.0h0M66.3 151.7h0M59.3 162.2h0M66.4 138.1h0M52.6 153.2h0M78.3 148.1h0M58.2 152.6h0M68.4 149.1h0M63.2 145.9h0M54.1 142.3h0M67.1 144.6h0M65.9 153.9h0M49.6 138.2h0M58.2 157.8h0M74.6 153.7h0M55.8 155.2h0M36.6 159.0h0M60.1 156.0h0M48.9 139.4h0M53.1 149.6h0M63.8 146.6h0M63.8 156.6h0M47.5 149.0h0M43.3 144.7h0M69.7 143.1h0M80.0 154.9h0M69.6 151.0h0M69.3 160.6h0M61.2 144.9h0M54.1 168.8h0M58.0 145.6h0M52.4 133.6h0M54.6 153.2h0M54.8 142.6h0M64.4 154.5h0M55.3 153.0h0M49.5 158.4h0M49.4 146.7h0M61.5 145.9h0M47.7 170.4h0M76.3 133.0h0M61.3 137.7h0M63.4 137.3h0M66.2 155.2h0M78.4 161.7h0M55.1 159.2h0M55.1 148.9h0M54.6 132.9h0M66.5 130.2h0M57.5 155.1h0M61.2 134.7h0M53.0 156.6h0M71.8 165.5h0M40.5 154.5h0M54.8 157.4h0M41.9 148.6h0M67.6 143.7h0M56.1 140.5h0M72.0 137.1h0M50.2 146.8h0M56.6 170.6h0M63.0 141.9h0M66.2 153.3h0" stroke="#666" stroke-width="0.60" stroke-linecap="round" opacity="1"/>
<path d="M76.8 151.6h0M77.4 144.0h0M72.5 149.1h0M72.8 156.8h0M81.7 160.4h0M77.3 154.3h0M74.0 143.1h0M77.6 141.9h0M76.9 151.0h0M78.2 152.3h0M76.3 148.0h0M71.0 149.7h0M78.0 159.1h0M80.0 145.2h0M73.3 156.8h0M74.7 169.5h0M76.9 141.6h0M74.4 162.7h0M70.7 153.0h0M71.9 162.9h0M74.7 145.0h0M71.0 147.1h0M68.5 148.8h0M82.4 152.7h0M75.2 144.1h0M77.0 148.8h0M73.5 161.4h0M77.3 145.9h0M80.3 151.6h0M77.5 153.0h0M79.5 156.2h0M75.0 156.9h0M74.9 152.9h0M80.8 144.8h0M73.0 149.3h0M74.5 160.9h0M71.3 167.6h0M80.6 148.9h0M76.5 149.5h0M78.0 156.5h0M78.2 157.2h0M81.7 150.8h0M78.1 150.7h0M76.1 153.5h0M75.8 154.4h0M73.5 151.0h0M74.2 144.0h0M73.9 148.6h0M75.6 141.3h0M75.2 144.3h0M73.6 153.3h0M79.3 154.0h0M74.6 149.0h0M79.9 140.9h0M79.3 141.8h0M74.1 152.3h0M75.4 163.4h0M77.5 151.7h0M78.8 152.3h0M73.6 159.7h0M80.4 160.7h0M72.6 165.0h0M74.8 157.2h0M79.5 168.2h0M71.3 145.0h0M79.5 155.4h0M75.1 132.0h0M77.3 150.7h0M68.3 170.3h0M68.7 148.2h0M76.0 153.6h0M78.2 150.2h0M73.4 149.5h0M69.8 144.4h0M81.8 147.3h0M75.8 165.0h0M79.1 152.8h0M78.2 150.2h0M73.3 158.8h0M76.4 163.0h0M75.2 149.4h0M77.0 150.7h0M75.1 145.9h0M76.7 154.2h0M81.4 151.8h0M70.8 155.2h0M82.7 149.0h0M73.6 150.9h0M67.6 149.7h0M75.4 141.7h0M77.7 146.0h0M70.6 147.1h0M77.9 165.2h0M79.7 153.3h0M74.5 150.2h0M78.8 148.5h0M77.2 158.6h0M73.3 148.0h0M77.3 152.1h0M75.6 148.4h0M75.8 164.7h0M80.0 141.0h0M76.1 152.6h0M76.1 142.5h0M75.6 153.0h0M74.0 154.1h0M68.8 141.7h0M76.3 154.7h0M75.5 148.9h0M76.5 159.4h0M78.6 151.5h0M74.6 159.3h0M77.6 158.1h0M75.2 146.1h0M76.6 147.7h0M79.4 157.9h0M69.6 156.6h0M79.9 159.1h0M74.6 146.1h0M78.9 158.9h0M76.2 144.1h0M71.5 153.8h0M73.6 147.3h0M77.3 159.2h0M69.9 147.4h0M79.8 151.7h0M75.0 156.4h0M72.6 143.6h0M76.1 162.7h0M79.0 152.0h0M79.0 149.2h0M72.5 140.5h0M76.8 158.2h0M77.1 151.7h0M74.8 159.5h0M75.9 142.1h0M80.0 147.6h0M77.2 152.0h0M79.1 153.7h0M79.6 153.4h0M74.6 148.5h0M77.9 146.3h0M78.7 150.4h0M73.3 146.0h0M75.6 164.1h0M78.3 152.1h0M73.3 165.1h0M75.2 152.0h0M74.8 161.1h0M76.5 148.9h0M76.5 145.2h0M72.9 150.9h0M67.5 160.1h0M81.9 144.4h0M75.6 141.2h0M76.5 153.5h0M78.2 142.9h0M74.2 147.6h0M75.3 167.7h0M75.4 151.7h0M74.5 157.5h0M83.6 160.0h0M80.5 144.6h0M79.1 152.2h0M79.7 159.3h0M77.9 140.5h0M76.4 148.6h0M77.3 152.3h0M79.1 141.0h0M73.8 151.5h0M76.9 149.2h0M75.9 152.4h0M79.1 151.2h0M76.7 139.5h0M68.3 142.0h0M77.1 136.2h0M77.2 151.3h0M76.0 147.0h0M74.8 157.7h0M77.1 151.8h0M74.6 153.5h0M79.5 151.9h0M74.9 143.9h0M76.3 145.7h0M71.8 158.0h0M74.2 138.0h0M73.9 164.7h0M75.7 142.9h0M72.7 156.9h0M77.2 153.5h0M75.4 155.3h0M80.5 155.4h0M75.5 142.4h0M77.3 162.8h0M77.9 143.4h0M76.5 160.9h0M74.1 155.4h0M79.6 163.3h0M71.3 140.0h0M77.1 156.8h0M75.0 151.9h0M74.8 160.3h0M69.5 153.8h0M72.2 147.3h0M71.5 145.7h0M75.9 152.2h0M81.3 150.5h0M77.0 154.4h0M76.8 162.1h0M76.4 153.0h0M75.7 152.0h0M75.8 158.9h0M76.1 152.5h0M75.9 157.2h0M74.6 158.5h0M74.3 156.8h0M81.7 153.6h0M75.7 143.9h0M78.2 152.1h0M78.7 147.5h0M77.5 164.5h0M77.2 149.7h0M72.1 151.9h0M77.9 156.1h0M72.7 144.9h0M73.1 145.0h0M75.2 153.8h0M81.7 153.4h0M80.3 140.6h0M80.6 157.5h0M77.3 157.7h0M77.8 165.2h0M78.4 140.0h0M70.8 163.1h0M75.8 161.1h0M75.0 147.5h0M75.0 154.2h0M76.6 147.7h0M77.6 156.3h0M73.3 144.3h0M70.2 149.9h0M76.0 147.2h0M74.2 151.1h0M76.1 155.9h0M78.5 155.0h0M79.3 145.3h0M77.8 154.6h0M72.9 147.3h0M77.3 152.5h0M72.3 148.2h0M80.5 157.8h0M76.2 161.3h0M73.3 150.8h0M78.8 149.7h0M72.7 156.1h0M80.7 134.5h0M76.5 143.4h0M75.1 142.2h0M83.7 147.3h0M76.1 147.1h0M73.1 148.9h0M76.6 164.1h0M76.9 162.8h0M72.8 152.5h0M74.7 141.2h0M76.7 146.8h0M74.3 144.8h0M79.0 149.2h0M75.6 153.3h0M72.4 153.6h0M75.5 155.1h0M74.9 152.3h0M77.5 158.7h0M74.0 158.7h0M73.1 150.7h0M76.4 153.0h0M68.6 145.2h0M75.5 158.4h0M73.9 162.5h0M70.7 152.5h0M77.6 152.1h0M76.8 158.5h0M73.6 156.1h0M79.2 150.4h0M69.1 143.8h0M73.5 144.7h0M77.3 146.4h0M83.4 155.9h0M72.1 150.0h0M80.5 156.7h0M73.0 159.2h0M74.6 167.3h0M74.4 156.1h0M77.7 148.9h0M75.5 160.0h0M77.5 151.6h0M77.3 164.1h0M78.8 155.3h0M77.0 141.2h0" stroke="#777" stroke-width="0.60" stroke-linecap="round" opacity="1"/>
<path d="M43.00,134.60 C45.03,133.63 51.17,133.37 55.00,133.20 C58.83,133.03 62.92,133.17 66.00,133.60 C69.08,134.03 72.00,134.57 73.50,135.80 C75.00,137.03 75.00,138.97 75.00,141.00 C75.00,143.03 74.33,145.83 73.50,148.00 C72.67,150.17 71.50,152.12 70.00,154.00 C68.50,155.88 66.67,157.60 64.50,159.30 C62.33,161.00 59.33,162.38 57.00,164.20 C54.67,166.02 52.08,168.82 50.50,170.20 C48.92,171.58 48.22,173.20 47.50,172.50 C46.78,171.80 46.45,168.92 46.20,166.00 C45.95,163.08 46.17,158.33 46.00,155.00 C45.83,151.67 45.73,148.67 45.20,146.00 C44.67,143.33 43.17,140.90 42.80,139.00 C42.43,137.10 40.97,135.57 43.00,134.60 Z" fill="#959595" stroke="#222" stroke-width="1.3" opacity="1"/>
<path d="M60.1 145.7h0M64.8 144.6h0M62.5 140.6h0M66.1 143.5h0M58.8 155.1h0M56.4 150.1h0M67.4 165.7h0M64.3 158.4h0M55.3 150.8h0M57.4 139.4h0M46.7 138.6h0M69.3 146.5h0M62.0 155.7h0M65.2 158.2h0M51.3 145.0h0M54.7 150.9h0M57.0 139.0h0M53.5 165.9h0M62.0 149.7h0M52.3 156.3h0M58.5 164.8h0M62.6 147.2h0M65.7 143.7h0M66.0 156.1h0M61.5 156.7h0M60.2 149.9h0M56.3 147.4h0M59.0 140.6h0M64.1 147.1h0M63.1 145.5h0M62.2 151.1h0M66.0 154.1h0M66.4 148.5h0M58.6 147.7h0M49.1 148.9h0M67.6 156.8h0M52.3 152.7h0M64.9 137.9h0M61.8 152.9h0M64.9 152.3h0M69.1 161.2h0M59.7 139.8h0M69.8 149.7h0M63.1 154.2h0M66.5 159.0h0M47.8 137.5h0M60.1 150.1h0M65.1 148.8h0M69.9 160.3h0M67.2 143.0h0M58.3 149.4h0M50.4 142.3h0M60.3 139.2h0M63.3 154.2h0M57.1 147.0h0M63.8 154.3h0M61.9 139.2h0M53.8 146.8h0M53.2 157.1h0M55.7 145.6h0M52.9 146.1h0M68.4 151.4h0M54.8 161.2h0M62.9 140.9h0M54.5 144.6h0M58.6 160.7h0M53.4 148.7h0M59.9 139.5h0M55.2 155.4h0M64.6 147.4h0M69.2 155.5h0M55.9 142.6h0M47.7 154.9h0M63.1 157.2h0M61.8 136.8h0M55.8 147.9h0M60.3 156.8h0M70.2 152.5h0M49.5 152.1h0M57.3 159.9h0M67.5 146.0h0M66.5 150.1h0M62.6 161.9h0M49.9 149.4h0M71.2 143.3h0M60.7 151.2h0M55.7 138.4h0M53.6 141.3h0M67.5 152.2h0M64.6 139.5h0M63.0 151.3h0M67.3 143.6h0M65.4 162.1h0M73.3 141.8h0M50.1 137.1h0M66.6 155.3h0M61.7 142.4h0M68.9 164.2h0M58.7 148.9h0M68.4 154.5h0M69.6 146.4h0M61.7 147.0h0M54.5 147.4h0M56.8 154.5h0M56.6 150.6h0M52.6 139.2h0M70.3 141.3h0M73.3 158.3h0M55.7 150.2h0M57.6 144.7h0M68.9 148.9h0M66.6 144.0h0M53.6 161.8h0M56.8 140.3h0M57.7 159.3h0M57.7 143.7h0M64.0 158.7h0M57.4 147.2h0M57.5 165.4h0M57.8 153.6h0M59.4 147.2h0M55.8 138.0h0M47.2 151.5h0M54.0 149.2h0M57.6 145.5h0M53.3 166.4h0M50.3 145.5h0M56.7 139.8h0M51.4 157.6h0M66.4 151.2h0M68.8 142.8h0M67.6 164.8h0M56.0 165.9h0M52.7 140.0h0M58.7 142.9h0M64.1 140.3h0M58.8 159.3h0M56.9 152.8h0M67.6 140.4h0M49.0 150.7h0M61.2 147.7h0M51.4 160.7h0M49.8 147.7h0M58.7 156.4h0M55.5 142.8h0M65.3 148.7h0M55.3 149.6h0M57.0 152.7h0M59.6 141.5h0M60.9 147.3h0M70.0 146.1h0M52.5 156.1h0M51.4 143.1h0M58.5 151.1h0M61.1 137.2h0M57.2 147.1h0M53.1 157.7h0M64.2 149.0h0M57.1 147.6h0M46.8 144.5h0M66.4 162.7h0M56.9 138.9h0M50.8 140.3h0M62.2 157.4h0M51.8 165.8h0M60.3 142.7h0M61.8 149.9h0M65.6 153.0h0M54.0 156.9h0M65.0 141.2h0M53.1 142.9h0M57.3 160.8h0M54.6 150.7h0M64.8 158.5h0M61.6 140.9h0M69.8 164.2h0M70.1 153.7h0M62.8 155.6h0M47.2 157.1h0M51.4 153.7h0M51.1 156.3h0M60.6 154.5h0M51.9 147.5h0M58.6 147.5h0M55.6 142.3h0M65.1 146.6h0M52.6 153.2h0M52.6 148.5h0M55.0 141.9h0M57.3 142.8h0M49.2 153.1h0M56.7 137.2h0M55.9 151.6h0M62.4 153.3h0M61.1 155.2h0M55.2 143.0h0M63.9 146.4h0M59.1 155.7h0M66.5 160.7h0M53.6 146.8h0M63.4 137.5h0M49.1 155.3h0M54.2 141.9h0M65.4 154.7h0M66.3 147.1h0M56.8 147.0h0M53.6 156.2h0M52.9 149.4h0M60.0 154.6h0M55.3 140.1h0M59.9 148.3h0M66.8 141.1h0M52.7 143.4h0M55.0 152.3h0M52.9 147.9h0M70.7 162.6h0M56.1 161.4h0M56.5 166.7h0M61.9 162.6h0M52.3 147.3h0M67.1 155.0h0M60.5 155.5h0M54.1 165.2h0M60.3 162.7h0M62.2 150.7h0M56.6 139.8h0M65.9 156.6h0M66.4 146.7h0M51.2 146.7h0M56.6 149.9h0M66.8 142.0h0M55.2 156.0h0M63.2 142.6h0M50.9 143.1h0M59.6 152.2h0M58.6 144.7h0M57.6 149.3h0M63.7 150.7h0M52.7 139.8h0M70.7 149.3h0M57.7 149.8h0M67.9 147.3h0M60.5 147.9h0M63.6 141.2h0M60.7 159.0h0M68.4 155.4h0M61.4 163.7h0M64.6 162.2h0M49.7 140.4h0M65.4 147.7h0M55.7 141.7h0M70.7 139.6h0M59.9 137.9h0M51.2 164.2h0M61.8 140.6h0M47.7 159.8h0M53.4 140.7h0M60.4 148.4h0M67.9 150.8h0M71.6 159.9h0M73.1 159.8h0M59.7 154.8h0M49.9 156.5h0M49.0 149.5h0M51.0 152.2h0M57.6 145.9h0M59.7 138.8h0M56.8 153.2h0M67.3 156.1h0M70.7 137.7h0M64.4 163.7h0M62.2 140.4h0M62.2 145.5h0M54.1 159.3h0M57.7 140.3h0M53.8 167.1h0M52.5 155.9h0M60.5 160.2h0M56.9 141.8h0M54.1 141.1h0M56.6 161.0h0M64.3 148.4h0M64.0 152.4h0M67.9 164.4h0M56.7 149.7h0M57.7 160.7h0M62.1 156.8h0M66.2 144.5h0M60.1 162.1h0M66.4 157.1h0M56.9 146.9h0M52.4 147.7h0M58.6 137.6h0M68.2 143.4h0M61.1 155.3h0M66.7 153.6h0M57.2 159.9h0M66.1 141.7h0M57.1 162.3h0M52.6 157.2h0M47.4 147.5h0M66.5 165.0h0M62.7 156.6h0M59.6 152.3h0M59.4 144.7h0M59.0 148.9h0M64.4 155.9h0M66.8 155.1h0M51.6 162.1h0M61.7 145.4h0M50.0 145.6h0M62.4 156.9h0M60.0 155.8h0M53.7 144.8h0M60.2 138.3h0M60.6 146.6h0M64.5 141.2h0M55.0 145.1h0M56.3 141.3h0M57.1 138.3h0M63.3 155.9h0M59.0 148.4h0M52.2 141.7h0M57.4 142.2h0M50.0 151.5h0M59.0 146.5h0M52.8 149.6h0M53.7 146.3h0M60.6 156.3h0M65.0 144.7h0M68.5 140.0h0M57.8 161.4h0M56.3 146.8h0M49.7 148.8h0M55.8 143.5h0M68.4 143.3h0M72.3 157.3h0M64.1 144.9h0M61.3 147.7h0M62.1 144.2h0M62.9 137.0h0M69.1 147.0h0M57.9 136.6h0M51.4 156.2h0M53.4 149.7h0M57.9 167.3h0M66.0 138.5h0M55.4 140.0h0M48.4 144.1h0M67.7 150.4h0M64.3 148.8h0M55.9 150.7h0M58.5 166.8h0M73.0 153.3h0M52.9 157.1h0M68.6 146.6h0M57.4 146.1h0M65.3 150.2h0M70.7 160.3h0M56.7 144.7h0M57.3 142.4h0M55.9 149.4h0M48.3 143.3h0M56.8 154.0h0M53.0 163.2h0M55.0 148.1h0M59.5 160.2h0M61.4 150.2h0M54.9 151.5h0M62.2 147.0h0M55.0 160.3h0M70.1 149.4h0M55.9 158.8h0M54.3 162.0h0M68.0 140.7h0M57.4 139.5h0M61.2 146.5h0M47.5 140.9h0M61.0 136.7h0M67.4 153.9h0M57.7 162.2h0M52.0 156.0h0M48.6 147.2h0M64.0 145.3h0M58.2 155.7h0M70.8 161.4h0M62.6 147.7h0M47.9 165.0h0M65.8 149.6h0M64.5 152.8h0M57.6 150.0h0M58.8 160.2h0M57.1 145.3h0M64.1 155.6h0M62.4 152.5h0M70.4 159.7h0M60.7 148.2h0M55.1 143.8h0M60.4 146.6h0M59.1 147.2h0M68.6 157.3h0M66.2 160.6h0M56.3 144.2h0M53.5 150.9h0M66.8 140.8h0M55.0 138.3h0M60.8 139.4h0M51.2 144.4h0M59.3 138.9h0M57.3 160.7h0M59.2 150.9h0M58.0 143.9h0M48.4 149.4h0M51.2 145.2h0M46.8 149.2h0M66.1 142.6h0M61.6 136.7h0M63.5 154.8h0M56.1 157.8h0M52.3 150.4h0M72.0 149.8h0M50.4 160.1h0M63.2 147.6h0M47.4 163.0h0M61.3 142.5h0M67.9 162.8h0M52.6 154.2h0M73.0 137.6h0M59.5 144.4h0M58.4 150.8h0M61.2 157.8h0M63.0 159.2h0M66.9 159.6h0M53.9 153.6h0M56.2 142.6h0M57.3 156.8h0M57.5 145.2h0M70.4 147.3h0M56.5 149.1h0M57.3 159.2h0M63.4 149.4h0M56.3 148.0h0M72.1 147.3h0M61.5 156.0h0M68.8 152.8h0M63.5 152.8h0M60.6 142.8h0M63.6 149.0h0M64.0 156.8h0M60.2 146.1h0M61.4 139.1h0M61.2 142.2h0M62.5 151.1h0M57.4 139.4h0M59.5 144.0h0M58.0 156.1h0M66.4 138.7h0M66.2 162.0h0M67.7 152.4h0M58.4 165.3h0M56.6 136.6h0M59.8 152.5h0M51.1 139.3h0M65.1 144.9h0M47.5 148.4h0M69.3 144.1h0M56.9 150.1h0M51.1 147.3h0M54.9 157.8h0M60.2 157.7h0M65.8 157.7h0M55.3 153.6h0M69.6 147.0h0M54.8 143.2h0M66.9 157.6h0M52.0 137.1h0M46.9 143.6h0M49.6 144.1h0M60.3 153.7h0M55.9 144.0h0M70.7 158.3h0M70.2 151.0h0M55.9 149.2h0M48.6 156.5h0M61.2 147.3h0M71.5 162.7h0M65.8 146.9h0M60.1 154.9h0M60.6 159.2h0M48.5 155.8h0M67.3 150.0h0M63.2 150.7h0M60.4 145.9h0M56.0 160.5h0M57.0 149.6h0M68.2 158.7h0M56.1 152.2h0M51.3 151.2h0M61.5 150.0h0M60.3 153.2h0M59.7 145.7h0M51.7 147.9h0M71.4 148.0h0M54.1 145.8h0M50.0 154.3h0M51.5 158.0h0M66.1 155.0h0M67.0 149.3h0M49.7 159.6h0M62.5 161.9h0M64.2 150.6h0M62.4 157.5h0M58.9 148.2h0M61.5 147.2h0M47.5 138.6h0M67.1 146.4h0M60.3 148.1h0M61.2 137.2h0M59.8 145.0h0M67.4 155.5h0M49.4 141.5h0M63.5 160.5h0M65.0 148.7h0M55.0 141.4h0M51.2 155.0h0M61.2 152.5h0M58.1 155.5h0M65.1 145.0h0M66.3 141.8h0M72.7 138.5h0M56.9 140.5h0M59.4 161.6h0M53.3 165.6h0M70.0 153.4h0M54.6 158.0h0M66.5 149.7h0M48.8 148.1h0M63.6 165.0h0M68.9 144.1h0M55.6 139.3h0M65.0 157.3h0M63.7 152.2h0M66.8 148.9h0M64.6 157.2h0M69.2 154.5h0M59.8 156.2h0M71.6 151.2h0M51.0 144.9h0M57.9 150.6h0M53.2 158.8h0M50.7 164.7h0M49.6 150.5h0M61.2 146.3h0M59.2 151.4h0M50.2 150.5h0M51.2 155.9h0M69.6 159.2h0M54.2 149.3h0M60.7 148.1h0M62.2 159.6h0M63.4 149.9h0M57.5 165.8h0M64.9 150.8h0M53.3 166.3h0M68.6 158.1h0M59.9 147.3h0M53.4 150.7h0M63.3 154.7h0M58.0 138.3h0M63.5 155.4h0M59.2 139.8h0M60.6 156.6h0M63.1 161.8h0M51.0 143.9h0M60.5 139.1h0M54.3 162.3h0M61.4 149.1h0M54.6 150.4h0M58.8 140.4h0M65.3 138.6h0M69.2 147.0h0M61.4 142.3h0M73.4 162.3h0M69.8 144.6h0M69.4 146.1h0M58.7 137.9h0M59.6 153.6h0M58.6 140.1h0M66.3 158.1h0" stroke="#555" stroke-width="0.60" stroke-linecap="round" opacity="1"/>
<path d="M51.8 163.4h0M55.0 151.2h0M49.0 161.0h0M49.4 160.7h0M50.6 168.5h0M52.1 158.9h0M49.9 146.9h0M51.5 152.0h0M49.8 160.2h0M49.4 164.0h0M49.5 157.0h0M55.9 161.6h0M51.1 147.4h0M47.3 166.4h0M53.6 158.4h0M55.8 159.0h0M49.9 157.3h0M51.7 157.9h0M52.9 156.3h0M50.0 151.1h0M56.1 166.7h0M52.1 151.0h0M46.8 156.2h0M55.5 161.1h0M47.7 153.4h0M49.8 166.0h0M51.7 151.2h0M49.5 164.3h0M51.7 163.7h0M48.6 164.4h0M47.1 157.8h0M51.4 158.9h0M49.1 164.0h0M59.1 168.5h0M49.2 154.0h0M54.2 158.9h0M49.7 166.7h0M53.6 165.2h0M51.5 167.0h0M50.6 150.2h0M52.0 148.2h0M55.8 163.1h0M47.0 159.2h0M54.6 155.5h0M53.3 153.9h0M51.8 157.4h0M53.5 151.2h0M48.6 160.3h0M50.5 161.6h0M50.5 148.8h0M54.2 159.9h0M54.2 155.6h0M50.9 166.9h0M53.6 157.6h0M52.3 162.2h0M49.7 159.9h0M52.6 158.7h0M54.0 161.9h0M54.1 163.5h0M48.8 166.5h0M48.2 162.8h0M54.8 165.1h0M56.6 148.3h0M53.2 161.3h0M55.8 151.7h0M52.1 155.4h0M51.5 157.0h0M51.9 158.5h0M49.9 153.4h0M49.4 169.3h0M54.8 156.7h0M49.1 161.3h0M50.2 168.4h0M55.4 157.1h0M53.9 152.4h0M47.2 163.9h0M56.9 155.9h0M58.5 149.6h0M49.1 156.6h0M55.7 158.4h0M52.0 158.1h0M54.6 157.7h0M52.5 157.5h0M48.7 167.4h0M49.9 148.7h0M50.7 158.2h0M54.5 147.7h0M48.2 159.3h0M53.2 150.3h0M48.6 159.2h0M51.6 146.6h0M49.4 168.4h0M48.8 165.4h0M47.4 168.4h0M56.8 153.5h0M50.0 162.4h0M48.3 161.9h0M55.7 159.9h0M53.0 156.9h0M55.0 152.2h0M56.8 157.8h0M51.0 146.5h0M50.7 159.7h0M55.8 146.7h0M51.6 153.2h0M48.4 158.0h0M49.7 164.1h0M53.6 155.6h0M52.4 151.2h0M48.8 152.8h0M51.8 152.1h0M50.7 152.0h0M52.7 150.0h0M51.9 158.7h0M54.9 152.8h0M48.6 147.5h0M54.3 153.6h0M55.0 157.4h0M50.0 163.5h0M50.2 162.8h0M47.0 165.1h0M53.0 149.3h0M50.4 153.4h0" stroke="#444" stroke-width="0.60" stroke-linecap="round" opacity="1"/>
<path d="M56.00,141.00 C57.33,139.42 61.50,139.50 64.00,139.50 C66.50,139.50 69.67,139.75 71.00,141.00 C72.33,142.25 72.50,145.17 72.00,147.00 C71.50,148.83 69.67,150.58 68.00,152.00 C66.33,153.42 63.75,155.08 62.00,155.50 C60.25,155.92 58.50,155.58 57.50,154.50 C56.50,153.42 56.25,151.25 56.00,149.00 C55.75,146.75 54.67,142.58 56.00,141.00 Z" fill="#a6a6a6" stroke="#666" stroke-width="0.5" opacity="0.9"/>
<path d="M59.5 150.2h0M63.6 150.0h0M66.4 142.4h0M57.6 148.9h0M63.1 147.3h0M59.7 151.1h0M65.0 151.6h0M61.6 149.8h0M62.8 143.2h0M62.3 147.7h0M65.8 142.8h0M57.7 144.1h0M60.0 144.3h0M70.1 142.3h0M62.5 146.7h0M60.1 144.1h0M68.2 152.7h0M61.9 149.8h0M64.8 147.4h0M62.5 151.9h0M65.3 146.1h0M62.1 150.7h0M60.6 144.1h0M61.9 145.0h0M68.1 148.4h0M62.6 144.9h0M68.7 148.8h0M71.4 150.6h0M62.1 144.8h0M61.9 147.7h0M66.2 149.0h0M69.3 140.9h0M63.1 141.3h0M58.9 144.6h0M60.4 143.1h0M56.9 151.6h0M61.7 150.9h0M60.6 150.5h0M60.8 148.6h0M58.7 152.6h0M64.7 151.2h0M61.9 152.1h0M63.3 145.0h0M60.4 147.2h0M59.4 142.2h0M63.5 149.8h0M61.8 150.4h0M69.4 141.9h0M64.0 143.1h0M60.4 147.7h0M66.4 149.2h0M65.6 154.3h0M61.5 151.4h0M68.8 149.0h0M62.8 150.0h0M62.0 146.3h0M68.9 144.5h0M59.2 147.2h0M67.5 149.4h0M63.3 145.0h0M67.9 150.5h0M65.5 144.5h0M57.8 145.8h0M62.9 151.7h0M57.9 145.6h0M70.3 147.7h0M60.8 147.8h0M66.1 143.0h0M56.6 140.8h0M66.4 148.2h0M65.9 151.9h0M63.2 147.9h0M64.6 148.9h0M58.7 145.9h0M62.4 147.1h0M60.0 146.5h0M64.1 147.7h0M65.4 150.3h0M65.2 150.9h0M66.4 152.6h0M65.5 144.5h0M68.0 149.9h0M63.2 142.4h0M64.7 145.6h0M69.2 142.3h0M58.6 148.9h0M65.3 143.8h0M63.0 148.0h0M63.6 149.1h0M66.1 145.5h0M61.5 143.0h0M66.0 149.3h0M62.8 148.2h0M64.3 146.1h0M64.3 141.8h0M66.5 145.4h0M60.7 141.0h0M62.5 146.3h0M60.4 140.7h0M63.6 148.7h0M67.6 149.1h0M69.1 151.8h0M62.6 142.8h0M64.7 150.8h0M56.8 142.0h0M65.8 144.8h0M68.8 147.9h0M60.8 141.7h0M57.8 141.7h0M69.8 153.8h0M62.1 145.5h0M65.8 152.0h0M62.2 151.5h0M62.1 141.9h0M70.8 144.2h0M63.0 142.0h0M65.7 147.8h0M61.8 145.4h0M60.7 144.1h0M57.3 151.8h0M66.6 141.4h0M58.3 148.6h0M61.7 146.0h0" stroke="#555" stroke-width="0.60" stroke-linecap="round" opacity="1"/>
<path d="M61.00,143.50 C61.83,142.17 65.50,142.17 67.00,142.50 C68.50,142.83 69.92,144.33 70.00,145.50 C70.08,146.67 68.83,148.67 67.50,149.50 C66.17,150.33 63.08,151.50 62.00,150.50 C60.92,149.50 60.17,144.83 61.00,143.50 Z" fill="#c4c4c4" stroke="#888" stroke-width="0.4" opacity="1"/>
<ellipse cx="66.50" cy="146.00" rx="1.50" ry="1.20" transform="rotate(0 66.50 146.00)" fill="#eeeeee" stroke="none" stroke-width="0" opacity="1"/>
<path d="M74.2,141 C74.5,147 72,152 66,157.5 C61,161.5 55,165.5 49.5,171" fill="none" stroke="#000" stroke-width="1.2" opacity="1"/>
<ellipse cx="53.50" cy="137.20" rx="9.50" ry="3.20" transform="rotate(2 53.50 137.20)" fill="#555" stroke="#111" stroke-width="1.0" opacity="1"/>
<ellipse cx="52.80" cy="137.40" rx="5.20" ry="1.40" transform="rotate(0 52.80 137.40)" fill="#f2f2f2" stroke="none" stroke-width="0" opacity="1"/>
<path d="M55,161.5 C58,158.8 62,157.5 66,157.3 C62,160.5 58,162.5 55,163.2 Z" fill="#fff" stroke="none" stroke-width="0.5" opacity="1"/>
<path d="M47.2,141 C46.8,150 47.5,162 48.2,171" fill="none" stroke="#111" stroke-width="1.4" opacity="1"/>
<path d="M49.5,152 C50.5,157 51.2,162 51,166 C53,163 55,160.5 57,158.5 C54.5,156.5 52,154.5 49.5,152 Z" fill="#bbb" stroke="none" stroke-width="0.5" opacity="0.7"/>
<rect x="41.40" y="131.40" width="39.40" height="45.60" fill="none" stroke="#5567b0" stroke-width="0.8"/>
<path d="M41.4,141.4 L48.5,141.4 L48.5,131.4" fill="none" stroke="#5567b0" stroke-width="0.8" opacity="1"/>
<path d="M41.4,143.0 L52.5,143.0 L64.5,177" fill="none" stroke="#5567b0" stroke-width="0.8" opacity="1"/>
<path d="M48.5,141.4 L53.2,141.8 L64.6,131.4" fill="none" stroke="#5567b0" stroke-width="0.8" opacity="1"/>
<path d="M53.2,141.8 L52.5,143.0" fill="none" stroke="#5567b0" stroke-width="0.8" opacity="1"/>
<line x1="80.80" y1="140.20" x2="114.80" y2="140.20" stroke="#333" stroke-width="0.9"/>
<path d="M114.30,138.80 L117.30,140.20 L114.30,141.60 Z" fill="#111"/>
<path d="M60.8,177.2 L60.8,179.5 L117,179.5" fill="none" stroke="#555" stroke-width="0.9"/>
<path d="M148.2 148.6h0M155.8 157.9h0M151.0 162.6h0M143.9 145.6h0M131.9 131.1h0M149.2 141.4h0M155.6 133.1h0M144.7 146.8h0M136.2 159.0h0M142.4 153.6h0M141.2 151.2h0M141.9 150.6h0M145.1 144.5h0M149.9 148.5h0M137.2 141.6h0M150.0 160.7h0M134.1 146.6h0M150.1 158.4h0M152.4 140.5h0M146.3 157.2h0M148.2 148.2h0M135.3 151.3h0M145.4 150.2h0M159.6 159.5h0M138.8 151.9h0M143.2 150.8h0M160.8 157.3h0M146.4 144.7h0M144.5 152.9h0M141.5 158.8h0M146.2 140.5h0M143.6 149.0h0M154.9 158.9h0M159.2 162.5h0M148.9 150.9h0M155.2 149.8h0M134.6 146.3h0M152.0 154.9h0M136.0 159.6h0M148.8 137.9h0M150.2 158.1h0M150.8 147.5h0M138.8 159.0h0M148.0 149.9h0M142.4 141.7h0M129.0 147.2h0M156.0 156.1h0M139.8 162.3h0M143.9 141.9h0M154.8 161.1h0M142.5 140.2h0M145.4 130.5h0M146.5 162.2h0M148.5 144.1h0M152.4 146.0h0M157.4 147.1h0M164.4 147.2h0M147.7 142.5h0M134.4 152.8h0M149.2 142.2h0M151.1 146.7h0M141.0 149.4h0M149.6 155.8h0M157.2 153.1h0M139.4 144.5h0M149.3 140.4h0M144.5 146.9h0M145.1 151.5h0M155.4 163.1h0M154.0 158.1h0M136.3 158.3h0M157.7 139.1h0M124.5 164.2h0M146.6 143.6h0M140.8 158.6h0M148.3 147.0h0M156.4 142.5h0M138.3 145.5h0M139.2 155.5h0M143.9 141.5h0M141.8 134.1h0M147.5 150.8h0M151.5 148.1h0M149.6 142.5h0M146.2 151.2h0M135.0 154.7h0M147.3 150.4h0M141.7 166.1h0M146.0 143.8h0M138.3 154.7h0M144.1 143.7h0M139.5 157.5h0M146.8 158.4h0M145.8 140.5h0M153.8 152.6h0M140.1 147.5h0M137.2 156.6h0M142.2 153.8h0M148.3 147.9h0M149.3 148.0h0M135.3 146.7h0M135.4 156.0h0M151.9 145.3h0M151.6 152.0h0M154.8 142.5h0M146.2 142.1h0M139.8 161.0h0M127.9 142.7h0M150.4 156.2h0M138.9 133.7h0M130.5 152.9h0M155.9 157.3h0M139.4 160.8h0M144.3 154.9h0M144.3 162.7h0M141.3 132.8h0M143.2 151.5h0M148.5 144.3h0M143.9 140.9h0M143.9 150.7h0M148.2 163.1h0M128.0 154.1h0M149.9 140.7h0M146.6 149.9h0M137.0 155.8h0M163.2 155.4h0M153.0 158.5h0M144.8 157.8h0M138.7 151.4h0M152.3 160.4h0M143.4 147.7h0M150.2 149.4h0M147.2 156.4h0M139.1 157.0h0M149.4 147.9h0M134.8 145.0h0M145.6 157.5h0M128.3 155.7h0M147.7 141.0h0M153.7 153.2h0M149.9 142.2h0M136.1 157.2h0M158.6 152.9h0M144.3 146.4h0M130.6 157.8h0M145.1 159.8h0M139.5 158.4h0M139.6 154.7h0M158.3 144.4h0M154.1 149.9h0M137.6 151.6h0M151.8 144.3h0M143.6 145.5h0M139.1 148.3h0M153.4 146.1h0M157.1 147.0h0M139.8 158.5h0M158.6 144.8h0M151.2 140.8h0M142.4 147.0h0M152.3 140.0h0M141.4 144.5h0M146.9 140.2h0M134.1 172.4h0M147.9 138.1h0M153.4 139.6h0M129.2 163.2h0M157.1 143.3h0M136.3 153.8h0M164.1 154.7h0M151.9 140.6h0M130.1 153.1h0M155.0 151.1h0M146.0 160.9h0M138.5 158.7h0M153.4 145.1h0M147.1 150.9h0M151.2 142.3h0M143.9 150.7h0M146.2 150.2h0M148.2 148.5h0M141.6 158.2h0M140.3 147.5h0M138.2 140.9h0M150.0 149.7h0M144.8 153.6h0M144.5 155.4h0M162.0 152.7h0M143.6 163.1h0M152.3 136.9h0M157.8 151.7h0M153.6 140.9h0M138.5 144.9h0M150.9 141.1h0M139.7 157.5h0M140.3 150.9h0M138.0 136.6h0M145.3 149.0h0M133.3 157.7h0M153.3 157.0h0M141.5 141.0h0M145.2 151.3h0M144.5 145.4h0M137.2 144.2h0M145.3 146.2h0M160.7 147.8h0M150.0 146.3h0M144.4 142.3h0M141.7 138.2h0M127.6 160.5h0M136.7 153.4h0M144.9 145.5h0M152.4 145.6h0M149.8 147.1h0M154.6 157.5h0M146.6 158.6h0M150.4 162.2h0M144.9 137.9h0M147.9 151.9h0M142.8 148.4h0M143.6 140.2h0M161.1 143.9h0M136.5 137.6h0M138.5 149.7h0M159.0 154.7h0M139.6 140.2h0M136.1 149.3h0M153.6 146.2h0M160.1 165.1h0M147.4 133.0h0M155.6 149.2h0M151.9 157.7h0M137.1 150.5h0M147.5 144.1h0M152.1 149.0h0M142.4 164.7h0M147.5 162.8h0M144.6 158.1h0M139.4 151.1h0M155.5 133.0h0M150.7 147.9h0M155.6 151.4h0M145.3 139.9h0M143.1 144.3h0M143.3 151.7h0M134.2 158.3h0M143.7 154.7h0M127.4 145.9h0M143.4 146.9h0M140.1 152.4h0M149.6 142.3h0M128.7 155.7h0M143.1 158.4h0M153.6 149.2h0M133.4 147.1h0M139.6 159.7h0M131.1 157.1h0M132.4 145.5h0M133.5 144.5h0M142.1 152.9h0M140.8 155.4h0M161.3 151.2h0M135.8 148.6h0M145.1 147.2h0M156.1 159.0h0M163.6 154.1h0M122.5 148.9h0M151.8 143.7h0M140.7 157.1h0M147.2 141.2h0M145.9 140.4h0M145.5 140.7h0M137.8 145.9h0M135.5 145.8h0M155.3 156.2h0M152.1 147.4h0M147.1 143.9h0M144.3 143.7h0M133.2 142.2h0M162.9 153.1h0M139.3 149.1h0M142.0 159.5h0M145.7 145.0h0M151.9 152.5h0M139.9 143.9h0M147.2 137.1h0M137.9 157.9h0M153.5 158.7h0M142.0 145.3h0M143.5 146.2h0M157.2 148.2h0M157.8 144.4h0M149.2 162.7h0M139.4 144.9h0" stroke="#555" stroke-width="0.60" stroke-linecap="round" opacity="1"/>
<path d="M130.00,146.00 C131.33,143.50 134.33,142.00 137.00,143.00 C139.67,144.00 143.50,149.17 146.00,152.00 C148.50,154.83 151.33,157.50 152.00,160.00 C152.67,162.50 151.67,165.50 150.00,167.00 C148.33,168.50 144.67,169.17 142.00,169.00 C139.33,168.83 136.17,167.83 134.00,166.00 C131.83,164.17 129.67,161.33 129.00,158.00 C128.33,154.67 128.67,148.50 130.00,146.00 Z" fill="#bbb" stroke="none" stroke-width="0.5" opacity="0.8"/>
<path d="M136.7 147.5h0M138.4 153.2h0M151.8 154.2h0M128.5 162.5h0M145.1 156.8h0M141.5 161.2h0M136.9 157.2h0M140.7 166.7h0M147.5 158.0h0M132.8 162.2h0M139.7 163.8h0M140.2 158.0h0M143.5 152.7h0M136.4 170.4h0M135.3 162.5h0M143.6 161.8h0M147.3 149.1h0M145.1 144.9h0M140.2 159.0h0M145.5 163.3h0M134.9 155.4h0M139.1 152.9h0M135.5 153.1h0M146.1 165.0h0M144.0 166.9h0M140.4 150.6h0M136.4 158.2h0M145.4 164.1h0M135.1 162.6h0M137.1 160.5h0M144.8 165.7h0M137.1 158.4h0M142.2 154.5h0M140.4 160.5h0M131.1 153.2h0M152.3 159.6h0M136.9 146.2h0M134.8 160.0h0M143.6 159.6h0M143.1 153.4h0M148.5 150.4h0M142.7 155.4h0M130.8 162.3h0M138.5 161.2h0M146.7 158.0h0M136.4 155.7h0M139.6 165.5h0M144.5 166.3h0M144.0 152.5h0M144.9 162.7h0M139.3 159.7h0M138.2 149.6h0M139.4 161.5h0M138.0 143.8h0M135.6 163.4h0M141.1 163.6h0M135.9 154.5h0M134.6 152.4h0M142.7 157.8h0M137.3 158.7h0M132.9 154.7h0M131.9 148.2h0M132.7 150.5h0M148.4 165.1h0M146.7 153.6h0M143.3 150.3h0M137.0 158.4h0M131.4 158.2h0M143.2 144.8h0M126.8 155.4h0M139.3 157.8h0M133.9 160.3h0M140.6 152.7h0M148.7 158.5h0M143.9 167.9h0M137.3 155.7h0M130.6 155.6h0M142.3 171.8h0M142.9 158.2h0M133.2 152.0h0M130.0 148.9h0M140.5 158.8h0M135.0 155.7h0M135.6 160.7h0M143.3 153.7h0M137.5 149.7h0M137.4 169.9h0M139.8 162.1h0M143.0 165.7h0M138.2 151.6h0M145.5 162.4h0M136.4 163.5h0M139.8 156.7h0M149.8 160.1h0M141.6 155.1h0M141.0 163.2h0M142.4 152.5h0M142.3 156.3h0M141.6 155.8h0M128.2 147.4h0M137.8 143.9h0M131.8 169.0h0M143.6 154.3h0M141.7 143.7h0M141.2 162.8h0M140.9 149.2h0M145.1 153.8h0M136.8 158.2h0M138.3 169.1h0M139.2 169.7h0M142.3 149.6h0M139.9 157.3h0M147.6 164.6h0M153.6 153.0h0M137.6 170.8h0M135.1 159.1h0M148.6 151.0h0M138.0 152.6h0M142.7 159.4h0M139.7 160.9h0M135.7 154.8h0M142.4 169.0h0M139.7 157.3h0M147.0 157.4h0M146.9 158.4h0M146.1 158.1h0M135.0 151.9h0M142.2 168.2h0M149.9 155.1h0M153.4 150.4h0M135.4 162.5h0M131.7 162.4h0M141.9 160.7h0M133.4 159.3h0M145.0 156.7h0M145.4 157.1h0M141.8 155.1h0M132.6 156.1h0M142.6 152.5h0M129.4 147.8h0M147.0 155.7h0M135.8 164.4h0M139.0 148.0h0M137.5 151.7h0M138.9 151.5h0M140.3 159.7h0M136.8 155.8h0M139.1 161.9h0M136.0 161.5h0M146.6 155.8h0M134.7 155.2h0M130.4 153.8h0M133.5 156.0h0M137.9 160.1h0M140.5 159.5h0M139.7 158.7h0M133.8 161.0h0M146.9 163.6h0M132.7 159.5h0M131.1 161.5h0M138.8 154.2h0M135.9 155.6h0M139.9 151.2h0M140.2 158.6h0M142.8 156.7h0M139.9 170.9h0M145.4 158.9h0M132.4 160.7h0M143.0 141.1h0M139.0 159.3h0M140.1 157.6h0M139.1 165.3h0M142.0 155.3h0M138.7 169.5h0M135.3 153.8h0M141.7 157.9h0M141.6 165.1h0M146.1 159.5h0M140.2 156.6h0M138.7 163.0h0M133.1 150.8h0M137.5 151.2h0M135.9 164.2h0M127.7 160.5h0M132.8 155.5h0M136.8 151.1h0M131.9 157.4h0M123.9 144.3h0M137.8 163.6h0M150.0 155.2h0M135.6 155.3h0M142.5 162.6h0M134.8 159.8h0M139.8 163.9h0M137.7 155.8h0M135.3 149.1h0M141.4 161.3h0M146.0 158.6h0M137.4 151.5h0M133.6 152.7h0M141.8 157.5h0M127.5 156.4h0M138.4 150.7h0M139.8 160.2h0M134.3 148.9h0M138.2 158.6h0M138.5 166.3h0M140.7 151.0h0M144.2 153.1h0M143.7 157.6h0M146.6 151.0h0M143.9 159.6h0M135.0 161.2h0M152.3 159.1h0M135.8 156.1h0M147.0 158.5h0M148.0 153.1h0M147.1 147.5h0M139.0 155.2h0M137.3 164.3h0M136.7 159.1h0M150.0 162.0h0M137.7 152.6h0M129.0 159.3h0M144.8 163.6h0M141.3 169.9h0M144.2 143.1h0M135.1 161.8h0M137.8 162.0h0M153.9 152.4h0M152.0 156.5h0M131.9 157.6h0M144.9 153.5h0M148.6 151.8h0M138.9 162.5h0M138.8 153.7h0M139.9 160.9h0M149.4 165.2h0M150.2 156.8h0M130.9 156.8h0M137.7 151.0h0M137.1 156.6h0M140.3 162.5h0M135.0 163.9h0M140.2 161.4h0M146.8 149.6h0M148.7 152.7h0M142.2 163.5h0M145.0 147.6h0M140.9 163.8h0M139.3 156.5h0M140.4 166.9h0M137.0 151.3h0M133.9 153.8h0M138.7 159.1h0M139.5 146.7h0M131.4 161.1h0M143.9 148.9h0M145.1 142.4h0M152.7 160.5h0M130.9 160.1h0M139.8 154.3h0M138.0 155.7h0M139.4 151.6h0M136.9 160.4h0M142.9 149.0h0M137.3 166.4h0M143.9 166.9h0M132.6 150.8h0M128.1 145.4h0M137.9 150.7h0M134.0 152.8h0M139.0 162.0h0M143.1 146.4h0M148.2 155.0h0M134.5 156.8h0M137.8 148.7h0M148.6 153.5h0M136.7 160.2h0M149.2 159.9h0M135.0 159.6h0M146.1 159.3h0M143.6 154.1h0M139.6 146.9h0M136.0 150.2h0M140.0 166.0h0M127.6 149.1h0M134.9 156.5h0M146.4 152.3h0M135.7 164.3h0M142.0 160.2h0M144.6 152.5h0M141.2 153.0h0M136.0 157.8h0M142.4 149.3h0M135.8 160.7h0M140.9 161.0h0M138.3 152.2h0M144.3 160.6h0M124.3 162.2h0M135.8 161.0h0M148.7 155.3h0M134.6 158.5h0M140.5 160.4h0M132.3 158.5h0M144.9 161.2h0M143.5 164.2h0M135.4 164.4h0M141.1 151.0h0M138.4 158.6h0M141.8 165.1h0M141.1 153.9h0M152.1 155.0h0M135.5 162.6h0M137.7 152.3h0M134.1 164.1h0M134.1 157.6h0M137.5 155.9h0M135.5 157.9h0M143.3 163.3h0M138.0 150.0h0M131.8 157.1h0M126.3 165.0h0M140.2 157.8h0M132.3 153.1h0M135.9 161.1h0M137.7 160.7h0M142.8 145.4h0M138.7 164.6h0M137.2 157.8h0M139.3 149.6h0M152.0 156.2h0M143.5 154.3h0M147.7 164.0h0M146.5 162.8h0M143.9 165.4h0M142.2 157.9h0M144.5 151.7h0M126.0 161.9h0M140.8 152.8h0M138.5 151.3h0M135.4 158.2h0M140.7 162.0h0M139.5 160.8h0M143.8 152.8h0M130.7 152.9h0M138.6 153.8h0M152.2 152.9h0M142.6 152.5h0M143.8 149.5h0M145.3 158.1h0M137.8 149.9h0M149.2 153.6h0M148.0 142.6h0M133.4 167.9h0M149.8 157.2h0M145.5 160.7h0M138.0 157.8h0M133.7 149.0h0M140.7 161.4h0M140.9 149.7h0M144.7 157.6h0M144.1 155.3h0M138.5 163.4h0M147.6 149.9h0M133.9 162.9h0M142.0 157.4h0M134.6 163.1h0M141.0 158.4h0M142.1 153.9h0M142.2 157.9h0M144.0 159.3h0M132.9 152.8h0M138.5 164.0h0M136.4 163.9h0M146.0 162.3h0M152.4 157.0h0M141.8 164.4h0M142.2 163.0h0M139.3 165.6h0M141.9 145.6h0M146.0 155.9h0M135.1 155.3h0M138.4 163.9h0M141.8 156.7h0M139.9 151.7h0M136.5 154.3h0M138.7 150.1h0M137.8 163.1h0M142.5 157.1h0M141.9 155.6h0M133.5 162.4h0M152.4 160.1h0M143.8 171.8h0M133.3 160.2h0M138.1 155.4h0M130.9 156.6h0M142.2 147.5h0M138.8 154.2h0M134.5 160.9h0M149.1 159.6h0M145.7 161.6h0M139.6 160.6h0M147.3 154.5h0M139.2 148.9h0M129.7 152.2h0M144.9 159.3h0M141.4 164.9h0M130.2 165.3h0M140.5 161.7h0M147.6 152.2h0M135.2 159.5h0M139.7 153.6h0M139.3 152.8h0M140.7 154.8h0M149.4 150.9h0M143.2 157.5h0M148.7 151.3h0M137.4 167.4h0M136.4 154.8h0M137.8 151.3h0M146.7 166.1h0M139.2 152.6h0M132.5 161.0h0M137.1 160.4h0M126.7 154.6h0M143.5 159.6h0M124.2 158.8h0M140.7 157.0h0M138.1 154.5h0M140.8 160.1h0M122.5 157.0h0M145.1 155.8h0M146.7 151.5h0M150.6 162.8h0M137.8 173.5h0M148.0 166.5h0M133.4 156.4h0M142.6 163.3h0M140.4 149.4h0M146.7 156.1h0M142.4 155.2h0M139.4 148.9h0M143.7 153.4h0M130.2 159.5h0M139.8 162.8h0M144.5 149.9h0M139.0 157.1h0M140.5 150.8h0M140.4 162.9h0M146.9 165.7h0M144.2 142.1h0M138.5 153.8h0M124.0 166.2h0M145.0 157.0h0M142.0 160.0h0M138.8 165.2h0M150.1 161.9h0M136.9 158.6h0M145.4 161.3h0M136.2 162.7h0M144.0 160.5h0M137.7 156.9h0M129.5 156.9h0M137.6 155.3h0M138.4 155.2h0M140.5 157.6h0M136.6 156.3h0M139.5 160.0h0M142.4 154.9h0M135.4 147.3h0M133.1 159.5h0M134.9 166.6h0M139.1 154.8h0M139.1 153.8h0M136.5 157.5h0M132.0 157.9h0M139.5 151.7h0M145.7 159.2h0M146.0 153.1h0M133.1 150.0h0M131.3 145.8h0M148.6 154.2h0M141.1 153.9h0M139.2 166.4h0M130.4 151.2h0M140.7 151.7h0M143.8 164.7h0M144.9 161.5h0M139.1 163.0h0M135.6 150.0h0M138.6 155.6h0M146.8 151.2h0M146.3 152.4h0M133.0 147.0h0M139.8 148.5h0M141.2 157.3h0M137.8 145.6h0M137.1 159.7h0M130.2 161.1h0M140.1 153.8h0M141.1 160.9h0M139.9 152.4h0M144.3 153.0h0M142.0 162.8h0M147.2 166.5h0M145.7 157.9h0M138.9 158.2h0M142.9 174.8h0M143.6 152.1h0M148.4 147.6h0M145.5 149.5h0M134.0 154.1h0M138.4 149.0h0M143.4 156.4h0M147.4 151.0h0M130.0 161.1h0M138.8 162.8h0M127.1 149.6h0M140.5 168.6h0M133.2 145.7h0M137.5 165.4h0M148.7 149.0h0M136.6 146.1h0M135.4 151.3h0M142.4 163.8h0M153.2 154.9h0M144.5 158.3h0M140.7 168.5h0M143.9 166.3h0M141.7 162.2h0M142.8 156.5h0M136.2 154.6h0M140.1 154.8h0M138.1 152.8h0M144.7 155.6h0M139.4 155.7h0M147.2 153.8h0M147.8 151.9h0M148.4 160.7h0M137.3 159.7h0M146.3 151.4h0M138.8 158.9h0M138.9 155.3h0M140.1 158.9h0M144.3 165.8h0M138.2 174.5h0M138.2 167.6h0M139.3 148.4h0M137.6 155.0h0M145.9 145.1h0M136.5 156.2h0M143.6 159.4h0M144.7 156.1h0M138.7 164.2h0M149.5 159.3h0M140.9 151.9h0M151.6 159.4h0M143.4 147.5h0M143.3 171.4h0M139.1 155.8h0M148.5 155.9h0M144.7 168.6h0M133.6 152.1h0M143.8 157.7h0M140.2 156.0h0M140.7 159.1h0M137.4 155.4h0M141.3 150.6h0M142.5 144.0h0M143.5 156.3h0M133.6 165.0h0M133.6 169.3h0M136.0 164.2h0M139.7 166.6h0M138.8 163.1h0M138.3 145.9h0M142.2 159.9h0M142.2 167.0h0M136.0 148.5h0M141.4 152.9h0M139.5 157.0h0M135.5 163.5h0M139.4 167.7h0M141.4 163.3h0M138.4 153.1h0M137.1 151.8h0M142.5 157.8h0M134.1 147.9h0M135.3 146.2h0M135.2 148.0h0M143.9 150.1h0M136.8 156.3h0M140.2 159.5h0M144.2 160.8h0M138.1 164.4h0M142.1 152.8h0M148.2 150.0h0M142.6 164.5h0M140.7 159.1h0M140.7 161.0h0M141.3 157.1h0M143.9 145.8h0M141.4 155.2h0M150.7 158.7h0M136.4 160.9h0M137.9 150.0h0M138.5 160.0h0M146.5 163.3h0M141.3 156.1h0M141.1 164.2h0M139.3 163.9h0M135.7 156.9h0M144.2 161.2h0M141.1 154.0h0M130.3 154.4h0M135.4 154.6h0M148.6 152.4h0M144.6 156.9h0M134.0 157.7h0M144.1 150.0h0M133.7 154.8h0M144.0 153.5h0M142.3 159.7h0M140.1 159.7h0M146.9 155.9h0M141.8 150.7h0M136.1 156.4h0M144.4 153.0h0M132.5 162.5h0M152.9 141.7h0M134.3 157.7h0M142.7 151.4h0M141.8 163.5h0M138.5 161.3h0M140.7 151.5h0M136.7 153.4h0M147.2 163.9h0M141.3 147.7h0M137.4 154.6h0M129.6 156.9h0M141.6 149.2h0M137.7 154.3h0M150.0 160.9h0M144.2 157.5h0M133.1 162.5h0M136.4 145.6h0M144.0 155.0h0M140.0 160.1h0M138.8 159.4h0M147.0 155.1h0M138.1 157.1h0M143.5 154.6h0M140.5 153.0h0M139.6 160.2h0M135.6 155.9h0M132.2 152.9h0M140.4 160.2h0M134.5 156.4h0M135.0 158.9h0M141.4 159.6h0M138.9 148.6h0M137.0 149.1h0M136.4 156.7h0M145.8 153.2h0M135.9 158.2h0M128.9 168.8h0M131.7 163.0h0M145.3 162.7h0M139.5 161.3h0M138.2 162.7h0M136.5 152.2h0M142.1 154.3h0M143.6 151.9h0M141.5 151.2h0M139.5 169.7h0M134.2 149.7h0M131.4 155.7h0M148.7 154.3h0M145.0 155.9h0M136.6 168.9h0M145.8 146.1h0M134.8 159.4h0M143.5 155.7h0M141.7 160.2h0M138.1 162.9h0M135.5 161.5h0M144.9 158.2h0M138.2 156.9h0M128.1 158.5h0M132.4 145.1h0M144.1 151.6h0M141.9 157.3h0M130.6 151.7h0M138.6 159.8h0M140.4 149.5h0M137.2 157.6h0M133.2 154.4h0M137.1 144.5h0M149.2 162.2h0" stroke="#333" stroke-width="0.64" stroke-linecap="round" opacity="1"/>
<path d="M139.4 158.7h0M137.5 161.0h0M139.7 155.6h0M139.0 155.4h0M142.1 155.1h0M138.2 158.0h0M142.9 155.0h0M144.6 152.1h0M145.3 154.4h0M146.1 153.3h0M140.1 155.8h0M144.7 160.7h0M139.5 152.1h0M143.6 159.9h0M143.4 153.7h0M145.3 154.9h0M141.6 157.5h0M139.1 146.1h0M141.7 157.8h0M142.5 157.1h0M141.6 159.1h0M141.4 160.9h0M141.2 158.1h0M139.1 156.2h0M142.4 155.6h0M146.2 155.2h0M144.8 156.4h0M144.7 151.5h0M139.8 158.8h0M138.2 156.6h0M142.9 155.8h0M142.5 157.1h0M140.2 156.6h0M139.3 153.2h0M135.6 154.6h0M135.2 155.1h0M141.7 150.7h0M141.2 156.1h0M139.8 151.4h0M140.6 156.6h0M144.1 162.6h0M134.3 156.4h0M142.5 152.5h0M142.1 163.3h0M141.4 160.4h0M144.6 153.3h0M133.2 159.6h0M146.2 148.1h0M140.3 152.3h0M141.7 155.2h0M144.9 152.7h0M147.5 148.3h0M141.7 165.6h0M140.7 157.5h0M139.4 168.0h0M144.0 153.6h0M134.5 155.8h0M143.5 146.9h0M139.3 157.2h0M132.9 154.2h0M135.6 149.7h0M142.4 159.5h0M144.9 152.4h0M142.7 148.0h0M136.0 157.2h0M139.7 151.0h0M134.7 154.1h0M148.6 147.0h0M137.5 159.4h0M134.5 152.5h0M141.2 159.5h0M140.8 162.2h0M140.9 154.6h0M142.5 156.4h0M135.9 151.3h0M140.2 156.4h0M136.8 152.2h0M138.5 156.3h0M139.5 157.4h0M142.3 151.4h0M140.0 150.1h0M141.4 158.2h0M137.7 148.0h0M142.8 153.9h0M140.9 156.8h0M142.3 158.7h0M139.5 146.3h0M139.3 153.8h0M139.6 156.6h0M140.2 160.1h0M138.8 155.0h0M139.8 163.4h0M137.8 151.0h0M139.7 158.0h0M141.0 154.3h0M136.0 146.8h0M140.3 154.1h0M147.0 156.5h0M142.5 158.8h0M138.0 150.1h0M139.8 160.9h0M144.4 152.7h0M136.8 158.7h0M144.7 150.6h0M146.5 151.9h0M143.6 154.2h0M139.9 152.6h0M143.4 157.5h0M143.8 153.9h0M138.1 163.5h0M146.9 154.2h0M137.1 161.0h0M141.5 155.2h0M143.9 156.4h0M141.4 162.9h0M134.5 157.6h0M137.6 155.3h0M140.4 156.1h0M132.7 157.8h0M149.0 153.4h0M144.1 157.5h0M142.0 153.0h0M143.2 156.1h0M146.0 158.3h0M138.6 143.4h0M146.2 156.9h0M141.6 152.6h0M149.6 160.3h0M141.3 153.5h0M143.0 160.4h0M142.8 158.8h0M141.9 156.4h0M136.6 155.5h0M141.2 154.7h0M140.2 156.2h0M139.0 154.2h0M136.5 164.2h0M137.9 150.2h0M139.2 153.3h0M137.3 145.3h0M146.7 159.1h0M139.7 157.2h0M137.2 148.5h0M142.2 157.3h0M138.6 155.0h0M130.4 154.5h0M144.7 155.7h0M141.6 157.3h0M133.8 149.9h0M136.6 156.0h0M138.8 147.5h0M144.1 154.3h0M144.4 163.0h0M135.3 149.9h0M144.7 160.6h0M142.4 156.4h0M143.4 157.6h0M136.6 158.0h0M144.4 153.4h0M137.8 153.1h0M139.0 157.1h0M143.7 155.1h0M139.9 147.9h0M139.5 151.0h0M139.1 156.4h0M141.6 169.0h0M138.0 152.9h0M137.0 154.0h0M140.0 159.0h0M134.2 158.6h0M143.2 152.9h0M138.6 155.8h0M142.8 154.4h0M140.5 155.1h0M137.2 156.1h0M143.0 155.2h0M137.0 155.0h0M140.6 156.3h0M139.5 158.3h0M144.8 158.3h0M141.8 159.8h0M140.9 154.3h0M136.0 155.1h0M145.2 151.2h0M143.7 150.0h0M142.0 162.2h0M141.1 150.4h0M142.0 154.4h0M143.8 152.9h0M135.0 153.1h0M143.0 159.1h0M141.9 155.1h0M143.4 154.2h0M139.4 155.9h0M144.8 153.0h0M142.7 152.5h0M138.4 155.7h0M136.4 151.7h0M136.8 152.6h0M137.8 164.2h0M143.1 155.3h0M136.3 145.7h0M142.5 152.5h0M144.6 153.5h0M136.4 152.5h0M135.7 149.5h0M143.5 152.9h0M143.4 152.8h0M140.2 152.9h0M139.1 152.4h0M146.2 154.8h0M134.2 161.7h0M145.3 159.4h0M140.6 154.4h0M139.3 155.5h0M142.6 155.0h0M138.1 151.2h0M146.8 161.6h0M136.7 152.5h0M140.8 157.3h0M140.6 155.9h0M142.2 159.5h0M136.4 159.3h0M142.5 157.1h0M135.7 154.1h0M140.1 157.5h0M143.4 157.7h0M136.5 159.9h0M141.2 158.6h0M140.9 152.3h0M150.1 157.6h0M143.6 153.2h0M140.2 159.3h0M142.5 161.8h0M145.1 150.8h0M135.6 159.5h0M143.1 154.0h0M139.9 152.9h0M147.2 154.4h0M136.1 158.5h0M140.7 156.4h0M139.6 154.9h0M134.4 157.1h0M138.6 153.5h0M142.1 160.0h0M133.4 154.5h0M142.9 158.9h0M137.8 156.3h0M142.3 158.6h0M138.8 154.3h0M139.2 159.4h0M144.7 153.3h0M140.5 155.9h0M137.8 154.6h0M144.0 158.0h0M138.6 152.5h0M140.5 149.4h0M142.0 155.5h0M136.3 154.1h0M138.6 154.0h0M137.9 160.3h0M137.6 158.0h0M141.7 160.6h0M140.7 155.0h0M141.2 147.8h0M149.3 154.2h0M139.8 150.7h0M140.5 161.2h0M138.3 156.7h0M144.5 158.7h0M139.5 148.4h0M142.4 157.2h0M139.8 153.4h0M147.1 149.0h0M139.1 152.7h0M135.5 152.4h0M138.2 159.8h0M134.8 149.8h0M141.9 149.1h0M133.9 152.7h0M136.7 151.3h0M140.4 156.8h0M138.7 154.0h0M143.4 154.5h0M143.5 152.8h0M142.6 159.9h0M136.1 166.4h0M139.8 153.8h0M140.4 156.8h0M136.7 155.2h0M138.9 160.5h0M134.9 157.5h0M139.8 152.2h0M141.4 154.1h0M141.1 156.0h0M145.1 153.5h0M146.8 144.8h0M147.3 159.7h0M146.4 155.8h0M141.9 151.2h0M145.6 150.7h0M138.2 155.0h0M141.8 156.3h0M136.9 153.7h0M142.6 159.5h0M143.6 156.6h0M140.0 153.0h0M139.1 154.7h0M142.8 153.1h0M148.1 151.3h0M143.8 154.3h0M140.4 153.6h0M146.3 153.9h0M142.9 155.5h0M143.5 157.3h0M146.7 152.3h0M138.1 161.5h0M145.4 155.3h0M139.9 156.0h0M145.5 152.2h0M146.0 154.8h0M139.7 153.6h0M133.6 156.3h0M136.3 152.9h0M137.8 155.9h0M143.5 155.2h0M141.6 156.6h0M146.5 157.2h0M146.4 154.8h0M142.2 152.6h0M143.0 151.8h0M142.6 152.7h0M139.7 159.7h0M141.4 158.1h0M140.1 148.0h0M146.1 154.4h0M138.7 158.6h0M137.0 152.2h0M144.9 152.4h0M144.9 153.9h0M140.2 155.3h0M139.2 159.1h0M144.8 155.3h0M143.1 157.1h0M146.8 149.1h0M144.5 158.5h0M139.8 155.1h0M139.7 159.7h0M136.9 157.3h0M145.4 157.2h0M139.3 153.3h0M133.6 151.2h0M144.8 151.5h0M135.2 154.1h0M135.7 156.8h0M137.9 158.7h0M140.5 149.7h0M138.2 152.6h0M138.0 159.7h0M137.4 156.4h0M138.9 157.3h0M136.0 149.2h0M142.7 160.4h0M136.1 153.9h0M139.2 151.5h0M144.3 155.3h0M136.1 154.3h0M145.6 152.4h0M139.1 152.0h0M141.5 153.0h0M144.0 151.9h0M135.9 156.8h0M129.9 151.5h0M141.9 156.0h0M138.9 153.4h0M142.8 169.1h0M138.1 154.4h0M139.3 157.1h0M141.0 157.2h0M146.6 154.0h0M139.9 156.5h0M148.3 153.7h0M146.8 159.5h0M131.4 151.3h0M137.5 156.6h0M145.6 155.3h0M141.5 163.2h0M142.2 163.2h0M137.8 161.3h0M139.2 145.9h0M138.1 153.3h0M140.8 157.9h0M143.4 157.0h0M138.3 161.8h0M145.1 155.2h0M138.9 154.9h0M140.2 152.4h0M140.9 152.6h0M143.2 152.6h0M142.7 156.3h0" stroke="#222" stroke-width="0.64" stroke-linecap="round" opacity="1"/>
<path d="M152.1 161.1h0M140.1 163.5h0M150.1 150.3h0M146.0 161.6h0M159.4 173.1h0M164.0 153.3h0M146.3 142.0h0M153.5 165.0h0M144.4 162.7h0M151.7 150.0h0M132.8 167.8h0M134.7 143.5h0M153.3 162.6h0M151.7 159.6h0M144.9 151.9h0M164.6 135.5h0M148.2 161.5h0M126.8 153.4h0M159.7 163.2h0M152.9 159.2h0M138.5 152.8h0M147.5 140.8h0M142.4 146.4h0M132.7 157.9h0M136.6 161.2h0M147.5 131.4h0M148.1 159.4h0M152.8 168.9h0M152.1 135.6h0M148.6 158.9h0M137.6 156.2h0M126.6 150.1h0M147.5 140.6h0M155.4 140.1h0M157.9 154.4h0M152.1 139.9h0M146.8 160.6h0M125.4 143.2h0M163.5 177.9h0M159.2 154.4h0M134.7 150.5h0M146.4 160.2h0M133.5 155.1h0M163.7 159.8h0M156.4 172.6h0M143.7 148.9h0M135.7 158.0h0M156.1 165.9h0M167.2 152.3h0M136.4 163.5h0M164.2 170.5h0M147.6 149.8h0M144.8 159.3h0M149.3 153.0h0M153.5 151.8h0M154.7 148.3h0M128.3 151.6h0M162.8 170.6h0M142.3 158.1h0M117.9 161.7h0M122.1 148.5h0M139.5 156.4h0M154.0 150.4h0M145.6 145.7h0M158.0 157.4h0M154.8 149.3h0M156.9 151.7h0M154.1 153.3h0M140.7 142.5h0M123.8 139.4h0M126.9 145.7h0M147.1 141.7h0M155.9 179.1h0M167.3 141.7h0M148.5 147.8h0M160.7 138.3h0M154.3 157.6h0M157.9 160.0h0" stroke="#999" stroke-width="0.60" stroke-linecap="round" opacity="1"/>
<path d="M136.00,144.50 C136.58,142.87 138.67,141.98 140.50,141.20 C142.33,140.42 144.75,140.03 147.00,139.80 C149.25,139.57 152.00,139.53 154.00,139.80 C156.00,140.07 157.83,140.28 159.00,141.40 C160.17,142.52 160.78,144.57 161.00,146.50 C161.22,148.43 160.83,151.00 160.30,153.00 C159.77,155.00 159.02,157.25 157.80,158.50 C156.58,159.75 154.38,160.50 153.00,160.50 C151.62,160.50 150.67,159.22 149.50,158.50 C148.33,157.78 147.33,156.90 146.00,156.20 C144.67,155.50 143.00,155.17 141.50,154.30 C140.00,153.43 137.92,152.63 137.00,151.00 C136.08,149.37 135.42,146.13 136.00,144.50 Z" fill="#333" stroke="#111" stroke-width="1.1" opacity="1"/>
<path d="M137.08,144.86 C137.62,143.36 139.53,142.54 141.22,141.82 C142.91,141.10 145.13,140.75 147.20,140.54 C149.27,140.32 151.80,140.29 153.64,140.54 C155.48,140.78 157.17,140.98 158.24,142.01 C159.31,143.04 159.88,144.92 160.08,146.70 C160.28,148.48 159.93,150.84 159.44,152.68 C158.95,154.52 158.26,156.59 157.14,157.74 C156.02,158.89 153.99,159.58 152.72,159.58 C151.45,159.58 150.57,158.40 149.50,157.74 C148.43,157.08 147.51,156.27 146.28,155.62 C145.05,154.98 143.52,154.67 142.14,153.88 C140.76,153.08 138.84,152.34 138.00,150.84 C137.16,149.34 136.54,146.36 137.08,144.86 Z" fill="#aaaaaa" stroke="#555" stroke-width="0.4" opacity="1"/>
<path d="M138.43,145.31 C138.91,143.97 140.62,143.25 142.12,142.60 C143.62,141.96 145.60,141.65 147.45,141.46 C149.29,141.26 151.55,141.24 153.19,141.46 C154.83,141.67 156.33,141.85 157.29,142.77 C158.25,143.68 158.75,145.36 158.93,146.95 C159.11,148.54 158.79,150.64 158.36,152.28 C157.92,153.92 157.30,155.76 156.31,156.79 C155.31,157.81 153.50,158.43 152.37,158.43 C151.24,158.43 150.46,157.38 149.50,156.79 C148.54,156.20 147.72,155.48 146.63,154.90 C145.54,154.33 144.17,154.06 142.94,153.35 C141.71,152.64 140.00,151.98 139.25,150.64 C138.50,149.30 137.95,146.65 138.43,145.31 Z" fill="#d2d2d2" stroke="#555" stroke-width="0.4" opacity="1"/>
<path d="M140.05,145.85 C140.46,144.71 141.92,144.09 143.20,143.54 C144.48,142.99 146.18,142.72 147.75,142.56 C149.32,142.40 151.25,142.37 152.65,142.56 C154.05,142.75 155.33,142.90 156.15,143.68 C156.97,144.46 157.40,145.90 157.55,147.25 C157.70,148.60 157.43,150.40 157.06,151.80 C156.69,153.20 156.16,154.78 155.31,155.65 C154.46,156.53 152.92,157.05 151.95,157.05 C150.98,157.05 150.32,156.15 149.50,155.65 C148.68,155.15 147.98,154.53 147.05,154.04 C146.12,153.55 144.95,153.32 143.90,152.71 C142.85,152.10 141.39,151.54 140.75,150.40 C140.11,149.26 139.64,146.99 140.05,145.85 Z" fill="#e4e4e4" stroke="#555" stroke-width="0.4" opacity="1"/>
<path d="M141.81,146.44 C142.14,145.50 143.33,145.00 144.37,144.55 C145.41,144.11 146.79,143.89 148.07,143.76 C149.36,143.62 150.93,143.60 152.06,143.76 C153.20,143.91 154.25,144.03 154.91,144.67 C155.58,145.30 155.93,146.47 156.06,147.57 C156.18,148.68 155.96,150.14 155.66,151.28 C155.35,152.42 154.92,153.70 154.23,154.41 C153.54,155.13 152.28,155.56 151.50,155.56 C150.71,155.56 150.16,154.82 149.50,154.41 C148.84,154.01 148.26,153.50 147.50,153.10 C146.75,152.70 145.79,152.52 144.94,152.02 C144.09,151.53 142.90,151.07 142.38,150.14 C141.85,149.21 141.47,147.37 141.81,146.44 Z" fill="#ececec" stroke="#555" stroke-width="0.4" opacity="1"/>
<path d="M143.56,147.02 C143.82,146.30 144.73,145.91 145.54,145.57 C146.35,145.22 147.41,145.05 148.40,144.95 C149.39,144.85 150.60,144.83 151.48,144.95 C152.36,145.07 153.17,145.16 153.68,145.66 C154.19,146.15 154.46,147.05 154.56,147.90 C154.66,148.75 154.49,149.88 154.25,150.76 C154.02,151.64 153.69,152.63 153.15,153.18 C152.62,153.73 151.65,154.06 151.04,154.06 C150.43,154.06 150.01,153.50 149.50,153.18 C148.99,152.86 148.55,152.48 147.96,152.17 C147.37,151.86 146.64,151.71 145.98,151.33 C145.32,150.95 144.40,150.60 144.00,149.88 C143.60,149.16 143.30,147.74 143.56,147.02 Z" fill="#dcdcdc" stroke="#555" stroke-width="0.4" opacity="1"/>
<path d="M139.5,143.6 C144,141.3 152,141 158.2,142.6" fill="none" stroke="#444" stroke-width="1.1" opacity="1"/>
<ellipse cx="149.00" cy="144.80" rx="4.50" ry="1.30" transform="rotate(-3 149.00 144.80)" fill="#666" stroke="#333" stroke-width="0.4" opacity="1"/>
<path d="M150,151.5 C153,150 157,149 159.5,149.5 C159.7,153 158.2,156.8 155,158.2 C152.5,157.8 150.8,155 150,151.5 Z" fill="#f6f6f6" stroke="#666" stroke-width="0.4" opacity="1"/>
<path d="M151.5,152 L158.3,150.5 M152,154 L158.5,152.5 M153,156 L157.8,154.6" fill="none" stroke="#777" stroke-width="0.35" opacity="1"/>
<rect x="127.50" y="135.30" width="33.20" height="16.60" fill="none" stroke="#5567b0" stroke-width="0.8"/>
<path d="M149.4,151.5 L160.7,146.6 L160.7,172.8 L147.3,172.8 Z" fill="none" stroke="#5567b0" stroke-width="0.8" opacity="1"/>
<path d="M154,173 L154,179.6 L196.5,179.6" fill="none" stroke="#444" stroke-width="0.9"/>
<path d="M196,178.2 L199.2,179.6 L196,181.0 Z" fill="#111"/>
<path d="M235.1 141.0h0M221.4 150.7h0M216.9 157.3h0M234.9 141.0h0M218.5 152.2h0M224.6 144.8h0M239.5 141.2h0M214.8 164.4h0M234.0 141.1h0M222.2 150.6h0M217.3 155.7h0M219.3 150.8h0M209.4 164.0h0M231.0 141.5h0M245.3 148.3h0M217.5 156.7h0M230.2 142.8h0M227.7 145.0h0M228.8 142.6h0M232.9 143.4h0M243.5 143.0h0M243.5 145.8h0M221.0 144.5h0M241.7 147.5h0M222.5 146.5h0M240.7 145.3h0M226.3 146.7h0M236.4 142.0h0M219.3 158.1h0M225.7 147.3h0M220.1 150.7h0M220.4 156.7h0M221.9 146.6h0M224.4 147.0h0M224.8 142.9h0M232.3 145.5h0M226.9 145.3h0M231.0 140.5h0M238.1 141.7h0M217.4 159.1h0M216.8 155.1h0M213.3 165.1h0M236.4 142.9h0M217.5 159.2h0M233.6 141.9h0M235.8 144.9h0M236.3 144.2h0M217.3 154.6h0M225.3 144.6h0M238.1 143.7h0M224.4 147.5h0M232.8 142.3h0M221.3 153.9h0M216.2 157.7h0M213.6 161.7h0M214.1 156.3h0M213.9 161.7h0M213.9 163.0h0M233.5 143.1h0M217.7 160.2h0M220.8 155.7h0M214.3 160.7h0M230.7 144.0h0M243.2 149.4h0M232.2 143.1h0M214.0 158.8h0M224.8 146.4h0M211.8 162.2h0M241.2 144.4h0M219.6 149.6h0M215.5 162.7h0M216.0 160.3h0M242.1 147.0h0M242.2 144.3h0M217.7 151.9h0M217.9 159.3h0M229.3 142.8h0M218.6 154.3h0M217.1 161.3h0M224.8 145.0h0M217.7 160.4h0M217.9 149.7h0M222.9 146.7h0M224.5 146.8h0M216.5 159.0h0M241.1 147.4h0M212.1 164.5h0M227.2 143.7h0M226.8 144.8h0M223.3 148.8h0M237.2 143.9h0M228.1 142.1h0M228.0 144.3h0M209.4 165.9h0M225.4 146.4h0M241.4 147.7h0M238.0 142.7h0M230.1 144.5h0M234.2 146.3h0M224.0 145.9h0M224.5 150.3h0M238.3 144.9h0M241.8 148.0h0M218.3 158.7h0M224.2 142.3h0M232.3 144.5h0M237.8 144.5h0M229.9 144.5h0M231.8 143.0h0M229.9 143.1h0M215.6 161.6h0M214.1 161.9h0M237.4 143.3h0M215.3 157.5h0M224.4 144.0h0M216.6 153.6h0M228.9 139.7h0M215.8 154.4h0M231.8 143.3h0M237.6 145.2h0M241.3 148.1h0M228.6 142.8h0M239.9 143.5h0M228.1 144.4h0M224.7 147.0h0M239.4 143.5h0M215.5 160.5h0M216.3 159.1h0M224.8 147.4h0M212.1 161.0h0M212.7 165.0h0M237.4 142.7h0M241.3 146.7h0M232.8 142.9h0M214.9 166.9h0M240.2 145.5h0M230.2 146.8h0M241.6 142.9h0M236.2 142.1h0M235.4 143.4h0M225.2 147.9h0M222.0 145.8h0M229.5 143.9h0M217.5 152.2h0M229.0 141.4h0M216.0 162.0h0M232.2 144.6h0M219.6 153.3h0M221.0 148.9h0M244.0 146.1h0M221.4 151.4h0M212.1 162.6h0M236.3 142.1h0M229.6 141.9h0M216.2 156.4h0M214.2 164.8h0M212.9 161.6h0M219.3 151.4h0M209.7 159.8h0M229.1 143.9h0M217.4 158.1h0M216.4 161.3h0M237.0 143.2h0M234.1 142.5h0M212.7 164.1h0M217.6 158.4h0M244.6 144.8h0M237.9 143.8h0M218.7 157.1h0M215.5 160.7h0M220.0 153.1h0M224.1 145.5h0M232.8 143.1h0M240.3 144.1h0M240.5 145.8h0M220.2 157.9h0M232.7 143.6h0M226.1 145.9h0M238.6 143.8h0M231.5 141.1h0M239.9 147.0h0M213.1 164.3h0M221.3 148.7h0M232.7 143.5h0M228.5 144.6h0M236.6 142.1h0M216.6 155.9h0M212.5 163.1h0M232.5 145.9h0M229.2 140.3h0M230.6 141.9h0M216.8 157.0h0M226.9 147.6h0M226.5 145.2h0M230.7 147.4h0M222.5 145.4h0M225.2 146.8h0M221.6 148.4h0M216.4 156.6h0M241.5 144.8h0M237.8 142.2h0M224.1 145.6h0M214.7 165.4h0M216.9 160.2h0M231.0 142.0h0M222.9 152.4h0M220.5 151.8h0M224.4 147.4h0M215.6 163.1h0M222.4 154.7h0M212.5 163.6h0M213.1 164.6h0M231.4 144.6h0M239.3 143.8h0M218.6 153.8h0M219.2 155.1h0M224.4 147.0h0M219.1 159.1h0M240.9 149.2h0M218.4 153.3h0M238.6 145.1h0M234.3 143.3h0M230.4 143.5h0M220.0 154.8h0M242.6 147.0h0M215.5 157.4h0M243.9 147.3h0M239.3 143.3h0M240.6 148.2h0M232.0 140.6h0M235.8 146.1h0M228.9 143.9h0M230.2 141.8h0M232.4 143.9h0M219.4 152.8h0M230.9 143.9h0M216.5 154.0h0M242.1 147.1h0M235.9 141.9h0M233.7 144.3h0M216.6 157.6h0M239.9 143.3h0M245.3 147.6h0M242.0 143.5h0M218.6 149.3h0M219.4 152.3h0M216.7 158.2h0M229.8 144.2h0M221.1 155.7h0M219.1 157.3h0M225.5 144.6h0M220.2 149.3h0M214.9 162.5h0M240.9 145.6h0M243.0 146.0h0M223.2 151.6h0M219.0 154.9h0M234.2 143.0h0M212.8 163.6h0M224.4 144.6h0M221.3 148.2h0M216.8 157.2h0M216.9 163.3h0M241.9 146.4h0M222.8 149.7h0M233.8 143.8h0M216.8 157.6h0M217.1 161.4h0M218.7 155.2h0M241.7 146.8h0M221.7 149.5h0M213.7 164.0h0M219.3 153.9h0M233.7 143.5h0M239.4 141.7h0M216.7 158.2h0M231.4 146.0h0M235.8 144.3h0M243.7 144.9h0M226.8 145.8h0M215.2 160.2h0M213.7 160.3h0M218.9 157.2h0M224.1 145.2h0M243.8 144.4h0M222.3 152.0h0M242.2 147.1h0M216.4 163.4h0M211.9 163.5h0M235.7 144.0h0M241.9 148.3h0M232.7 146.2h0M244.0 149.7h0M214.6 159.3h0M242.1 142.3h0M237.6 142.2h0M231.5 144.1h0M242.1 145.6h0M221.8 147.5h0M227.2 147.5h0M222.9 145.4h0M241.0 147.2h0M235.2 143.9h0M236.1 141.1h0M237.4 146.7h0M231.3 142.8h0M240.1 144.4h0M224.9 143.5h0M214.5 162.1h0M240.3 147.2h0M227.5 145.7h0M217.0 156.0h0M225.2 145.9h0M231.5 147.0h0M221.3 152.2h0M238.7 147.0h0M221.3 152.5h0M215.0 163.8h0M228.3 145.4h0M220.9 150.3h0M225.2 144.7h0M239.6 146.3h0M217.1 155.8h0M225.3 145.5h0M216.1 161.8h0M220.7 151.5h0M235.3 143.9h0M226.4 145.6h0M245.1 147.0h0M236.1 142.4h0M214.7 159.9h0M233.5 142.7h0M237.2 143.1h0M242.5 147.2h0M220.7 150.3h0M225.4 145.2h0M221.4 150.5h0M233.5 143.4h0M223.2 148.0h0M211.4 162.5h0M218.7 158.7h0M242.5 144.3h0M233.6 144.7h0M219.6 152.8h0M215.3 159.6h0M211.9 164.6h0M227.4 148.6h0M218.4 152.9h0M241.9 145.3h0M218.0 155.3h0M238.7 144.7h0M223.4 148.2h0M223.5 144.9h0M215.3 158.4h0M222.9 146.0h0M214.9 165.7h0M232.9 144.3h0M220.9 152.8h0M233.0 143.4h0M216.9 155.6h0M240.5 142.1h0M246.9 147.1h0M213.8 162.4h0M227.5 143.9h0M212.0 162.7h0M219.2 150.0h0M231.4 141.5h0M217.1 158.6h0M218.4 159.7h0M230.1 144.9h0M226.4 144.0h0M232.9 144.8h0M216.7 158.8h0M236.2 143.5h0M222.0 150.1h0M238.3 143.6h0M213.6 158.7h0M210.0 167.1h0M216.7 160.3h0M239.3 147.3h0M236.1 143.6h0M219.2 147.0h0M221.0 149.1h0M231.5 144.5h0M242.4 146.7h0M221.3 155.4h0M235.7 143.1h0M218.6 158.3h0M223.7 151.3h0M233.9 144.5h0M217.2 155.9h0M236.0 143.3h0M214.5 160.8h0M222.1 144.7h0M220.8 149.5h0M230.6 143.4h0M239.0 146.9h0M226.5 142.2h0M213.9 164.0h0M238.4 146.2h0M213.4 163.3h0M229.5 142.8h0M230.2 144.4h0M222.0 149.3h0M217.0 159.8h0M236.4 142.5h0M225.0 146.6h0M218.5 156.8h0M242.0 151.6h0M211.5 160.5h0M236.5 143.2h0M221.2 155.3h0M216.7 158.9h0M220.1 156.9h0M214.0 159.9h0M224.8 145.3h0M238.2 143.8h0M237.2 143.5h0M234.7 141.8h0M241.1 145.4h0M237.6 142.6h0M224.0 145.6h0M220.2 152.4h0M230.1 145.0h0M217.6 155.4h0M219.5 152.4h0M218.7 154.5h0M226.4 144.0h0M219.7 154.5h0M240.1 142.0h0M239.9 145.9h0M212.3 163.4h0M213.7 162.2h0M215.6 156.6h0M241.3 147.4h0M213.9 163.2h0M213.5 166.3h0M224.2 146.7h0M215.9 163.9h0M243.1 146.2h0M218.6 152.6h0M219.2 154.9h0M244.1 143.8h0M220.4 149.6h0M216.6 161.1h0M235.2 143.3h0M222.3 146.5h0M224.0 147.3h0M243.3 146.9h0M240.4 144.0h0M216.7 157.5h0M223.8 148.9h0M241.1 145.9h0M227.2 142.1h0M219.6 156.6h0M242.7 144.6h0M218.8 153.8h0M224.5 142.1h0M215.1 163.5h0M228.8 143.8h0M212.7 160.7h0M211.0 165.7h0M222.1 149.6h0M232.7 143.3h0M231.3 141.4h0M221.1 150.9h0M233.4 143.9h0M219.7 155.4h0M222.9 154.2h0M238.6 144.0h0M221.0 154.7h0M238.2 141.9h0M242.6 148.7h0M217.3 154.2h0M211.3 160.8h0M237.3 142.2h0M220.9 146.6h0M216.0 156.8h0M218.3 153.9h0M230.8 144.6h0M212.8 162.9h0M240.4 144.0h0M220.7 153.5h0M215.4 158.9h0M235.7 143.8h0M227.5 145.5h0M214.4 163.2h0M214.9 160.3h0M225.2 143.5h0M225.2 144.5h0M215.9 160.3h0M241.9 144.2h0M234.9 142.3h0M239.8 146.3h0M223.4 148.8h0M222.0 151.5h0M238.8 147.2h0M242.7 144.0h0M222.5 149.8h0M236.6 143.0h0" stroke="#333" stroke-width="0.64" stroke-linecap="round"/>
<path d="M236.6 161.7h0M225.3 164.3h0M219.3 165.5h0M215.7 164.0h0M224.4 165.1h0M235.0 161.6h0M237.1 160.2h0M239.1 160.5h0M228.3 165.3h0M221.4 164.0h0M219.9 163.9h0M226.0 164.6h0M231.6 161.7h0M243.1 153.8h0M230.7 164.9h0M232.8 161.3h0M239.0 160.6h0M239.1 160.5h0M241.6 159.6h0M239.7 157.2h0M235.2 163.2h0M242.8 157.2h0M232.6 161.9h0M216.9 163.4h0M227.1 163.6h0M241.0 160.5h0M239.3 158.8h0M240.0 161.7h0M216.5 165.7h0M232.8 164.0h0M219.3 165.3h0M218.9 164.4h0M222.6 163.7h0M243.1 156.3h0M230.3 164.9h0M229.0 162.9h0M228.1 162.2h0M214.2 164.0h0M230.8 164.2h0M219.7 164.6h0M242.5 156.7h0M239.4 159.3h0M223.3 162.8h0M244.2 154.6h0M240.5 161.5h0M242.9 159.5h0M224.7 165.1h0M239.9 159.1h0M238.0 160.9h0M240.9 157.5h0M242.5 158.9h0M239.5 161.2h0M232.2 163.4h0M243.1 159.6h0M225.5 164.7h0M218.8 164.7h0M232.2 166.3h0M220.8 164.8h0M238.9 163.1h0M228.5 164.6h0M234.9 163.7h0M226.5 162.0h0M242.6 159.5h0M232.5 163.6h0M235.3 163.1h0M230.2 163.9h0M243.1 153.3h0M241.6 155.3h0M231.6 161.6h0M215.3 164.9h0M238.0 163.1h0M230.9 165.3h0M224.2 163.7h0M232.3 163.5h0M226.3 164.0h0M227.0 164.6h0M224.2 163.7h0M221.6 164.2h0M219.0 163.4h0M236.7 162.3h0M220.1 164.6h0M228.9 163.0h0M217.8 165.0h0M228.9 163.4h0M216.0 164.5h0M222.3 165.0h0M225.2 165.1h0M233.4 162.1h0M225.8 164.4h0M225.9 165.1h0M242.2 154.2h0M215.0 164.4h0M242.4 157.3h0M245.8 154.1h0M233.1 162.5h0M240.9 161.1h0M218.5 164.8h0M226.4 164.6h0M218.2 166.4h0M223.2 163.2h0M237.4 160.3h0M224.6 167.2h0M242.1 158.1h0M218.2 166.7h0M219.0 164.1h0M241.1 160.8h0M232.5 162.1h0M215.7 163.0h0M232.8 165.0h0M229.5 165.6h0M240.7 159.1h0M216.8 165.1h0M215.9 164.5h0M242.0 160.1h0M223.7 164.3h0M232.9 162.6h0M243.8 154.6h0M223.6 165.2h0M218.7 163.8h0M239.9 160.4h0M238.3 161.0h0M229.7 166.2h0M231.3 162.9h0M235.3 161.7h0M225.3 164.9h0M229.2 164.8h0M226.8 165.1h0M220.4 165.4h0M244.0 153.2h0M242.9 157.9h0M240.2 158.6h0M242.2 155.2h0M242.9 155.6h0M215.1 163.9h0M243.3 157.2h0M221.6 164.2h0M219.2 165.0h0M230.5 165.2h0M240.6 159.1h0M240.3 158.7h0M224.1 163.3h0M223.3 164.4h0M236.1 163.4h0M222.9 165.8h0M227.7 163.7h0M233.4 162.9h0M241.9 160.4h0M224.4 164.9h0M241.8 159.2h0M221.3 165.2h0M228.5 163.2h0M231.2 163.0h0M227.2 164.2h0M224.1 163.6h0M225.2 164.8h0M222.8 164.5h0M240.0 160.3h0M241.2 158.9h0M216.0 165.8h0M229.3 163.5h0M223.5 164.4h0M219.0 164.8h0M242.2 159.5h0M235.7 163.1h0M241.3 160.8h0M238.1 160.5h0M231.8 162.4h0M239.3 158.9h0M230.1 164.3h0M224.7 164.0h0M226.3 165.1h0M222.0 164.0h0M227.1 162.2h0M230.2 163.3h0M233.7 163.5h0M239.3 162.0h0M223.3 165.5h0M228.8 164.2h0M239.5 160.8h0M236.7 162.5h0M235.2 163.2h0M243.6 154.8h0M230.7 163.7h0M215.2 163.7h0M242.4 159.0h0M231.0 164.1h0M220.8 164.8h0M220.0 164.6h0M237.8 160.5h0M242.3 159.7h0M243.9 155.8h0M231.0 163.8h0M242.3 157.2h0M228.0 163.6h0M233.4 164.5h0M232.7 164.6h0M239.6 159.9h0M233.1 162.5h0M241.8 157.6h0M232.6 162.6h0" stroke="#444" stroke-width="0.64" stroke-linecap="round"/>
<path d="M209.80,166.40 C209.53,165.82 212.72,162.90 214.00,161.50 C215.28,160.10 216.40,159.75 217.50,158.00 C218.60,156.25 219.52,153.07 220.60,151.00 C221.68,148.93 222.33,146.93 224.00,145.60 C225.67,144.27 228.12,143.30 230.60,143.00 C233.08,142.70 236.70,142.97 238.90,143.80 C241.10,144.63 242.90,146.38 243.80,148.00 C244.70,149.62 244.67,151.63 244.30,153.50 C243.93,155.37 242.92,157.72 241.60,159.20 C240.28,160.68 238.50,161.60 236.40,162.40 C234.30,163.20 231.40,163.68 229.00,164.00 C226.60,164.32 224.23,164.13 222.00,164.30 C219.77,164.47 217.63,164.65 215.60,165.00 C213.57,165.35 210.07,166.98 209.80,166.40 Z" fill="#9a9a9a" stroke="#1a1a1a" stroke-width="1.1" opacity="1"/>
<path d="M213.43,164.47 C213.20,163.97 215.91,161.49 217.00,160.30 C218.09,159.11 219.04,158.81 219.97,157.32 C220.91,155.84 221.69,153.13 222.61,151.38 C223.53,149.62 224.08,147.92 225.50,146.78 C226.92,145.65 229.00,144.83 231.11,144.57 C233.22,144.32 236.29,144.55 238.16,145.25 C240.03,145.96 241.56,147.45 242.33,148.82 C243.10,150.20 243.07,151.91 242.75,153.50 C242.44,155.09 241.58,157.08 240.46,158.34 C239.34,159.61 237.82,160.38 236.04,161.06 C234.25,161.75 231.79,162.16 229.75,162.43 C227.71,162.69 225.70,162.54 223.80,162.68 C221.90,162.82 220.09,162.98 218.36,163.28 C216.63,163.57 213.66,164.96 213.43,164.47 Z" fill="#b8b8b8" stroke="#555" stroke-width="0.4" opacity="1"/>
<path d="M217.06,162.53 C216.87,162.12 219.10,160.08 220.00,159.10 C220.90,158.12 221.68,157.88 222.45,156.65 C223.22,155.43 223.86,153.20 224.62,151.75 C225.38,150.30 225.83,148.90 227.00,147.97 C228.17,147.04 229.88,146.36 231.62,146.15 C233.36,145.94 235.89,146.13 237.43,146.71 C238.97,147.29 240.23,148.52 240.86,149.65 C241.49,150.78 241.47,152.19 241.21,153.50 C240.95,154.81 240.24,156.45 239.32,157.49 C238.40,158.53 237.15,159.17 235.68,159.73 C234.21,160.29 232.18,160.63 230.50,160.85 C228.82,161.07 227.16,160.94 225.60,161.06 C224.04,161.18 222.54,161.31 221.12,161.55 C219.70,161.80 217.25,162.94 217.06,162.53 Z" fill="#cfcfcf" stroke="#555" stroke-width="0.4" opacity="1"/>
<path d="M220.69,160.59 C220.54,160.27 222.29,158.67 223.00,157.90 C223.71,157.13 224.32,156.94 224.93,155.97 C225.53,155.01 226.03,153.26 226.63,152.12 C227.23,150.99 227.58,149.89 228.50,149.16 C229.42,148.42 230.76,147.89 232.13,147.72 C233.50,147.56 235.48,147.71 236.69,148.17 C237.91,148.62 238.90,149.59 239.39,150.47 C239.89,151.36 239.87,152.47 239.67,153.50 C239.46,154.53 238.90,155.82 238.18,156.63 C237.46,157.45 236.47,157.96 235.32,158.40 C234.16,158.84 232.57,159.10 231.25,159.28 C229.93,159.45 228.63,159.35 227.40,159.44 C226.17,159.53 225.00,159.63 223.88,159.82 C222.76,160.02 220.84,160.92 220.69,160.59 Z" fill="#dedede" stroke="#555" stroke-width="0.4" opacity="1"/>
<path d="M224.32,158.66 C224.21,158.43 225.49,157.26 226.00,156.70 C226.51,156.14 226.96,156.00 227.40,155.30 C227.84,154.60 228.21,153.33 228.64,152.50 C229.07,151.67 229.33,150.87 230.00,150.34 C230.67,149.81 231.65,149.42 232.64,149.30 C233.63,149.18 235.08,149.29 235.96,149.62 C236.84,149.95 237.56,150.65 237.92,151.30 C238.28,151.95 238.27,152.75 238.12,153.50 C237.97,154.25 237.57,155.19 237.04,155.78 C236.51,156.37 235.80,156.74 234.96,157.06 C234.12,157.38 232.96,157.57 232.00,157.70 C231.04,157.83 230.09,157.75 229.20,157.82 C228.31,157.89 227.45,157.96 226.64,158.10 C225.83,158.24 224.43,158.89 224.32,158.66 Z" fill="#eaeaea" stroke="#555" stroke-width="0.4" opacity="1"/>
<path d="M242.5,149 C244.5,153 243.5,158 239.5,160.8 C236,162.5 230,163.4 224,163.6" fill="none" stroke="#000" stroke-width="1.4" opacity="1"/>
<path d="M212,164.5 C216,163 219,162 222,161.6" fill="none" stroke="#222" stroke-width="0.6" opacity="1"/>
<rect x="205.30" y="160.80" width="16.30" height="8.30" fill="none" stroke="#5567b0" stroke-width="0.8"/>
<path d="M236.2,139.2 L247.6,139.2 L247.6,168.9 L225.8,168.9 L225.8,161.2 Z" fill="none" stroke="#5567b0" stroke-width="0.8" opacity="1"/>
<path d="M65.2 254.2h0M71.7 250.4h0M65.1 251.9h0M44.5 256.4h0M53.2 247.9h0M51.5 246.4h0M71.8 250.1h0M62.0 249.8h0M49.3 249.7h0M40.8 252.5h0M47.3 251.9h0M48.4 247.5h0M68.6 252.3h0M66.9 256.4h0M57.2 248.1h0M40.3 246.1h0M66.2 246.8h0M51.0 253.7h0M73.9 243.2h0M65.2 250.0h0M69.8 248.7h0M58.9 255.4h0M53.9 251.6h0M66.9 249.6h0M69.5 252.0h0M69.0 243.6h0M49.3 251.2h0M72.6 255.5h0M60.4 247.2h0M54.9 252.2h0M59.5 244.4h0M59.2 250.2h0M52.3 255.6h0M64.9 254.2h0M61.3 246.3h0M71.7 254.3h0M54.0 245.0h0M68.9 247.9h0M48.0 249.7h0M66.1 247.2h0M60.6 253.8h0M68.1 244.1h0M67.8 256.8h0M69.9 249.7h0M64.1 244.0h0M54.0 248.1h0M50.0 256.5h0M73.2 243.7h0M58.1 243.6h0M79.8 246.0h0M65.9 251.4h0M69.3 246.3h0M69.5 249.0h0M65.7 250.9h0M74.8 245.1h0M45.6 252.5h0M58.5 252.6h0M47.5 250.4h0M42.5 250.5h0M67.9 256.5h0M54.9 253.6h0M74.4 246.0h0M51.0 251.7h0M67.9 255.5h0M49.5 252.3h0M60.0 252.7h0M57.1 252.6h0M50.0 246.3h0M58.5 243.4h0M73.2 249.1h0M49.9 246.7h0M50.1 250.5h0M56.4 253.3h0M48.1 249.8h0M44.4 248.3h0M74.5 249.6h0M69.6 249.8h0M48.7 246.7h0M48.4 251.3h0M77.8 253.3h0M49.9 250.5h0M52.6 254.5h0M46.0 253.0h0M47.3 248.3h0M62.0 250.6h0M59.6 249.8h0M51.2 249.6h0M59.5 246.5h0M66.2 250.7h0M52.3 255.0h0M73.5 248.6h0M75.6 251.7h0M50.8 254.3h0M65.0 253.6h0M60.6 256.0h0M70.0 248.8h0M44.4 249.9h0M60.9 246.2h0M58.2 255.8h0M55.2 254.4h0M50.4 246.3h0M70.0 249.4h0M62.5 254.0h0M77.3 245.3h0M66.3 250.9h0M61.7 256.9h0M57.6 247.8h0M64.0 246.6h0M63.6 247.2h0M65.5 249.1h0M52.6 252.1h0M68.0 243.9h0M46.6 249.0h0M56.2 255.1h0M76.8 251.9h0M71.7 248.8h0M45.8 251.2h0M41.7 256.3h0M62.8 254.5h0M53.4 243.8h0M58.0 251.9h0M57.9 248.1h0M61.0 249.3h0M74.8 245.0h0M63.0 244.1h0M59.7 251.7h0M63.7 251.2h0M52.2 244.5h0M70.2 248.7h0M45.7 256.0h0M43.2 253.7h0M63.6 254.8h0M60.3 243.6h0M58.4 248.4h0M63.2 249.3h0M66.0 245.3h0M54.4 248.0h0M64.5 243.4h0M41.2 254.0h0M61.2 253.8h0M60.7 251.0h0M64.0 251.8h0M47.4 249.5h0M79.3 255.5h0M51.2 246.4h0M58.3 254.1h0M69.8 247.8h0M42.6 254.6h0M75.7 252.6h0M66.4 252.2h0M79.5 254.2h0M75.3 245.6h0M54.6 250.0h0M59.9 249.8h0M58.0 249.6h0M56.5 244.5h0M71.9 250.1h0M63.9 250.2h0M51.9 243.9h0M57.1 252.1h0M58.8 252.8h0M51.8 248.9h0M61.7 249.6h0M61.9 255.6h0M55.7 250.5h0M53.2 252.1h0M62.4 247.2h0M49.5 245.4h0M57.1 250.6h0M54.9 249.6h0M61.5 250.9h0M67.0 248.1h0M54.3 253.0h0M53.7 247.5h0M44.3 251.2h0M59.1 252.1h0M50.9 245.2h0M71.7 250.1h0M68.4 245.6h0M63.2 253.8h0M74.1 256.9h0M40.8 245.8h0M54.5 247.0h0M57.8 246.9h0M44.6 249.8h0M61.4 247.0h0M60.4 245.0h0M56.6 248.7h0M55.2 249.7h0M46.7 244.8h0M51.3 252.8h0M50.0 246.4h0" stroke="#999" stroke-width="0.60" stroke-linecap="round" opacity="1"/>
<path d="M64.0 249.1h0M73.8 252.9h0M67.4 255.8h0M59.7 247.0h0M71.9 252.7h0M63.3 253.7h0M65.5 256.8h0M59.3 252.5h0M71.2 253.9h0M64.1 250.4h0M63.7 253.4h0M63.9 251.1h0M71.4 251.2h0M67.3 251.2h0M66.1 245.5h0M61.0 252.5h0M62.6 249.8h0M66.3 257.7h0M62.0 248.9h0M56.5 252.7h0M65.7 249.2h0M63.8 254.2h0M71.4 252.5h0M72.1 254.2h0M63.6 253.7h0M66.8 253.6h0M67.5 257.3h0M59.4 252.5h0M60.3 257.8h0M63.3 250.5h0M65.9 251.4h0M75.0 251.4h0M67.3 254.4h0M74.0 248.9h0M67.6 247.9h0M68.6 255.3h0M63.2 250.7h0M72.3 252.7h0M70.3 250.3h0M64.3 250.5h0M74.3 247.4h0M63.3 255.7h0M65.6 248.5h0M67.2 250.9h0M65.4 252.9h0M70.2 247.4h0M67.1 255.6h0M58.9 251.2h0M59.8 253.3h0M61.5 250.6h0M63.8 252.7h0M59.1 247.7h0M67.0 255.2h0M63.3 252.6h0M67.4 251.8h0M65.9 250.0h0M64.7 254.8h0M68.3 255.0h0M62.1 251.8h0M62.6 247.9h0M70.7 250.7h0M67.3 247.6h0M64.6 251.2h0M63.9 254.3h0M68.4 251.9h0M67.2 250.3h0M62.2 250.7h0M60.6 251.0h0M65.4 254.6h0M63.7 258.1h0M63.2 251.9h0M65.8 249.8h0M65.6 246.7h0M71.9 249.9h0M65.8 246.5h0M69.0 248.0h0M73.2 248.6h0M62.1 253.3h0M72.7 246.1h0M57.1 255.9h0M68.3 247.3h0M63.7 253.4h0M63.9 255.6h0M62.2 252.0h0M72.1 255.6h0M67.2 253.1h0M64.2 251.3h0M62.9 252.6h0M70.4 248.7h0M59.8 251.6h0M76.5 252.1h0M66.7 251.4h0M57.1 249.5h0M73.9 245.7h0M75.4 248.2h0M76.7 258.7h0M73.9 251.1h0M69.1 250.0h0M63.6 252.1h0M49.4 253.0h0M64.3 248.5h0M64.5 253.3h0M61.9 252.5h0M58.9 251.8h0M59.9 253.6h0M60.5 253.2h0M55.5 252.0h0M71.8 249.2h0M66.2 249.1h0M68.5 253.6h0M72.0 255.2h0M72.8 249.5h0M66.6 253.0h0M67.0 247.9h0M76.6 258.5h0M66.3 244.3h0M75.6 251.0h0M77.9 248.6h0M68.7 253.7h0M58.4 250.6h0M68.5 253.3h0M68.0 244.3h0M53.4 252.5h0M74.4 247.2h0M68.0 254.1h0M60.8 247.1h0M67.4 250.3h0M65.4 250.9h0M65.3 252.3h0M63.2 251.4h0M63.0 249.1h0M67.8 249.2h0M68.8 251.4h0M71.6 253.1h0M55.4 251.4h0M69.4 251.8h0M66.2 254.5h0M69.5 247.8h0M66.4 254.3h0M66.8 248.0h0M70.0 253.2h0M72.0 252.0h0M66.5 253.9h0M60.1 256.2h0M68.1 252.1h0M69.9 253.7h0M54.3 254.1h0M65.4 249.3h0M70.7 254.1h0M67.9 249.8h0M66.5 248.8h0M79.2 249.7h0M70.6 256.0h0M61.4 250.0h0M54.1 250.8h0M59.0 251.9h0M64.8 251.5h0M66.1 250.2h0M66.5 251.3h0M62.2 250.6h0" stroke="#777" stroke-width="0.60" stroke-linecap="round" opacity="1"/>
<ellipse cx="48.60" cy="248.60" rx="7.60" ry="4.90" transform="rotate(12 48.60 248.60)" fill="#b8b8b8" stroke="#555" stroke-width="0.5" opacity="1"/>
<path d="M45.9 244.5h0M48.8 242.7h0M51.7 248.5h0M49.8 252.3h0M54.0 247.2h0M50.8 252.4h0M48.1 249.8h0M51.1 245.3h0M50.4 247.3h0M47.6 250.0h0M52.4 245.7h0M47.6 248.0h0M43.9 249.8h0M47.9 246.3h0M53.9 248.3h0M42.8 248.3h0M48.0 249.5h0M60.8 250.3h0M56.5 248.0h0M51.4 250.2h0M48.4 249.4h0M46.6 250.8h0M44.2 254.0h0M29.3 244.2h0M48.3 249.7h0M49.7 243.5h0M51.2 245.8h0M50.0 247.3h0M47.5 243.8h0M42.0 246.8h0M43.3 249.4h0M41.6 249.3h0M51.8 246.2h0M43.9 247.5h0M53.1 253.0h0M60.3 248.9h0M52.2 249.2h0M48.8 245.2h0M47.1 252.1h0M56.2 246.7h0M40.4 254.6h0M49.1 250.0h0M48.0 242.9h0M50.6 245.5h0M47.4 246.6h0M47.5 256.2h0M56.9 242.4h0M40.8 247.0h0M45.4 251.1h0M57.2 246.3h0M51.9 247.9h0M38.5 252.3h0M58.1 246.0h0M52.2 247.0h0M48.4 247.1h0M48.2 248.7h0M45.7 249.5h0M42.1 251.2h0M43.9 242.7h0M53.3 247.5h0M46.1 251.5h0M48.7 254.8h0M51.2 244.0h0M46.3 246.5h0M47.4 253.9h0M63.2 254.0h0M51.3 250.3h0M49.8 241.6h0M56.2 254.9h0M46.2 248.5h0M45.2 247.9h0M44.4 245.0h0M55.3 242.4h0M54.4 245.0h0M47.6 242.2h0M52.4 245.4h0M62.1 245.6h0M50.2 250.7h0M43.8 246.0h0M43.3 250.4h0M50.5 251.8h0M41.3 245.6h0M48.3 247.2h0M50.6 252.2h0M49.6 246.1h0M48.7 246.3h0M45.5 254.5h0M52.5 254.4h0M47.8 248.4h0M42.3 249.3h0M52.8 250.8h0M42.8 248.9h0M53.8 247.1h0M52.6 247.0h0M48.9 246.7h0M41.1 245.9h0M49.8 247.7h0M48.9 246.7h0M53.6 248.0h0M51.0 247.1h0M55.8 248.3h0M51.2 255.6h0M51.2 243.6h0M45.4 249.6h0M42.0 243.9h0M48.3 243.6h0M54.7 250.0h0M47.3 252.4h0M45.4 244.8h0M53.7 248.6h0M47.7 251.9h0M48.2 250.6h0M50.1 252.3h0M51.8 247.1h0M56.9 247.5h0M58.1 244.6h0M49.2 241.5h0M51.7 252.8h0M46.9 250.1h0M47.8 253.2h0M50.7 249.7h0M54.7 243.8h0M52.6 249.0h0M55.8 248.7h0M52.1 248.4h0M43.8 247.0h0M48.0 244.4h0M48.7 247.1h0M58.6 247.8h0M49.6 248.9h0M52.6 243.5h0M39.8 253.6h0M44.6 245.8h0M55.1 249.5h0M44.7 251.0h0M43.0 253.7h0M47.3 249.7h0M48.9 254.7h0M43.9 248.3h0M60.3 242.1h0M46.4 249.5h0M47.8 250.0h0M55.1 245.0h0M45.5 252.8h0M59.2 240.1h0M51.8 251.7h0M45.4 245.8h0M43.0 248.0h0M42.9 250.8h0M45.4 250.2h0M40.7 251.4h0M52.5 251.6h0M50.4 255.9h0M54.1 248.8h0M57.4 247.5h0M49.8 253.8h0M46.6 248.6h0M50.3 249.2h0M47.8 251.8h0M60.3 247.4h0M41.2 247.1h0M41.7 244.6h0M43.5 252.0h0M49.8 250.8h0M48.4 251.8h0M46.9 252.7h0M53.6 249.3h0M41.3 245.1h0M50.4 245.3h0M48.1 248.1h0M56.2 246.4h0M49.7 247.1h0M45.0 250.0h0M54.1 244.1h0M56.9 255.7h0M49.8 250.2h0M43.5 247.3h0M50.6 248.3h0M56.3 245.8h0M47.7 250.3h0M48.6 247.8h0M48.4 249.9h0M38.9 256.8h0M52.9 245.3h0M44.2 245.0h0M51.3 242.7h0M61.9 246.9h0M41.6 255.1h0M49.0 250.2h0M48.0 247.8h0M59.8 242.4h0M50.4 246.3h0M47.2 248.4h0M39.3 250.6h0M50.1 250.4h0M45.9 251.0h0M46.6 251.0h0M56.1 250.6h0M41.4 248.8h0M43.6 254.8h0M50.1 244.6h0M41.0 252.8h0M43.7 249.9h0M47.3 248.1h0M46.7 248.6h0M57.5 245.8h0M51.7 250.1h0M45.5 245.2h0M44.3 250.4h0M49.9 251.8h0M50.9 249.0h0M49.1 249.3h0M49.3 250.7h0M44.5 252.0h0M57.6 248.3h0M52.0 244.9h0M49.6 244.1h0M54.2 248.8h0M54.7 252.2h0M45.2 251.2h0" stroke="#555" stroke-width="0.60" stroke-linecap="round" opacity="1"/>
<ellipse cx="48.40" cy="248.50" rx="6.00" ry="3.60" transform="rotate(12 48.40 248.50)" fill="#777" stroke="#000" stroke-width="1.1" opacity="1"/>
<ellipse cx="48.20" cy="248.40" rx="4.00" ry="2.20" transform="rotate(12 48.20 248.40)" fill="#aaa" stroke="#222" stroke-width="0.6" opacity="1"/>
<ellipse cx="48.00" cy="248.30" rx="1.80" ry="0.90" transform="rotate(12 48.00 248.30)" fill="#f4f4f4" stroke="#444" stroke-width="0.3" opacity="1"/>
<path d="M54,250.5 C57,251.3 59,251.3 61,250.2" fill="none" stroke="#666" stroke-width="0.6" opacity="1"/>
<ellipse cx="66.30" cy="251.60" rx="6.60" ry="3.50" transform="rotate(5 66.30 251.60)" fill="#bbbbbb" stroke="#444" stroke-width="0.7" opacity="1"/>
<ellipse cx="66.30" cy="251.40" rx="4.80" ry="2.30" transform="rotate(5 66.30 251.40)" fill="#d8d8d8" stroke="#666" stroke-width="0.45" opacity="1"/>
<ellipse cx="66.00" cy="251.20" rx="2.80" ry="1.10" transform="rotate(5 66.00 251.20)" fill="#f2f2f2" stroke="#888" stroke-width="0.35" opacity="1"/>
<path d="M72.2 256.4h0M65.9 252.8h0M63.9 253.0h0M68.6 254.7h0M65.7 251.7h0M68.2 251.2h0M74.2 246.8h0M59.8 250.5h0M69.0 251.7h0M67.9 248.3h0M68.6 252.8h0M72.6 253.4h0M64.0 250.0h0M62.0 250.6h0M65.9 254.3h0M72.7 251.8h0M68.6 251.3h0M61.4 252.8h0M63.5 248.1h0M63.1 254.8h0M61.9 254.6h0M61.1 251.5h0M68.3 250.8h0M62.6 251.6h0M72.7 253.0h0M67.1 252.8h0M70.9 254.5h0M65.3 249.7h0M62.6 251.7h0M65.2 251.6h0M64.0 257.0h0M63.7 254.7h0M63.0 249.9h0M61.8 249.3h0M60.1 249.8h0M65.4 253.1h0M59.5 252.6h0M65.9 251.6h0M58.0 252.7h0M68.9 254.1h0M65.2 254.3h0M66.6 249.6h0M68.3 253.7h0M67.2 251.5h0M65.4 253.1h0M59.4 252.3h0M61.4 250.5h0M67.1 254.3h0M66.3 249.6h0M76.8 252.3h0M55.9 251.4h0M63.5 250.3h0M70.4 256.2h0M66.7 248.7h0M69.7 251.8h0M64.7 252.1h0M61.9 252.0h0M67.7 254.2h0M74.1 250.3h0M67.8 249.9h0M66.8 254.1h0M68.8 251.0h0M73.3 253.5h0M71.1 251.8h0M71.5 251.3h0M69.7 251.7h0M66.3 248.3h0M70.1 252.9h0M63.9 251.8h0M68.7 253.0h0M58.3 254.8h0M62.4 255.7h0M70.8 251.9h0M67.1 252.2h0M64.7 254.9h0M63.7 250.5h0M65.4 248.2h0M70.3 249.1h0M72.2 253.7h0M74.2 250.3h0M65.2 250.6h0M69.4 249.7h0M65.1 246.6h0M66.5 252.1h0M74.1 249.8h0M70.1 252.8h0M69.8 249.2h0M52.8 250.6h0M70.1 252.0h0M72.0 256.3h0M63.6 250.7h0M72.3 248.0h0M56.5 252.2h0M67.6 254.9h0M69.2 251.5h0M64.1 247.6h0M68.4 250.3h0M64.8 252.3h0M58.3 251.4h0M63.9 255.9h0" stroke="#666" stroke-width="0.60" stroke-linecap="round" opacity="1"/>
<path d="M60.3,253.0 C63,255.5 68,255.6 72,253.6" fill="none" stroke="#222" stroke-width="1.0" opacity="1"/>
<rect x="38.80" y="242.20" width="42.80" height="15.80" fill="none" stroke="#5567b0" stroke-width="0.8"/>
<path d="M62.8,242.2 L55.4,258.0" fill="none" stroke="#5567b0" stroke-width="0.9" opacity="1"/>
<path d="M42.2,258.0 L42.2,262.3 L113,262.3" fill="none" stroke="#444" stroke-width="0.9"/>
<path d="M113,260.9 L116.2,262.3 L113,263.7 Z" fill="#111"/>
<path d="M154.5 254.0h0M161.3 265.6h0M166.0 250.1h0M156.6 263.8h0M163.5 264.8h0M154.5 267.4h0M163.0 258.1h0M155.7 262.6h0M151.2 263.2h0M157.1 263.9h0M160.0 250.2h0M155.4 255.1h0M152.3 246.8h0M160.8 244.6h0M165.6 256.0h0M155.5 244.0h0M154.7 251.5h0M152.3 248.5h0M166.4 269.9h0M165.5 270.3h0M161.9 270.8h0M160.9 251.9h0M152.9 260.2h0M166.4 269.9h0M166.6 253.0h0M161.6 272.0h0M162.3 267.1h0M164.8 256.9h0M164.9 250.0h0M164.0 252.8h0M153.7 266.1h0M163.5 259.6h0M158.0 246.9h0M164.3 260.6h0M161.4 265.9h0M150.5 265.0h0M164.5 242.7h0M150.8 267.4h0M154.4 256.2h0M165.8 244.6h0" stroke="#999" stroke-width="0.64" stroke-linecap="round" opacity="1.0"/>
<path d="M123.00,247.00 C122.95,244.92 123.33,242.85 124.50,241.50 C125.67,240.15 127.42,239.37 130.00,238.90 C132.58,238.43 137.17,238.58 140.00,238.70 C142.83,238.82 145.42,238.72 147.00,239.60 C148.58,240.48 149.25,242.10 149.50,244.00 C149.75,245.90 149.33,248.92 148.50,251.00 C147.67,253.08 145.92,254.83 144.50,256.50 C143.08,258.17 141.00,259.08 140.00,261.00 C139.00,262.92 138.97,265.58 138.50,268.00 C138.03,270.42 138.03,274.25 137.20,275.50 C136.37,276.75 134.28,277.08 133.50,275.50 C132.72,273.92 133.17,268.58 132.50,266.00 C131.83,263.42 130.78,262.00 129.50,260.00 C128.22,258.00 125.88,256.17 124.80,254.00 C123.72,251.83 123.05,249.08 123.00,247.00 Z" fill="#d4d4d4" stroke="#666" stroke-width="0.6" opacity="1"/>
<path d="M124.40,247.20 C124.36,245.32 124.70,243.47 125.75,242.25 C126.80,241.03 128.38,240.33 130.70,239.91 C133.02,239.49 137.15,239.62 139.70,239.73 C142.25,239.83 144.57,239.75 146.00,240.54 C147.43,241.33 148.03,242.79 148.25,244.50 C148.47,246.21 148.10,248.93 147.35,250.80 C146.60,252.68 145.03,254.25 143.75,255.75 C142.47,257.25 140.60,258.07 139.70,259.80 C138.80,261.53 138.77,263.93 138.35,266.10 C137.93,268.28 137.93,271.73 137.18,272.85 C136.43,273.98 134.56,274.28 133.85,272.85 C133.14,271.43 133.55,266.62 132.95,264.30 C132.35,261.98 131.41,260.70 130.25,258.90 C129.09,257.10 126.99,255.45 126.02,253.50 C125.05,251.55 124.45,249.07 124.40,247.20 Z" fill="#c6c6c6" stroke="#555" stroke-width="0.4" opacity="1"/>
<path d="M125.80,247.40 C125.76,245.73 126.07,244.08 127.00,243.00 C127.93,241.92 129.33,241.29 131.40,240.92 C133.47,240.55 137.13,240.67 139.40,240.76 C141.67,240.85 143.73,240.77 145.00,241.48 C146.27,242.19 146.80,243.48 147.00,245.00 C147.20,246.52 146.87,248.93 146.20,250.60 C145.53,252.27 144.13,253.67 143.00,255.00 C141.87,256.33 140.20,257.07 139.40,258.60 C138.60,260.13 138.57,262.27 138.20,264.20 C137.83,266.13 137.83,269.20 137.16,270.20 C136.49,271.20 134.83,271.47 134.20,270.20 C133.57,268.93 133.93,264.67 133.40,262.60 C132.87,260.53 132.03,259.40 131.00,257.80 C129.97,256.20 128.11,254.73 127.24,253.00 C126.37,251.27 125.84,249.07 125.80,247.40 Z" fill="#cecece" stroke="#555" stroke-width="0.4" opacity="1"/>
<path d="M127.48,247.64 C127.45,246.22 127.71,244.82 128.50,243.90 C129.29,242.98 130.48,242.45 132.24,242.13 C134.00,241.81 137.11,241.92 139.04,242.00 C140.97,242.08 142.72,242.01 143.80,242.61 C144.88,243.21 145.33,244.31 145.50,245.60 C145.67,246.89 145.39,248.94 144.82,250.36 C144.25,251.78 143.06,252.97 142.10,254.10 C141.14,255.23 139.72,255.86 139.04,257.16 C138.36,258.46 138.34,260.28 138.02,261.92 C137.70,263.56 137.70,266.17 137.14,267.02 C136.57,267.87 135.15,268.10 134.62,267.02 C134.09,265.94 134.39,262.32 133.94,260.56 C133.49,258.80 132.77,257.84 131.90,256.48 C131.03,255.12 129.44,253.87 128.70,252.40 C127.97,250.93 127.51,249.06 127.48,247.64 Z" fill="#d8d8d8" stroke="#555" stroke-width="0.4" opacity="1"/>
<path d="M129.30,247.90 C129.27,246.75 129.48,245.62 130.12,244.88 C130.77,244.13 131.73,243.70 133.15,243.44 C134.57,243.19 137.09,243.27 138.65,243.33 C140.21,243.40 141.63,243.34 142.50,243.83 C143.37,244.32 143.74,245.20 143.88,246.25 C144.01,247.30 143.78,248.95 143.32,250.10 C142.87,251.25 141.90,252.21 141.12,253.12 C140.35,254.04 139.20,254.55 138.65,255.60 C138.10,256.65 138.08,258.12 137.82,259.45 C137.57,260.78 137.57,262.89 137.11,263.57 C136.65,264.26 135.51,264.45 135.07,263.57 C134.64,262.70 134.89,259.77 134.53,258.35 C134.16,256.93 133.58,256.15 132.88,255.05 C132.17,253.95 130.89,252.94 130.29,251.75 C129.69,250.56 129.33,249.05 129.30,247.90 Z" fill="#e0e0e0" stroke="#555" stroke-width="0.4" opacity="1"/>
<path d="M131.12,248.16 C131.10,247.28 131.26,246.42 131.75,245.85 C132.24,245.28 132.97,244.95 134.06,244.76 C135.15,244.56 137.07,244.62 138.26,244.67 C139.45,244.72 140.53,244.68 141.20,245.05 C141.86,245.42 142.14,246.10 142.25,246.90 C142.36,247.70 142.18,248.97 141.83,249.84 C141.48,250.72 140.75,251.45 140.15,252.15 C139.56,252.85 138.68,253.23 138.26,254.04 C137.84,254.84 137.83,255.97 137.63,256.98 C137.43,258.00 137.43,259.61 137.08,260.13 C136.73,260.65 135.86,260.80 135.53,260.13 C135.20,259.46 135.39,257.22 135.11,256.14 C134.83,255.05 134.39,254.46 133.85,253.62 C133.31,252.78 132.33,252.01 131.88,251.10 C131.42,250.19 131.14,249.03 131.12,248.16 Z" fill="#d6d6d6" stroke="#555" stroke-width="0.4" opacity="1"/>
<path d="M131.9 246.1h0M124.2 249.1h0M140.4 252.6h0M138.9 246.8h0M124.9 246.3h0M126.4 247.6h0M133.1 248.9h0M139.2 241.9h0M131.8 249.4h0M130.2 250.6h0M137.6 250.1h0M130.5 249.6h0M132.8 247.0h0M137.8 243.5h0M129.9 248.8h0M125.5 244.7h0M138.0 248.4h0M125.6 247.9h0M126.8 251.0h0M136.4 243.1h0M131.3 245.7h0M130.6 251.3h0M135.9 243.4h0M136.7 239.7h0M135.0 244.5h0M130.7 245.7h0M138.7 243.3h0M136.2 253.6h0M127.7 253.6h0M132.0 254.7h0M129.2 250.8h0M130.7 251.7h0M139.3 247.5h0M129.1 250.8h0M136.2 241.0h0M137.3 245.2h0M133.4 241.5h0M135.3 249.9h0M129.1 249.7h0M135.6 241.6h0M135.0 240.0h0M145.0 247.8h0M140.4 241.7h0M141.9 245.3h0M140.8 247.8h0M136.0 250.8h0M130.6 244.1h0M140.4 248.1h0M130.9 241.0h0M139.3 245.3h0M126.5 247.9h0M136.8 256.5h0M128.7 249.5h0M131.2 245.7h0M133.6 252.6h0M135.9 245.3h0M130.3 250.6h0M130.0 247.9h0M136.4 249.4h0M138.6 247.3h0M145.4 249.6h0M129.7 241.8h0M130.0 252.1h0M127.7 253.2h0M136.5 243.3h0M128.3 245.5h0M138.4 245.7h0M138.1 246.8h0M141.8 243.8h0M133.3 240.8h0M132.2 241.4h0M125.4 245.0h0M136.1 248.6h0M135.9 245.1h0M129.7 246.9h0M129.1 244.9h0M136.3 244.8h0M125.0 250.6h0M130.8 243.8h0M130.9 245.7h0M133.1 247.6h0M139.3 254.5h0M129.0 247.0h0M128.3 246.3h0M135.6 245.8h0M135.4 249.0h0M128.1 245.8h0M140.0 250.3h0M139.6 242.2h0M130.3 250.5h0M134.0 247.3h0M132.0 250.2h0M135.0 241.4h0M136.1 244.4h0M132.5 248.6h0M134.9 243.4h0M127.4 243.9h0M133.3 240.5h0M130.5 256.6h0M130.4 246.3h0M127.1 244.5h0M135.4 246.7h0M124.5 246.2h0M128.5 251.0h0M133.5 253.2h0M136.1 240.7h0M139.4 243.8h0M133.4 246.4h0M126.7 251.3h0M134.9 241.3h0M126.3 248.1h0M140.9 247.8h0M135.8 244.1h0M140.2 248.5h0M129.5 243.2h0M136.5 249.5h0M132.8 255.8h0M128.3 242.2h0M143.1 250.2h0M138.3 245.5h0M133.8 246.7h0M136.4 243.2h0M139.9 254.0h0M131.0 241.7h0M134.7 257.2h0M128.6 252.2h0M130.2 242.6h0M140.1 245.2h0M133.8 249.2h0M140.4 247.1h0M142.8 242.9h0M131.1 249.1h0M132.3 249.2h0M133.1 254.2h0M125.1 246.9h0M132.7 245.7h0M131.7 243.1h0M138.9 241.3h0M130.5 239.7h0M143.7 241.8h0M133.7 253.4h0M128.0 252.0h0M126.7 243.9h0M137.2 247.6h0M135.9 247.5h0M130.1 250.0h0M125.7 242.9h0M147.8 252.2h0M136.9 246.4h0M133.1 242.0h0M129.1 241.6h0M126.8 246.7h0M136.4 241.8h0M134.8 240.0h0M136.1 244.6h0M133.6 246.9h0M141.4 247.0h0M130.3 246.8h0M136.2 248.5h0M140.0 242.3h0M127.3 248.9h0M127.6 248.1h0M125.7 242.3h0M136.2 244.8h0M138.0 247.2h0M135.9 248.6h0M125.2 251.3h0M126.0 242.1h0M136.3 244.4h0M137.2 240.8h0M131.9 247.2h0M133.6 247.9h0M143.4 249.3h0M128.3 245.9h0M132.7 242.2h0M137.7 244.3h0" stroke="#666" stroke-width="0.60" stroke-linecap="round" opacity="1"/>
<path d="M142.9 248.7h0M144.7 254.8h0M148.1 247.3h0M139.2 246.7h0M139.7 244.4h0M144.0 244.4h0M142.1 246.6h0M141.1 247.3h0M141.3 247.9h0M138.9 246.4h0M148.4 242.8h0M139.0 249.9h0M143.2 246.7h0M142.7 244.4h0M140.0 248.2h0M142.7 248.7h0M143.7 255.2h0M142.4 251.8h0M142.6 255.2h0M145.8 243.1h0M148.1 243.8h0M145.9 243.1h0M143.4 246.8h0M144.9 244.1h0M140.6 243.5h0M145.4 247.2h0M141.4 250.8h0M139.6 249.2h0M141.1 248.0h0M140.9 251.8h0M140.4 254.3h0M145.1 242.8h0M140.3 251.6h0M147.6 241.3h0M142.7 248.7h0M141.3 249.9h0M142.3 242.7h0M141.9 245.3h0M141.2 246.5h0M143.4 243.0h0M144.6 239.8h0M144.6 248.2h0M143.7 240.2h0M140.1 247.0h0M143.8 249.2h0M146.2 241.5h0M137.4 244.3h0M141.0 245.2h0M146.8 247.4h0M142.4 249.7h0M141.9 251.8h0M142.6 244.3h0M137.5 250.0h0M145.3 251.5h0M144.5 253.2h0M146.7 243.2h0M143.8 249.2h0M143.9 249.7h0M138.6 249.6h0M141.9 245.0h0M142.2 247.6h0M143.4 239.7h0M148.5 256.6h0M144.6 246.3h0M138.1 241.8h0M137.3 249.8h0M138.7 247.0h0M140.4 249.9h0M146.9 250.0h0M144.6 250.6h0M148.6 242.8h0M143.1 243.7h0M142.2 245.4h0M142.5 249.2h0M143.1 250.6h0M140.5 252.2h0M141.2 248.4h0M145.0 240.3h0M137.9 247.2h0M143.2 241.5h0M142.2 251.5h0M146.9 240.9h0M146.6 248.1h0" stroke="#444" stroke-width="0.60" stroke-linecap="round" opacity="1"/>
<path d="M125,254 C129,261 131,269 131.5,276 M142.5,256 C140.5,264 139.3,271 139.6,276 M127.5,252 C132,259 134,268 134.3,276 M129.5,250 C134,257 136.2,266 136.5,276 M145,254 C142,261 140.5,268 138.2,276" fill="none" stroke="#666" stroke-width="0.4" opacity="1"/>
<path d="M138.30,244.50 C138.63,243.55 139.72,242.58 140.80,242.30 C141.88,242.02 143.83,242.22 144.80,242.80 C145.77,243.38 146.37,244.43 146.60,245.80 C146.83,247.17 146.60,249.50 146.20,251.00 C145.80,252.50 145.13,254.07 144.20,254.80 C143.27,255.53 141.57,255.83 140.60,255.40 C139.63,254.97 138.70,253.43 138.40,252.20 C138.10,250.97 138.82,249.28 138.80,248.00 C138.78,246.72 137.97,245.45 138.30,244.50 Z" fill="#2a2a2a" stroke="#111" stroke-width="0.9" opacity="1"/>
<path d="M140.60,246.50 C140.83,245.90 141.47,245.32 142.00,245.20 C142.53,245.08 143.43,245.30 143.80,245.80 C144.17,246.30 144.30,247.47 144.20,248.20 C144.10,248.93 143.63,249.83 143.20,250.20 C142.77,250.57 142.03,250.63 141.60,250.40 C141.17,250.17 140.77,249.45 140.60,248.80 C140.43,248.15 140.37,247.10 140.60,246.50 Z" fill="#9a9a9a" stroke="none" stroke-width="0.5" opacity="1"/>
<ellipse cx="142.60" cy="247.40" rx="0.80" ry="1.00" transform="rotate(0 142.60 247.40)" fill="#eee" stroke="none" stroke-width="0" opacity="1"/>
<rect x="121.10" y="238.40" width="30.60" height="39.30" fill="none" stroke="#5567b0" stroke-width="0.8"/>
<line x1="136.60" y1="238.40" x2="136.60" y2="277.70" stroke="#5567b0" stroke-width="1.1"/>
<line x1="34.00" y1="22.30" x2="86.00" y2="22.30" stroke="#555" stroke-width="0.8"/>
<line x1="86.00" y1="22.30" x2="86.00" y2="74.50" stroke="#8a8a8a" stroke-width="0.8"/>
<line x1="34.00" y1="21.90" x2="34.00" y2="74.50" stroke="#222" stroke-width="1.0"/>
<line x1="33.50" y1="74.50" x2="86.40" y2="74.50" stroke="#111" stroke-width="1.5"/>
<line x1="32.90" y1="25.30" x2="34.00" y2="25.30" stroke="#222" stroke-width="0.7"/>
<line x1="32.90" y1="28.93" x2="34.00" y2="28.93" stroke="#222" stroke-width="0.7"/>
<line x1="32.90" y1="32.56" x2="34.00" y2="32.56" stroke="#222" stroke-width="0.7"/>
<line x1="32.90" y1="36.19" x2="34.00" y2="36.19" stroke="#222" stroke-width="0.7"/>
<line x1="32.90" y1="39.82" x2="34.00" y2="39.82" stroke="#222" stroke-width="0.7"/>
<line x1="32.90" y1="43.45" x2="34.00" y2="43.45" stroke="#222" stroke-width="0.7"/>
<line x1="32.90" y1="47.08" x2="34.00" y2="47.08" stroke="#222" stroke-width="0.7"/>
<line x1="32.90" y1="50.72" x2="34.00" y2="50.72" stroke="#222" stroke-width="0.7"/>
<line x1="32.90" y1="54.35" x2="34.00" y2="54.35" stroke="#222" stroke-width="0.7"/>
<line x1="32.90" y1="57.98" x2="34.00" y2="57.98" stroke="#222" stroke-width="0.7"/>
<line x1="32.90" y1="61.61" x2="34.00" y2="61.61" stroke="#222" stroke-width="0.7"/>
<line x1="32.90" y1="65.24" x2="34.00" y2="65.24" stroke="#222" stroke-width="0.7"/>
<line x1="32.90" y1="68.87" x2="34.00" y2="68.87" stroke="#222" stroke-width="0.7"/>
<line x1="32.90" y1="72.50" x2="34.00" y2="72.50" stroke="#222" stroke-width="0.7"/>
<line x1="37.00" y1="74.50" x2="37.00" y2="75.60" stroke="#222" stroke-width="0.7"/>
<line x1="40.62" y1="74.50" x2="40.62" y2="75.60" stroke="#222" stroke-width="0.7"/>
<line x1="44.23" y1="74.50" x2="44.23" y2="75.60" stroke="#222" stroke-width="0.7"/>
<line x1="47.85" y1="74.50" x2="47.85" y2="75.60" stroke="#222" stroke-width="0.7"/>
<line x1="51.46" y1="74.50" x2="51.46" y2="75.60" stroke="#222" stroke-width="0.7"/>
<line x1="55.08" y1="74.50" x2="55.08" y2="75.60" stroke="#222" stroke-width="0.7"/>
<line x1="58.69" y1="74.50" x2="58.69" y2="75.60" stroke="#222" stroke-width="0.7"/>
<line x1="62.31" y1="74.50" x2="62.31" y2="75.60" stroke="#222" stroke-width="0.7"/>
<line x1="65.92" y1="74.50" x2="65.92" y2="75.60" stroke="#222" stroke-width="0.7"/>
<line x1="69.54" y1="74.50" x2="69.54" y2="75.60" stroke="#222" stroke-width="0.7"/>
<line x1="73.15" y1="74.50" x2="73.15" y2="75.60" stroke="#222" stroke-width="0.7"/>
<line x1="76.77" y1="74.50" x2="76.77" y2="75.60" stroke="#222" stroke-width="0.7"/>
<line x1="80.38" y1="74.50" x2="80.38" y2="75.60" stroke="#222" stroke-width="0.7"/>
<line x1="84.00" y1="74.50" x2="84.00" y2="75.60" stroke="#222" stroke-width="0.7"/>
<text x="20.40" y="28.20" font-size="6.1" fill="#222" text-anchor="start" stroke="#222" stroke-width="0.12">10</text>
<text x="27.28" y="25.29" font-size="4.7" fill="#222" text-anchor="start" stroke="#222" stroke-width="0.15">5</text>
<text x="20.40" y="42.40" font-size="6.1" fill="#222" text-anchor="start" stroke="#222" stroke-width="0.12">10</text>
<text x="27.28" y="39.49" font-size="4.7" fill="#222" text-anchor="start" stroke="#222" stroke-width="0.15">4</text>
<text x="20.40" y="55.20" font-size="6.1" fill="#222" text-anchor="start" stroke="#222" stroke-width="0.12">10</text>
<text x="27.28" y="52.29" font-size="4.7" fill="#222" text-anchor="start" stroke="#222" stroke-width="0.15">3</text>
<text x="29.80" y="65.49" font-size="5.8" fill="#222" text-anchor="end" stroke="#222" stroke-width="0.12">0</text>
<text x="44.00" y="84.29" font-size="5.8" fill="#222" text-anchor="start" stroke="#222" stroke-width="0.12">0</text>
<text x="50.10" y="84.40" font-size="6.1" fill="#222" text-anchor="start" stroke="#222" stroke-width="0.12">10</text>
<text x="56.98" y="81.49" font-size="4.7" fill="#222" text-anchor="start" stroke="#222" stroke-width="0.15">3</text>
<text x="63.60" y="84.40" font-size="6.1" fill="#222" text-anchor="start" stroke="#222" stroke-width="0.12">10</text>
<text x="70.48" y="81.49" font-size="4.7" fill="#222" text-anchor="start" stroke="#222" stroke-width="0.15">4</text>
<text x="75.10" y="84.40" font-size="6.1" fill="#222" text-anchor="start" stroke="#222" stroke-width="0.12">10</text>
<text x="81.98" y="81.49" font-size="4.7" fill="#222" text-anchor="start" stroke="#222" stroke-width="0.15">5</text>
<line x1="116.30" y1="22.30" x2="167.70" y2="22.30" stroke="#555" stroke-width="0.8"/>
<line x1="167.70" y1="22.30" x2="167.70" y2="74.30" stroke="#8a8a8a" stroke-width="0.8"/>
<line x1="116.30" y1="21.90" x2="116.30" y2="74.30" stroke="#222" stroke-width="1.0"/>
<line x1="115.80" y1="74.30" x2="168.10" y2="74.30" stroke="#111" stroke-width="1.5"/>
<line x1="115.20" y1="25.30" x2="116.30" y2="25.30" stroke="#222" stroke-width="0.7"/>
<line x1="115.20" y1="28.92" x2="116.30" y2="28.92" stroke="#222" stroke-width="0.7"/>
<line x1="115.20" y1="32.53" x2="116.30" y2="32.53" stroke="#222" stroke-width="0.7"/>
<line x1="115.20" y1="36.15" x2="116.30" y2="36.15" stroke="#222" stroke-width="0.7"/>
<line x1="115.20" y1="39.76" x2="116.30" y2="39.76" stroke="#222" stroke-width="0.7"/>
<line x1="115.20" y1="43.38" x2="116.30" y2="43.38" stroke="#222" stroke-width="0.7"/>
<line x1="115.20" y1="46.99" x2="116.30" y2="46.99" stroke="#222" stroke-width="0.7"/>
<line x1="115.20" y1="50.61" x2="116.30" y2="50.61" stroke="#222" stroke-width="0.7"/>
<line x1="115.20" y1="54.22" x2="116.30" y2="54.22" stroke="#222" stroke-width="0.7"/>
<line x1="115.20" y1="57.84" x2="116.30" y2="57.84" stroke="#222" stroke-width="0.7"/>
<line x1="115.20" y1="61.45" x2="116.30" y2="61.45" stroke="#222" stroke-width="0.7"/>
<line x1="115.20" y1="65.07" x2="116.30" y2="65.07" stroke="#222" stroke-width="0.7"/>
<line x1="115.20" y1="68.68" x2="116.30" y2="68.68" stroke="#222" stroke-width="0.7"/>
<line x1="115.20" y1="72.30" x2="116.30" y2="72.30" stroke="#222" stroke-width="0.7"/>
<line x1="119.30" y1="74.30" x2="119.30" y2="75.40" stroke="#222" stroke-width="0.7"/>
<line x1="122.87" y1="74.30" x2="122.87" y2="75.40" stroke="#222" stroke-width="0.7"/>
<line x1="126.44" y1="74.30" x2="126.44" y2="75.40" stroke="#222" stroke-width="0.7"/>
<line x1="130.01" y1="74.30" x2="130.01" y2="75.40" stroke="#222" stroke-width="0.7"/>
<line x1="133.58" y1="74.30" x2="133.58" y2="75.40" stroke="#222" stroke-width="0.7"/>
<line x1="137.15" y1="74.30" x2="137.15" y2="75.40" stroke="#222" stroke-width="0.7"/>
<line x1="140.72" y1="74.30" x2="140.72" y2="75.40" stroke="#222" stroke-width="0.7"/>
<line x1="144.28" y1="74.30" x2="144.28" y2="75.40" stroke="#222" stroke-width="0.7"/>
<line x1="147.85" y1="74.30" x2="147.85" y2="75.40" stroke="#222" stroke-width="0.7"/>
<line x1="151.42" y1="74.30" x2="151.42" y2="75.40" stroke="#222" stroke-width="0.7"/>
<line x1="154.99" y1="74.30" x2="154.99" y2="75.40" stroke="#222" stroke-width="0.7"/>
<line x1="158.56" y1="74.30" x2="158.56" y2="75.40" stroke="#222" stroke-width="0.7"/>
<line x1="162.13" y1="74.30" x2="162.13" y2="75.40" stroke="#222" stroke-width="0.7"/>
<line x1="165.70" y1="74.30" x2="165.70" y2="75.40" stroke="#222" stroke-width="0.7"/>
<text x="102.70" y="28.20" font-size="6.1" fill="#222" text-anchor="start" stroke="#222" stroke-width="0.12">10</text>
<text x="109.58" y="25.29" font-size="4.7" fill="#222" text-anchor="start" stroke="#222" stroke-width="0.15">5</text>
<text x="102.70" y="42.40" font-size="6.1" fill="#222" text-anchor="start" stroke="#222" stroke-width="0.12">10</text>
<text x="109.58" y="39.49" font-size="4.7" fill="#222" text-anchor="start" stroke="#222" stroke-width="0.15">4</text>
<text x="102.70" y="55.20" font-size="6.1" fill="#222" text-anchor="start" stroke="#222" stroke-width="0.12">10</text>
<text x="109.58" y="52.29" font-size="4.7" fill="#222" text-anchor="start" stroke="#222" stroke-width="0.15">3</text>
<text x="112.10" y="65.49" font-size="5.8" fill="#222" text-anchor="end" stroke="#222" stroke-width="0.12">0</text>
<text x="126.30" y="84.29" font-size="5.8" fill="#222" text-anchor="start" stroke="#222" stroke-width="0.12">0</text>
<text x="132.40" y="84.40" font-size="6.1" fill="#222" text-anchor="start" stroke="#222" stroke-width="0.12">10</text>
<text x="139.28" y="81.49" font-size="4.7" fill="#222" text-anchor="start" stroke="#222" stroke-width="0.15">3</text>
<text x="145.90" y="84.40" font-size="6.1" fill="#222" text-anchor="start" stroke="#222" stroke-width="0.12">10</text>
<text x="152.78" y="81.49" font-size="4.7" fill="#222" text-anchor="start" stroke="#222" stroke-width="0.15">4</text>
<text x="157.40" y="84.40" font-size="6.1" fill="#222" text-anchor="start" stroke="#222" stroke-width="0.12">10</text>
<text x="164.28" y="81.49" font-size="4.7" fill="#222" text-anchor="start" stroke="#222" stroke-width="0.15">5</text>
<line x1="198.70" y1="22.40" x2="250.00" y2="22.40" stroke="#555" stroke-width="0.8"/>
<line x1="250.00" y1="22.40" x2="250.00" y2="74.20" stroke="#8a8a8a" stroke-width="0.8"/>
<line x1="198.70" y1="22.00" x2="198.70" y2="74.20" stroke="#222" stroke-width="1.0"/>
<line x1="198.20" y1="74.20" x2="250.40" y2="74.20" stroke="#111" stroke-width="1.5"/>
<line x1="197.60" y1="25.40" x2="198.70" y2="25.40" stroke="#222" stroke-width="0.7"/>
<line x1="197.60" y1="29.00" x2="198.70" y2="29.00" stroke="#222" stroke-width="0.7"/>
<line x1="197.60" y1="32.60" x2="198.70" y2="32.60" stroke="#222" stroke-width="0.7"/>
<line x1="197.60" y1="36.20" x2="198.70" y2="36.20" stroke="#222" stroke-width="0.7"/>
<line x1="197.60" y1="39.80" x2="198.70" y2="39.80" stroke="#222" stroke-width="0.7"/>
<line x1="197.60" y1="43.40" x2="198.70" y2="43.40" stroke="#222" stroke-width="0.7"/>
<line x1="197.60" y1="47.00" x2="198.70" y2="47.00" stroke="#222" stroke-width="0.7"/>
<line x1="197.60" y1="50.60" x2="198.70" y2="50.60" stroke="#222" stroke-width="0.7"/>
<line x1="197.60" y1="54.20" x2="198.70" y2="54.20" stroke="#222" stroke-width="0.7"/>
<line x1="197.60" y1="57.80" x2="198.70" y2="57.80" stroke="#222" stroke-width="0.7"/>
<line x1="197.60" y1="61.40" x2="198.70" y2="61.40" stroke="#222" stroke-width="0.7"/>
<line x1="197.60" y1="65.00" x2="198.70" y2="65.00" stroke="#222" stroke-width="0.7"/>
<line x1="197.60" y1="68.60" x2="198.70" y2="68.60" stroke="#222" stroke-width="0.7"/>
<line x1="197.60" y1="72.20" x2="198.70" y2="72.20" stroke="#222" stroke-width="0.7"/>
<line x1="201.70" y1="74.20" x2="201.70" y2="75.30" stroke="#222" stroke-width="0.7"/>
<line x1="205.26" y1="74.20" x2="205.26" y2="75.30" stroke="#222" stroke-width="0.7"/>
<line x1="208.82" y1="74.20" x2="208.82" y2="75.30" stroke="#222" stroke-width="0.7"/>
<line x1="212.38" y1="74.20" x2="212.38" y2="75.30" stroke="#222" stroke-width="0.7"/>
<line x1="215.95" y1="74.20" x2="215.95" y2="75.30" stroke="#222" stroke-width="0.7"/>
<line x1="219.51" y1="74.20" x2="219.51" y2="75.30" stroke="#222" stroke-width="0.7"/>
<line x1="223.07" y1="74.20" x2="223.07" y2="75.30" stroke="#222" stroke-width="0.7"/>
<line x1="226.63" y1="74.20" x2="226.63" y2="75.30" stroke="#222" stroke-width="0.7"/>
<line x1="230.19" y1="74.20" x2="230.19" y2="75.30" stroke="#222" stroke-width="0.7"/>
<line x1="233.75" y1="74.20" x2="233.75" y2="75.30" stroke="#222" stroke-width="0.7"/>
<line x1="237.32" y1="74.20" x2="237.32" y2="75.30" stroke="#222" stroke-width="0.7"/>
<line x1="240.88" y1="74.20" x2="240.88" y2="75.30" stroke="#222" stroke-width="0.7"/>
<line x1="244.44" y1="74.20" x2="244.44" y2="75.30" stroke="#222" stroke-width="0.7"/>
<line x1="248.00" y1="74.20" x2="248.00" y2="75.30" stroke="#222" stroke-width="0.7"/>
<text x="185.10" y="28.20" font-size="6.1" fill="#222" text-anchor="start" stroke="#222" stroke-width="0.12">10</text>
<text x="191.98" y="25.29" font-size="4.7" fill="#222" text-anchor="start" stroke="#222" stroke-width="0.15">5</text>
<text x="185.10" y="42.40" font-size="6.1" fill="#222" text-anchor="start" stroke="#222" stroke-width="0.12">10</text>
<text x="191.98" y="39.49" font-size="4.7" fill="#222" text-anchor="start" stroke="#222" stroke-width="0.15">4</text>
<text x="185.10" y="55.20" font-size="6.1" fill="#222" text-anchor="start" stroke="#222" stroke-width="0.12">10</text>
<text x="191.98" y="52.29" font-size="4.7" fill="#222" text-anchor="start" stroke="#222" stroke-width="0.15">3</text>
<text x="194.50" y="65.49" font-size="5.8" fill="#222" text-anchor="end" stroke="#222" stroke-width="0.12">0</text>
<text x="208.70" y="84.29" font-size="5.8" fill="#222" text-anchor="start" stroke="#222" stroke-width="0.12">0</text>
<text x="214.80" y="84.40" font-size="6.1" fill="#222" text-anchor="start" stroke="#222" stroke-width="0.12">10</text>
<text x="221.68" y="81.49" font-size="4.7" fill="#222" text-anchor="start" stroke="#222" stroke-width="0.15">3</text>
<text x="228.30" y="84.40" font-size="6.1" fill="#222" text-anchor="start" stroke="#222" stroke-width="0.12">10</text>
<text x="235.18" y="81.49" font-size="4.7" fill="#222" text-anchor="start" stroke="#222" stroke-width="0.15">4</text>
<text x="239.80" y="84.40" font-size="6.1" fill="#222" text-anchor="start" stroke="#222" stroke-width="0.12">10</text>
<text x="246.68" y="81.49" font-size="4.7" fill="#222" text-anchor="start" stroke="#222" stroke-width="0.15">5</text>
<line x1="33.80" y1="129.40" x2="86.00" y2="129.40" stroke="#555" stroke-width="0.8"/>
<line x1="86.00" y1="129.40" x2="86.00" y2="180.70" stroke="#8a8a8a" stroke-width="0.8"/>
<line x1="33.80" y1="129.00" x2="33.80" y2="180.70" stroke="#222" stroke-width="1.0"/>
<line x1="33.30" y1="180.70" x2="86.40" y2="180.70" stroke="#111" stroke-width="1.5"/>
<line x1="32.70" y1="132.40" x2="33.80" y2="132.40" stroke="#222" stroke-width="0.7"/>
<line x1="32.70" y1="135.96" x2="33.80" y2="135.96" stroke="#222" stroke-width="0.7"/>
<line x1="32.70" y1="139.52" x2="33.80" y2="139.52" stroke="#222" stroke-width="0.7"/>
<line x1="32.70" y1="143.08" x2="33.80" y2="143.08" stroke="#222" stroke-width="0.7"/>
<line x1="32.70" y1="146.65" x2="33.80" y2="146.65" stroke="#222" stroke-width="0.7"/>
<line x1="32.70" y1="150.21" x2="33.80" y2="150.21" stroke="#222" stroke-width="0.7"/>
<line x1="32.70" y1="153.77" x2="33.80" y2="153.77" stroke="#222" stroke-width="0.7"/>
<line x1="32.70" y1="157.33" x2="33.80" y2="157.33" stroke="#222" stroke-width="0.7"/>
<line x1="32.70" y1="160.89" x2="33.80" y2="160.89" stroke="#222" stroke-width="0.7"/>
<line x1="32.70" y1="164.45" x2="33.80" y2="164.45" stroke="#222" stroke-width="0.7"/>
<line x1="32.70" y1="168.02" x2="33.80" y2="168.02" stroke="#222" stroke-width="0.7"/>
<line x1="32.70" y1="171.58" x2="33.80" y2="171.58" stroke="#222" stroke-width="0.7"/>
<line x1="32.70" y1="175.14" x2="33.80" y2="175.14" stroke="#222" stroke-width="0.7"/>
<line x1="32.70" y1="178.70" x2="33.80" y2="178.70" stroke="#222" stroke-width="0.7"/>
<line x1="36.80" y1="180.70" x2="36.80" y2="181.80" stroke="#222" stroke-width="0.7"/>
<line x1="40.43" y1="180.70" x2="40.43" y2="181.80" stroke="#222" stroke-width="0.7"/>
<line x1="44.06" y1="180.70" x2="44.06" y2="181.80" stroke="#222" stroke-width="0.7"/>
<line x1="47.69" y1="180.70" x2="47.69" y2="181.80" stroke="#222" stroke-width="0.7"/>
<line x1="51.32" y1="180.70" x2="51.32" y2="181.80" stroke="#222" stroke-width="0.7"/>
<line x1="54.95" y1="180.70" x2="54.95" y2="181.80" stroke="#222" stroke-width="0.7"/>
<line x1="58.58" y1="180.70" x2="58.58" y2="181.80" stroke="#222" stroke-width="0.7"/>
<line x1="62.22" y1="180.70" x2="62.22" y2="181.80" stroke="#222" stroke-width="0.7"/>
<line x1="65.85" y1="180.70" x2="65.85" y2="181.80" stroke="#222" stroke-width="0.7"/>
<line x1="69.48" y1="180.70" x2="69.48" y2="181.80" stroke="#222" stroke-width="0.7"/>
<line x1="73.11" y1="180.70" x2="73.11" y2="181.80" stroke="#222" stroke-width="0.7"/>
<line x1="76.74" y1="180.70" x2="76.74" y2="181.80" stroke="#222" stroke-width="0.7"/>
<line x1="80.37" y1="180.70" x2="80.37" y2="181.80" stroke="#222" stroke-width="0.7"/>
<line x1="84.00" y1="180.70" x2="84.00" y2="181.80" stroke="#222" stroke-width="0.7"/>
<text x="20.20" y="137.80" font-size="6.1" fill="#222" text-anchor="start" stroke="#222" stroke-width="0.12">10</text>
<text x="27.08" y="134.89" font-size="4.7" fill="#222" text-anchor="start" stroke="#222" stroke-width="0.15">5</text>
<text x="20.20" y="150.30" font-size="6.1" fill="#222" text-anchor="start" stroke="#222" stroke-width="0.12">10</text>
<text x="27.08" y="147.39" font-size="4.7" fill="#222" text-anchor="start" stroke="#222" stroke-width="0.15">4</text>
<text x="20.20" y="164.50" font-size="6.1" fill="#222" text-anchor="start" stroke="#222" stroke-width="0.12">10</text>
<text x="27.08" y="161.59" font-size="4.7" fill="#222" text-anchor="start" stroke="#222" stroke-width="0.15">3</text>
<text x="29.60" y="169.49" font-size="5.8" fill="#222" text-anchor="end" stroke="#222" stroke-width="0.12">0</text>
<text x="43.80" y="190.09" font-size="5.8" fill="#222" text-anchor="start" stroke="#222" stroke-width="0.12">0</text>
<text x="49.90" y="190.20" font-size="6.1" fill="#222" text-anchor="start" stroke="#222" stroke-width="0.12">10</text>
<text x="56.78" y="187.29" font-size="4.7" fill="#222" text-anchor="start" stroke="#222" stroke-width="0.15">3</text>
<text x="63.40" y="190.20" font-size="6.1" fill="#222" text-anchor="start" stroke="#222" stroke-width="0.12">10</text>
<text x="70.28" y="187.29" font-size="4.7" fill="#222" text-anchor="start" stroke="#222" stroke-width="0.15">4</text>
<text x="74.90" y="190.20" font-size="6.1" fill="#222" text-anchor="start" stroke="#222" stroke-width="0.12">10</text>
<text x="81.78" y="187.29" font-size="4.7" fill="#222" text-anchor="start" stroke="#222" stroke-width="0.15">5</text>
<line x1="117.10" y1="129.30" x2="169.00" y2="129.30" stroke="#555" stroke-width="0.8"/>
<line x1="169.00" y1="129.30" x2="169.00" y2="180.50" stroke="#8a8a8a" stroke-width="0.8"/>
<line x1="117.10" y1="128.90" x2="117.10" y2="180.50" stroke="#222" stroke-width="1.0"/>
<line x1="116.60" y1="180.50" x2="169.40" y2="180.50" stroke="#111" stroke-width="1.5"/>
<line x1="116.00" y1="132.30" x2="117.10" y2="132.30" stroke="#222" stroke-width="0.7"/>
<line x1="116.00" y1="135.85" x2="117.10" y2="135.85" stroke="#222" stroke-width="0.7"/>
<line x1="116.00" y1="139.41" x2="117.10" y2="139.41" stroke="#222" stroke-width="0.7"/>
<line x1="116.00" y1="142.96" x2="117.10" y2="142.96" stroke="#222" stroke-width="0.7"/>
<line x1="116.00" y1="146.52" x2="117.10" y2="146.52" stroke="#222" stroke-width="0.7"/>
<line x1="116.00" y1="150.07" x2="117.10" y2="150.07" stroke="#222" stroke-width="0.7"/>
<line x1="116.00" y1="153.62" x2="117.10" y2="153.62" stroke="#222" stroke-width="0.7"/>
<line x1="116.00" y1="157.18" x2="117.10" y2="157.18" stroke="#222" stroke-width="0.7"/>
<line x1="116.00" y1="160.73" x2="117.10" y2="160.73" stroke="#222" stroke-width="0.7"/>
<line x1="116.00" y1="164.28" x2="117.10" y2="164.28" stroke="#222" stroke-width="0.7"/>
<line x1="116.00" y1="167.84" x2="117.10" y2="167.84" stroke="#222" stroke-width="0.7"/>
<line x1="116.00" y1="171.39" x2="117.10" y2="171.39" stroke="#222" stroke-width="0.7"/>
<line x1="116.00" y1="174.95" x2="117.10" y2="174.95" stroke="#222" stroke-width="0.7"/>
<line x1="116.00" y1="178.50" x2="117.10" y2="178.50" stroke="#222" stroke-width="0.7"/>
<line x1="120.10" y1="180.50" x2="120.10" y2="181.60" stroke="#222" stroke-width="0.7"/>
<line x1="123.71" y1="180.50" x2="123.71" y2="181.60" stroke="#222" stroke-width="0.7"/>
<line x1="127.32" y1="180.50" x2="127.32" y2="181.60" stroke="#222" stroke-width="0.7"/>
<line x1="130.92" y1="180.50" x2="130.92" y2="181.60" stroke="#222" stroke-width="0.7"/>
<line x1="134.53" y1="180.50" x2="134.53" y2="181.60" stroke="#222" stroke-width="0.7"/>
<line x1="138.14" y1="180.50" x2="138.14" y2="181.60" stroke="#222" stroke-width="0.7"/>
<line x1="141.75" y1="180.50" x2="141.75" y2="181.60" stroke="#222" stroke-width="0.7"/>
<line x1="145.35" y1="180.50" x2="145.35" y2="181.60" stroke="#222" stroke-width="0.7"/>
<line x1="148.96" y1="180.50" x2="148.96" y2="181.60" stroke="#222" stroke-width="0.7"/>
<line x1="152.57" y1="180.50" x2="152.57" y2="181.60" stroke="#222" stroke-width="0.7"/>
<line x1="156.18" y1="180.50" x2="156.18" y2="181.60" stroke="#222" stroke-width="0.7"/>
<line x1="159.78" y1="180.50" x2="159.78" y2="181.60" stroke="#222" stroke-width="0.7"/>
<line x1="163.39" y1="180.50" x2="163.39" y2="181.60" stroke="#222" stroke-width="0.7"/>
<line x1="167.00" y1="180.50" x2="167.00" y2="181.60" stroke="#222" stroke-width="0.7"/>
<text x="103.50" y="137.80" font-size="6.1" fill="#222" text-anchor="start" stroke="#222" stroke-width="0.12">10</text>
<text x="110.38" y="134.89" font-size="4.7" fill="#222" text-anchor="start" stroke="#222" stroke-width="0.15">5</text>
<text x="103.50" y="150.30" font-size="6.1" fill="#222" text-anchor="start" stroke="#222" stroke-width="0.12">10</text>
<text x="110.38" y="147.39" font-size="4.7" fill="#222" text-anchor="start" stroke="#222" stroke-width="0.15">4</text>
<text x="103.50" y="164.50" font-size="6.1" fill="#222" text-anchor="start" stroke="#222" stroke-width="0.12">10</text>
<text x="110.38" y="161.59" font-size="4.7" fill="#222" text-anchor="start" stroke="#222" stroke-width="0.15">3</text>
<text x="112.90" y="169.49" font-size="5.8" fill="#222" text-anchor="end" stroke="#222" stroke-width="0.12">0</text>
<text x="127.10" y="190.09" font-size="5.8" fill="#222" text-anchor="start" stroke="#222" stroke-width="0.12">0</text>
<text x="133.20" y="190.20" font-size="6.1" fill="#222" text-anchor="start" stroke="#222" stroke-width="0.12">10</text>
<text x="140.08" y="187.29" font-size="4.7" fill="#222" text-anchor="start" stroke="#222" stroke-width="0.15">3</text>
<text x="146.70" y="190.20" font-size="6.1" fill="#222" text-anchor="start" stroke="#222" stroke-width="0.12">10</text>
<text x="153.58" y="187.29" font-size="4.7" fill="#222" text-anchor="start" stroke="#222" stroke-width="0.15">4</text>
<text x="158.20" y="190.20" font-size="6.1" fill="#222" text-anchor="start" stroke="#222" stroke-width="0.12">10</text>
<text x="165.08" y="187.29" font-size="4.7" fill="#222" text-anchor="start" stroke="#222" stroke-width="0.15">5</text>
<line x1="199.60" y1="129.10" x2="251.70" y2="129.10" stroke="#555" stroke-width="0.8"/>
<line x1="251.70" y1="129.10" x2="251.70" y2="180.60" stroke="#8a8a8a" stroke-width="0.8"/>
<line x1="199.60" y1="128.70" x2="199.60" y2="180.60" stroke="#222" stroke-width="1.0"/>
<line x1="199.10" y1="180.60" x2="252.10" y2="180.60" stroke="#111" stroke-width="1.5"/>
<line x1="198.50" y1="132.10" x2="199.60" y2="132.10" stroke="#222" stroke-width="0.7"/>
<line x1="198.50" y1="135.68" x2="199.60" y2="135.68" stroke="#222" stroke-width="0.7"/>
<line x1="198.50" y1="139.25" x2="199.60" y2="139.25" stroke="#222" stroke-width="0.7"/>
<line x1="198.50" y1="142.83" x2="199.60" y2="142.83" stroke="#222" stroke-width="0.7"/>
<line x1="198.50" y1="146.41" x2="199.60" y2="146.41" stroke="#222" stroke-width="0.7"/>
<line x1="198.50" y1="149.98" x2="199.60" y2="149.98" stroke="#222" stroke-width="0.7"/>
<line x1="198.50" y1="153.56" x2="199.60" y2="153.56" stroke="#222" stroke-width="0.7"/>
<line x1="198.50" y1="157.14" x2="199.60" y2="157.14" stroke="#222" stroke-width="0.7"/>
<line x1="198.50" y1="160.72" x2="199.60" y2="160.72" stroke="#222" stroke-width="0.7"/>
<line x1="198.50" y1="164.29" x2="199.60" y2="164.29" stroke="#222" stroke-width="0.7"/>
<line x1="198.50" y1="167.87" x2="199.60" y2="167.87" stroke="#222" stroke-width="0.7"/>
<line x1="198.50" y1="171.45" x2="199.60" y2="171.45" stroke="#222" stroke-width="0.7"/>
<line x1="198.50" y1="175.02" x2="199.60" y2="175.02" stroke="#222" stroke-width="0.7"/>
<line x1="198.50" y1="178.60" x2="199.60" y2="178.60" stroke="#222" stroke-width="0.7"/>
<line x1="202.60" y1="180.60" x2="202.60" y2="181.70" stroke="#222" stroke-width="0.7"/>
<line x1="206.22" y1="180.60" x2="206.22" y2="181.70" stroke="#222" stroke-width="0.7"/>
<line x1="209.85" y1="180.60" x2="209.85" y2="181.70" stroke="#222" stroke-width="0.7"/>
<line x1="213.47" y1="180.60" x2="213.47" y2="181.70" stroke="#222" stroke-width="0.7"/>
<line x1="217.09" y1="180.60" x2="217.09" y2="181.70" stroke="#222" stroke-width="0.7"/>
<line x1="220.72" y1="180.60" x2="220.72" y2="181.70" stroke="#222" stroke-width="0.7"/>
<line x1="224.34" y1="180.60" x2="224.34" y2="181.70" stroke="#222" stroke-width="0.7"/>
<line x1="227.96" y1="180.60" x2="227.96" y2="181.70" stroke="#222" stroke-width="0.7"/>
<line x1="231.58" y1="180.60" x2="231.58" y2="181.70" stroke="#222" stroke-width="0.7"/>
<line x1="235.21" y1="180.60" x2="235.21" y2="181.70" stroke="#222" stroke-width="0.7"/>
<line x1="238.83" y1="180.60" x2="238.83" y2="181.70" stroke="#222" stroke-width="0.7"/>
<line x1="242.45" y1="180.60" x2="242.45" y2="181.70" stroke="#222" stroke-width="0.7"/>
<line x1="246.08" y1="180.60" x2="246.08" y2="181.70" stroke="#222" stroke-width="0.7"/>
<line x1="249.70" y1="180.60" x2="249.70" y2="181.70" stroke="#222" stroke-width="0.7"/>
<text x="186.00" y="137.80" font-size="6.1" fill="#222" text-anchor="start" stroke="#222" stroke-width="0.12">10</text>
<text x="192.88" y="134.89" font-size="4.7" fill="#222" text-anchor="start" stroke="#222" stroke-width="0.15">5</text>
<text x="186.00" y="150.30" font-size="6.1" fill="#222" text-anchor="start" stroke="#222" stroke-width="0.12">10</text>
<text x="192.88" y="147.39" font-size="4.7" fill="#222" text-anchor="start" stroke="#222" stroke-width="0.15">4</text>
<text x="186.00" y="164.50" font-size="6.1" fill="#222" text-anchor="start" stroke="#222" stroke-width="0.12">10</text>
<text x="192.88" y="161.59" font-size="4.7" fill="#222" text-anchor="start" stroke="#222" stroke-width="0.15">3</text>
<text x="195.40" y="169.49" font-size="5.8" fill="#222" text-anchor="end" stroke="#222" stroke-width="0.12">0</text>
<text x="209.60" y="190.09" font-size="5.8" fill="#222" text-anchor="start" stroke="#222" stroke-width="0.12">0</text>
<text x="215.70" y="190.20" font-size="6.1" fill="#222" text-anchor="start" stroke="#222" stroke-width="0.12">10</text>
<text x="222.58" y="187.29" font-size="4.7" fill="#222" text-anchor="start" stroke="#222" stroke-width="0.15">3</text>
<text x="229.20" y="190.20" font-size="6.1" fill="#222" text-anchor="start" stroke="#222" stroke-width="0.12">10</text>
<text x="236.08" y="187.29" font-size="4.7" fill="#222" text-anchor="start" stroke="#222" stroke-width="0.15">4</text>
<text x="240.70" y="190.20" font-size="6.1" fill="#222" text-anchor="start" stroke="#222" stroke-width="0.12">10</text>
<text x="247.58" y="187.29" font-size="4.7" fill="#222" text-anchor="start" stroke="#222" stroke-width="0.15">5</text>
<line x1="34.30" y1="235.80" x2="85.80" y2="235.80" stroke="#555" stroke-width="0.8"/>
<line x1="85.80" y1="235.80" x2="85.80" y2="287.00" stroke="#8a8a8a" stroke-width="0.8"/>
<line x1="34.30" y1="235.40" x2="34.30" y2="287.00" stroke="#222" stroke-width="1.0"/>
<line x1="33.80" y1="287.00" x2="86.20" y2="287.00" stroke="#111" stroke-width="1.5"/>
<line x1="33.20" y1="238.80" x2="34.30" y2="238.80" stroke="#222" stroke-width="0.7"/>
<line x1="33.20" y1="242.35" x2="34.30" y2="242.35" stroke="#222" stroke-width="0.7"/>
<line x1="33.20" y1="245.91" x2="34.30" y2="245.91" stroke="#222" stroke-width="0.7"/>
<line x1="33.20" y1="249.46" x2="34.30" y2="249.46" stroke="#222" stroke-width="0.7"/>
<line x1="33.20" y1="253.02" x2="34.30" y2="253.02" stroke="#222" stroke-width="0.7"/>
<line x1="33.20" y1="256.57" x2="34.30" y2="256.57" stroke="#222" stroke-width="0.7"/>
<line x1="33.20" y1="260.12" x2="34.30" y2="260.12" stroke="#222" stroke-width="0.7"/>
<line x1="33.20" y1="263.68" x2="34.30" y2="263.68" stroke="#222" stroke-width="0.7"/>
<line x1="33.20" y1="267.23" x2="34.30" y2="267.23" stroke="#222" stroke-width="0.7"/>
<line x1="33.20" y1="270.78" x2="34.30" y2="270.78" stroke="#222" stroke-width="0.7"/>
<line x1="33.20" y1="274.34" x2="34.30" y2="274.34" stroke="#222" stroke-width="0.7"/>
<line x1="33.20" y1="277.89" x2="34.30" y2="277.89" stroke="#222" stroke-width="0.7"/>
<line x1="33.20" y1="281.45" x2="34.30" y2="281.45" stroke="#222" stroke-width="0.7"/>
<line x1="33.20" y1="285.00" x2="34.30" y2="285.00" stroke="#222" stroke-width="0.7"/>
<line x1="37.30" y1="287.00" x2="37.30" y2="288.10" stroke="#222" stroke-width="0.7"/>
<line x1="40.88" y1="287.00" x2="40.88" y2="288.10" stroke="#222" stroke-width="0.7"/>
<line x1="44.45" y1="287.00" x2="44.45" y2="288.10" stroke="#222" stroke-width="0.7"/>
<line x1="48.03" y1="287.00" x2="48.03" y2="288.10" stroke="#222" stroke-width="0.7"/>
<line x1="51.61" y1="287.00" x2="51.61" y2="288.10" stroke="#222" stroke-width="0.7"/>
<line x1="55.18" y1="287.00" x2="55.18" y2="288.10" stroke="#222" stroke-width="0.7"/>
<line x1="58.76" y1="287.00" x2="58.76" y2="288.10" stroke="#222" stroke-width="0.7"/>
<line x1="62.34" y1="287.00" x2="62.34" y2="288.10" stroke="#222" stroke-width="0.7"/>
<line x1="65.92" y1="287.00" x2="65.92" y2="288.10" stroke="#222" stroke-width="0.7"/>
<line x1="69.49" y1="287.00" x2="69.49" y2="288.10" stroke="#222" stroke-width="0.7"/>
<line x1="73.07" y1="287.00" x2="73.07" y2="288.10" stroke="#222" stroke-width="0.7"/>
<line x1="76.65" y1="287.00" x2="76.65" y2="288.10" stroke="#222" stroke-width="0.7"/>
<line x1="80.22" y1="287.00" x2="80.22" y2="288.10" stroke="#222" stroke-width="0.7"/>
<line x1="83.80" y1="287.00" x2="83.80" y2="288.10" stroke="#222" stroke-width="0.7"/>
<text x="20.70" y="245.00" font-size="6.1" fill="#222" text-anchor="start" stroke="#222" stroke-width="0.12">10</text>
<text x="27.58" y="242.09" font-size="4.7" fill="#222" text-anchor="start" stroke="#222" stroke-width="0.15">5</text>
<text x="20.70" y="255.80" font-size="6.1" fill="#222" text-anchor="start" stroke="#222" stroke-width="0.12">10</text>
<text x="27.58" y="252.89" font-size="4.7" fill="#222" text-anchor="start" stroke="#222" stroke-width="0.15">4</text>
<text x="20.70" y="269.10" font-size="6.1" fill="#222" text-anchor="start" stroke="#222" stroke-width="0.12">10</text>
<text x="27.58" y="266.19" font-size="4.7" fill="#222" text-anchor="start" stroke="#222" stroke-width="0.15">3</text>
<text x="30.10" y="279.29" font-size="5.8" fill="#222" text-anchor="end" stroke="#222" stroke-width="0.12">0</text>
<text x="44.30" y="297.29" font-size="5.8" fill="#222" text-anchor="start" stroke="#222" stroke-width="0.12">0</text>
<text x="50.40" y="297.40" font-size="6.1" fill="#222" text-anchor="start" stroke="#222" stroke-width="0.12">10</text>
<text x="57.28" y="294.49" font-size="4.7" fill="#222" text-anchor="start" stroke="#222" stroke-width="0.15">3</text>
<text x="63.90" y="297.40" font-size="6.1" fill="#222" text-anchor="start" stroke="#222" stroke-width="0.12">10</text>
<text x="70.78" y="294.49" font-size="4.7" fill="#222" text-anchor="start" stroke="#222" stroke-width="0.15">4</text>
<text x="75.40" y="297.40" font-size="6.1" fill="#222" text-anchor="start" stroke="#222" stroke-width="0.12">10</text>
<text x="82.28" y="294.49" font-size="4.7" fill="#222" text-anchor="start" stroke="#222" stroke-width="0.15">5</text>
<line x1="116.90" y1="235.80" x2="169.00" y2="235.80" stroke="#555" stroke-width="0.8"/>
<line x1="169.00" y1="235.80" x2="169.00" y2="287.30" stroke="#8a8a8a" stroke-width="0.8"/>
<line x1="116.90" y1="235.40" x2="116.90" y2="287.30" stroke="#222" stroke-width="1.0"/>
<line x1="116.40" y1="287.30" x2="169.40" y2="287.30" stroke="#111" stroke-width="1.5"/>
<line x1="115.80" y1="238.80" x2="116.90" y2="238.80" stroke="#222" stroke-width="0.7"/>
<line x1="115.80" y1="242.38" x2="116.90" y2="242.38" stroke="#222" stroke-width="0.7"/>
<line x1="115.80" y1="245.95" x2="116.90" y2="245.95" stroke="#222" stroke-width="0.7"/>
<line x1="115.80" y1="249.53" x2="116.90" y2="249.53" stroke="#222" stroke-width="0.7"/>
<line x1="115.80" y1="253.11" x2="116.90" y2="253.11" stroke="#222" stroke-width="0.7"/>
<line x1="115.80" y1="256.68" x2="116.90" y2="256.68" stroke="#222" stroke-width="0.7"/>
<line x1="115.80" y1="260.26" x2="116.90" y2="260.26" stroke="#222" stroke-width="0.7"/>
<line x1="115.80" y1="263.84" x2="116.90" y2="263.84" stroke="#222" stroke-width="0.7"/>
<line x1="115.80" y1="267.42" x2="116.90" y2="267.42" stroke="#222" stroke-width="0.7"/>
<line x1="115.80" y1="270.99" x2="116.90" y2="270.99" stroke="#222" stroke-width="0.7"/>
<line x1="115.80" y1="274.57" x2="116.90" y2="274.57" stroke="#222" stroke-width="0.7"/>
<line x1="115.80" y1="278.15" x2="116.90" y2="278.15" stroke="#222" stroke-width="0.7"/>
<line x1="115.80" y1="281.72" x2="116.90" y2="281.72" stroke="#222" stroke-width="0.7"/>
<line x1="115.80" y1="285.30" x2="116.90" y2="285.30" stroke="#222" stroke-width="0.7"/>
<line x1="119.90" y1="287.30" x2="119.90" y2="288.40" stroke="#222" stroke-width="0.7"/>
<line x1="123.52" y1="287.30" x2="123.52" y2="288.40" stroke="#222" stroke-width="0.7"/>
<line x1="127.15" y1="287.30" x2="127.15" y2="288.40" stroke="#222" stroke-width="0.7"/>
<line x1="130.77" y1="287.30" x2="130.77" y2="288.40" stroke="#222" stroke-width="0.7"/>
<line x1="134.39" y1="287.30" x2="134.39" y2="288.40" stroke="#222" stroke-width="0.7"/>
<line x1="138.02" y1="287.30" x2="138.02" y2="288.40" stroke="#222" stroke-width="0.7"/>
<line x1="141.64" y1="287.30" x2="141.64" y2="288.40" stroke="#222" stroke-width="0.7"/>
<line x1="145.26" y1="287.30" x2="145.26" y2="288.40" stroke="#222" stroke-width="0.7"/>
<line x1="148.88" y1="287.30" x2="148.88" y2="288.40" stroke="#222" stroke-width="0.7"/>
<line x1="152.51" y1="287.30" x2="152.51" y2="288.40" stroke="#222" stroke-width="0.7"/>
<line x1="156.13" y1="287.30" x2="156.13" y2="288.40" stroke="#222" stroke-width="0.7"/>
<line x1="159.75" y1="287.30" x2="159.75" y2="288.40" stroke="#222" stroke-width="0.7"/>
<line x1="163.38" y1="287.30" x2="163.38" y2="288.40" stroke="#222" stroke-width="0.7"/>
<line x1="167.00" y1="287.30" x2="167.00" y2="288.40" stroke="#222" stroke-width="0.7"/>
<text x="103.30" y="245.00" font-size="6.1" fill="#222" text-anchor="start" stroke="#222" stroke-width="0.12">10</text>
<text x="110.18" y="242.09" font-size="4.7" fill="#222" text-anchor="start" stroke="#222" stroke-width="0.15">5</text>
<text x="103.30" y="255.80" font-size="6.1" fill="#222" text-anchor="start" stroke="#222" stroke-width="0.12">10</text>
<text x="110.18" y="252.89" font-size="4.7" fill="#222" text-anchor="start" stroke="#222" stroke-width="0.15">4</text>
<text x="103.30" y="269.10" font-size="6.1" fill="#222" text-anchor="start" stroke="#222" stroke-width="0.12">10</text>
<text x="110.18" y="266.19" font-size="4.7" fill="#222" text-anchor="start" stroke="#222" stroke-width="0.15">3</text>
<text x="112.70" y="279.29" font-size="5.8" fill="#222" text-anchor="end" stroke="#222" stroke-width="0.12">0</text>
<text x="126.90" y="297.29" font-size="5.8" fill="#222" text-anchor="start" stroke="#222" stroke-width="0.12">0</text>
<text x="133.00" y="297.40" font-size="6.1" fill="#222" text-anchor="start" stroke="#222" stroke-width="0.12">10</text>
<text x="139.88" y="294.49" font-size="4.7" fill="#222" text-anchor="start" stroke="#222" stroke-width="0.15">3</text>
<text x="146.50" y="297.40" font-size="6.1" fill="#222" text-anchor="start" stroke="#222" stroke-width="0.12">10</text>
<text x="153.38" y="294.49" font-size="4.7" fill="#222" text-anchor="start" stroke="#222" stroke-width="0.15">4</text>
<text x="158.00" y="297.40" font-size="6.1" fill="#222" text-anchor="start" stroke="#222" stroke-width="0.12">10</text>
<text x="164.88" y="294.49" font-size="4.7" fill="#222" text-anchor="start" stroke="#222" stroke-width="0.15">5</text>
<text x="57.50" y="27.40" font-size="5.0" font-weight="bold" fill="#111" text-anchor="start" stroke="#111" stroke-width="0.3" textLength="12.00" lengthAdjust="spacingAndGlyphs">Total B</text>
<text x="58.80" y="33.60" font-size="5.0" font-weight="bold" fill="#3a4fa8" text-anchor="start" stroke="#3a4fa8" stroke-width="0.3" textLength="7.50" lengthAdjust="spacingAndGlyphs">99.5</text>
<text x="116.50" y="30.10" font-size="5.0" font-weight="bold" fill="#111" text-anchor="start" stroke="#111" stroke-width="0.3" textLength="9.90" lengthAdjust="spacingAndGlyphs">MatB</text>
<text x="117.80" y="36.20" font-size="5.0" font-weight="bold" fill="#3a4fa8" text-anchor="start" stroke="#3a4fa8" stroke-width="0.3" textLength="8.40" lengthAdjust="spacingAndGlyphs">16.6</text>
<text x="117.80" y="48.20" font-size="5.0" font-weight="bold" fill="#3a4fa8" text-anchor="start" stroke="#3a4fa8" stroke-width="0.3" textLength="7.90" lengthAdjust="spacingAndGlyphs">63.5</text>
<text x="135.20" y="72.60" font-size="5.0" font-weight="bold" fill="#3a4fa8" text-anchor="start" stroke="#3a4fa8" stroke-width="0.3" textLength="7.40" lengthAdjust="spacingAndGlyphs">13.8</text>
<text x="148.90" y="72.60" font-size="5.0" font-weight="bold" fill="#111" text-anchor="start" stroke="#111" stroke-width="0.3" textLength="11.70" lengthAdjust="spacingAndGlyphs">ImmB</text>
<text x="205.20" y="33.10" font-size="5.0" font-weight="bold" fill="#111" text-anchor="start" stroke="#111" stroke-width="0.3" textLength="10.60" lengthAdjust="spacingAndGlyphs">PreB</text>
<text x="206.20" y="38.60" font-size="5.0" font-weight="bold" fill="#3a4fa8" text-anchor="start" stroke="#3a4fa8" stroke-width="0.3" textLength="8.00" lengthAdjust="spacingAndGlyphs">63.1</text>
<text x="207.20" y="69.40" font-size="5.0" font-weight="bold" fill="#3a4fa8" text-anchor="start" stroke="#3a4fa8" stroke-width="0.3" textLength="7.20" lengthAdjust="spacingAndGlyphs">24.9</text>
<text x="233.30" y="69.40" font-size="5.0" font-weight="bold" fill="#3a4fa8" text-anchor="start" stroke="#3a4fa8" stroke-width="0.3" textLength="4.40" lengthAdjust="spacingAndGlyphs">7.7</text>
<text x="201.30" y="73.30" font-size="5.0" font-weight="bold" fill="#111" text-anchor="start" stroke="#111" stroke-width="0.3" textLength="17.50" lengthAdjust="spacingAndGlyphs">ProB Kit-</text>
<text x="225.00" y="73.30" font-size="5.0" font-weight="bold" fill="#111" text-anchor="start" stroke="#111" stroke-width="0.3" textLength="19.60" lengthAdjust="spacingAndGlyphs">ProB Kit+</text>
<text x="34.70" y="135.70" font-size="5.0" font-weight="bold" fill="#111" text-anchor="start" stroke="#111" stroke-width="0.3" textLength="5.70" lengthAdjust="spacingAndGlyphs">MZ</text>
<text x="35.80" y="141.60" font-size="5.0" font-weight="bold" fill="#3a4fa8" text-anchor="start" stroke="#3a4fa8" stroke-width="0.3" textLength="4.00" lengthAdjust="spacingAndGlyphs">13</text>
<text x="55.20" y="176.40" font-size="5.0" font-weight="bold" fill="#3a4fa8" text-anchor="start" stroke="#3a4fa8" stroke-width="0.3" textLength="6.20" lengthAdjust="spacingAndGlyphs">17.7</text>
<text x="70.90" y="176.40" font-size="5.0" font-weight="bold" fill="#3a4fa8" text-anchor="start" stroke="#3a4fa8" stroke-width="0.3" textLength="7.40" lengthAdjust="spacingAndGlyphs">73.2</text>
<text x="127.90" y="134.10" font-size="5.0" font-weight="bold" fill="#111" text-anchor="start" stroke="#111" stroke-width="0.3" textLength="8.10" lengthAdjust="spacingAndGlyphs">FoB</text>
<text x="128.30" y="139.50" font-size="5.0" font-weight="bold" fill="#3a4fa8" text-anchor="start" stroke="#3a4fa8" stroke-width="0.3" textLength="8.40" lengthAdjust="spacingAndGlyphs">81.5</text>
<text x="150.00" y="172.00" font-size="5.0" font-weight="bold" fill="#3a4fa8" text-anchor="start" stroke="#3a4fa8" stroke-width="0.3" textLength="7.90" lengthAdjust="spacingAndGlyphs">11.1</text>
<text x="152.00" y="177.10" font-size="5.0" font-weight="bold" fill="#111" text-anchor="start" stroke="#111" stroke-width="0.3" textLength="4.30" lengthAdjust="spacingAndGlyphs">T2</text>
<text x="206.00" y="168.90" font-size="5.0" font-weight="bold" fill="#3a4fa8" text-anchor="start" stroke="#3a4fa8" stroke-width="0.3" textLength="6.00" lengthAdjust="spacingAndGlyphs">3.0</text>
<text x="239.40" y="169.10" font-size="5.0" font-weight="bold" fill="#3a4fa8" text-anchor="start" stroke="#3a4fa8" stroke-width="0.3" textLength="7.90" lengthAdjust="spacingAndGlyphs">81.5</text>
<text x="206.00" y="173.80" font-size="5.0" font-weight="bold" fill="#111" text-anchor="start" stroke="#111" stroke-width="0.3" textLength="6.30" lengthAdjust="spacingAndGlyphs">Sw</text>
<text x="226.10" y="173.80" font-size="5.0" font-weight="bold" fill="#111" text-anchor="start" stroke="#111" stroke-width="0.3" textLength="3.50" lengthAdjust="spacingAndGlyphs">T1</text>
<text x="38.80" y="241.60" font-size="5.0" font-weight="bold" fill="#111" text-anchor="start" stroke="#111" stroke-width="0.3" textLength="5.20" lengthAdjust="spacingAndGlyphs">B1</text>
<text x="75.40" y="241.60" font-size="5.0" font-weight="bold" fill="#111" text-anchor="start" stroke="#111" stroke-width="0.3" textLength="5.40" lengthAdjust="spacingAndGlyphs">B2</text>
<text x="39.20" y="258.00" font-size="5.0" font-weight="bold" fill="#3a4fa8" text-anchor="start" stroke="#3a4fa8" stroke-width="0.3" textLength="7.80" lengthAdjust="spacingAndGlyphs">24.4</text>
<text x="72.80" y="258.00" font-size="5.0" font-weight="bold" fill="#3a4fa8" text-anchor="start" stroke="#3a4fa8" stroke-width="0.3" textLength="8.00" lengthAdjust="spacingAndGlyphs">74.4</text>
<text x="124.50" y="277.00" font-size="5.0" font-weight="bold" fill="#3a4fa8" text-anchor="start" stroke="#3a4fa8" stroke-width="0.3" textLength="8.10" lengthAdjust="spacingAndGlyphs">24.7</text>
<text x="140.80" y="277.00" font-size="5.0" font-weight="bold" fill="#3a4fa8" text-anchor="start" stroke="#3a4fa8" stroke-width="0.3" textLength="8.10" lengthAdjust="spacingAndGlyphs">61.8</text>
<text x="125.00" y="283.00" font-size="5.0" font-weight="bold" fill="#111" text-anchor="start" stroke="#111" stroke-width="0.3" textLength="7.60" lengthAdjust="spacingAndGlyphs">B1b</text>
<text x="141.10" y="283.00" font-size="5.0" font-weight="bold" fill="#111" text-anchor="start" stroke="#111" stroke-width="0.3" textLength="7.20" lengthAdjust="spacingAndGlyphs">B1a</text>
<line x1="81.30" y1="35.60" x2="113.50" y2="35.60" stroke="#333" stroke-width="0.9"/>
<path d="M113.00,34.20 L116.00,35.60 L113.00,37.00 Z" fill="#111"/>
<path d="M11.70,80.50 L11.70,93.80 L28.20,93.80" fill="none" stroke="#333" stroke-width="1.3"/>
<path d="M9.50,82.00 L11.70,77.00 L13.90,82.00 L11.70,81.00 Z" fill="#111"/>
<path d="M27.00,91.50 L32.20,93.80 L27.00,96.10 L28.00,93.80 Z" fill="#111"/>
<text x="35.80" y="96.85" font-size="8.2" fill="#111" text-anchor="start" stroke="#111" stroke-width="0.55" textLength="14.00" lengthAdjust="spacingAndGlyphs">B220</text>
<text transform="translate(14.30,66.00) rotate(-90)" x="0" y="0" font-size="8.4" fill="#111" stroke="#111" stroke-width="0.4" text-anchor="middle" textLength="12.40" lengthAdjust="spacingAndGlyphs">CD19</text>
<path d="M93.50,80.10 L93.50,92.80 L109.90,92.80" fill="none" stroke="#333" stroke-width="1.3"/>
<path d="M91.30,81.60 L93.50,76.60 L95.70,81.60 L93.50,80.60 Z" fill="#111"/>
<path d="M108.70,90.50 L113.90,92.80 L108.70,95.10 L109.70,92.80 Z" fill="#111"/>
<text x="118.40" y="95.85" font-size="8.2" fill="#111" text-anchor="start" stroke="#111" stroke-width="0.55" textLength="9.40" lengthAdjust="spacingAndGlyphs">IgM</text>
<text transform="translate(96.00,68.40) rotate(-90)" x="0" y="0" font-size="8.4" fill="#111" stroke="#111" stroke-width="0.4" text-anchor="middle" textLength="7.80" lengthAdjust="spacingAndGlyphs">IgD</text>
<path d="M176.40,79.90 L176.40,92.90 L193.00,92.90" fill="none" stroke="#333" stroke-width="1.3"/>
<path d="M174.20,81.40 L176.40,76.40 L178.60,81.40 L176.40,80.40 Z" fill="#111"/>
<path d="M191.80,90.60 L197.00,92.90 L191.80,95.20 L192.80,92.90 Z" fill="#111"/>
<text x="200.80" y="95.95" font-size="8.2" fill="#111" text-anchor="start" stroke="#111" stroke-width="0.55" textLength="11.60" lengthAdjust="spacingAndGlyphs">c-kit</text>
<text transform="translate(178.60,65.30) rotate(-90)" x="0" y="0" font-size="8.4" fill="#111" stroke="#111" stroke-width="0.4" text-anchor="middle" textLength="14.20" lengthAdjust="spacingAndGlyphs">CD25</text>
<path d="M11.30,185.80 L11.30,199.80 L28.20,199.80" fill="none" stroke="#333" stroke-width="1.3"/>
<path d="M9.10,187.30 L11.30,182.30 L13.50,187.30 L11.30,186.30 Z" fill="#111"/>
<path d="M27.00,197.50 L32.20,199.80 L27.00,202.10 L28.00,199.80 Z" fill="#111"/>
<text x="36.10" y="202.85" font-size="8.2" fill="#111" text-anchor="start" stroke="#111" stroke-width="0.55" textLength="13.80" lengthAdjust="spacingAndGlyphs">CD23</text>
<text transform="translate(14.30,172.05) rotate(-90)" x="0" y="0" font-size="8.4" fill="#111" stroke="#111" stroke-width="0.4" text-anchor="middle" textLength="14.10" lengthAdjust="spacingAndGlyphs">CD21</text>
<path d="M94.00,186.10 L94.00,199.40 L110.60,199.40" fill="none" stroke="#333" stroke-width="1.3"/>
<path d="M91.80,187.60 L94.00,182.60 L96.20,187.60 L94.00,186.60 Z" fill="#111"/>
<path d="M109.40,197.10 L114.60,199.40 L109.40,201.70 L110.40,199.40 Z" fill="#111"/>
<text x="118.70" y="202.45" font-size="8.2" fill="#111" text-anchor="start" stroke="#111" stroke-width="0.55" textLength="9.60" lengthAdjust="spacingAndGlyphs">IgM</text>
<text transform="translate(96.40,175.30) rotate(-90)" x="0" y="0" font-size="8.4" fill="#111" stroke="#111" stroke-width="0.4" text-anchor="middle" textLength="9.00" lengthAdjust="spacingAndGlyphs">IgD</text>
<path d="M176.10,186.40 L176.10,199.40 L194.70,199.40" fill="none" stroke="#333" stroke-width="1.3"/>
<path d="M173.90,187.90 L176.10,182.90 L178.30,187.90 L176.10,186.90 Z" fill="#111"/>
<path d="M193.50,197.10 L198.70,199.40 L193.50,201.70 L194.50,199.40 Z" fill="#111"/>
<text x="202.00" y="202.45" font-size="8.2" fill="#111" text-anchor="start" stroke="#111" stroke-width="0.55" textLength="9.50" lengthAdjust="spacingAndGlyphs">IgM</text>
<text transform="translate(179.70,175.20) rotate(-90)" x="0" y="0" font-size="8.4" fill="#111" stroke="#111" stroke-width="0.4" text-anchor="middle" textLength="9.20" lengthAdjust="spacingAndGlyphs">IgD</text>
<path d="M10.80,293.50 L10.80,305.80 L29.20,305.80" fill="none" stroke="#333" stroke-width="1.3"/>
<path d="M8.60,295.00 L10.80,290.00 L13.00,295.00 L10.80,294.00 Z" fill="#111"/>
<path d="M28.00,303.50 L33.20,305.80 L28.00,308.10 L29.00,305.80 Z" fill="#111"/>
<text x="36.30" y="308.85" font-size="8.2" fill="#111" text-anchor="start" stroke="#111" stroke-width="0.55" textLength="13.80" lengthAdjust="spacingAndGlyphs">CD23</text>
<text transform="translate(14.70,278.85) rotate(-90)" x="0" y="0" font-size="8.4" fill="#111" stroke="#111" stroke-width="0.4" text-anchor="middle" textLength="13.30" lengthAdjust="spacingAndGlyphs">CD19</text>
<path d="M94.30,293.50 L94.30,305.80 L110.00,305.80" fill="none" stroke="#333" stroke-width="1.3"/>
<path d="M92.10,295.00 L94.30,290.00 L96.50,295.00 L94.30,294.00 Z" fill="#111"/>
<path d="M108.80,303.50 L114.00,305.80 L108.80,308.10 L109.80,305.80 Z" fill="#111"/>
<text x="118.80" y="308.85" font-size="8.2" fill="#111" text-anchor="start" stroke="#111" stroke-width="0.55" textLength="10.00" lengthAdjust="spacingAndGlyphs">CD5</text>
<text transform="translate(96.40,280.75) rotate(-90)" x="0" y="0" font-size="8.4" fill="#111" stroke="#111" stroke-width="0.4" text-anchor="middle" textLength="9.70" lengthAdjust="spacingAndGlyphs">IgM</text>
<line x1="295.00" y1="19.50" x2="295.00" y2="74.30" stroke="#2a2a2a" stroke-width="1.3"/>
<line x1="294.40" y1="73.70" x2="321.00" y2="73.70" stroke="#2a2a2a" stroke-width="1.3"/>
<line x1="292.40" y1="21.90" x2="295.00" y2="21.90" stroke="#2a2a2a" stroke-width="0.9"/>
<text x="291.00" y="24.17" font-size="6.3" fill="#333" text-anchor="end" stroke="#333" stroke-width="0.1">15</text>
<line x1="292.40" y1="39.17" x2="295.00" y2="39.17" stroke="#2a2a2a" stroke-width="0.9"/>
<text x="291.00" y="41.43" font-size="6.3" fill="#333" text-anchor="end" stroke="#333" stroke-width="0.1">10</text>
<line x1="292.40" y1="56.43" x2="295.00" y2="56.43" stroke="#2a2a2a" stroke-width="0.9"/>
<text x="291.00" y="58.70" font-size="6.3" fill="#333" text-anchor="end" stroke="#333" stroke-width="0.1">5</text>
<line x1="292.40" y1="73.70" x2="295.00" y2="73.70" stroke="#2a2a2a" stroke-width="0.9"/>
<text x="291.00" y="75.97" font-size="6.3" fill="#333" text-anchor="end" stroke="#333" stroke-width="0.1">0</text>
<line x1="307.70" y1="73.70" x2="307.70" y2="75.90" stroke="#2a2a2a" stroke-width="0.8"/>
<text x="292.20" y="86.18" font-size="6.6" fill="#333" text-anchor="start" stroke="#333" stroke-width="0.08" textLength="29.30" lengthAdjust="spacingAndGlyphs">total B-cell</text>
<g fill="none" stroke="#bd1437" stroke-width="1.1"><circle cx="302.9" cy="34.9" r="1.6"/><circle cx="299.9" cy="36.6" r="1.6"/><circle cx="302.0" cy="38.7" r="1.6"/><circle cx="300.5" cy="40.2" r="1.6"/><circle cx="302.5" cy="40.9" r="1.6"/><circle cx="299.1" cy="44.1" r="1.6"/><circle cx="301.4" cy="44.7" r="1.6"/><circle cx="303.7" cy="44.1" r="1.6"/><circle cx="300.2" cy="46.5" r="1.6"/><circle cx="302.2" cy="47.6" r="1.6"/><circle cx="303.1" cy="49.4" r="1.6"/><circle cx="304.3" cy="50.8" r="1.6"/></g>
<line x1="297.60" y1="43.00" x2="306.60" y2="43.00" stroke="#000" stroke-width="1.3"/>
<g fill="#1d3f88"><circle cx="314.7" cy="27.1" r="1.75"/><circle cx="313.3" cy="29.1" r="1.75"/><circle cx="313.6" cy="34.3" r="1.75"/><circle cx="314.7" cy="37.2" r="1.75"/><circle cx="313.0" cy="45.9" r="1.75"/><circle cx="315.9" cy="45.6" r="1.75"/><circle cx="314.5" cy="47.6" r="1.75"/><circle cx="312.4" cy="48.8" r="1.75"/><circle cx="316.5" cy="50.0" r="1.75"/><circle cx="314.1" cy="59.2" r="1.75"/></g>
<line x1="310.10" y1="42.40" x2="318.80" y2="42.40" stroke="#000" stroke-width="1.3"/>
<text transform="translate(276.2,46.1) rotate(-90)" font-size="8" fill="#222" stroke="#222" stroke-width="0.3" text-anchor="middle" textLength="42.6" lengthAdjust="spacingAndGlyphs">x10<tspan font-size="5" dy="-2.8">6</tspan><tspan dy="2.8"> cells in BM</tspan></text>
<line x1="339.60" y1="19.00" x2="339.60" y2="74.40" stroke="#2a2a2a" stroke-width="1.3"/>
<line x1="339.00" y1="73.80" x2="478.40" y2="73.80" stroke="#2a2a2a" stroke-width="1.3"/>
<line x1="337.00" y1="73.80" x2="339.60" y2="73.80" stroke="#2a2a2a" stroke-width="0.9"/>
<text x="335.60" y="76.07" font-size="6.3" fill="#333" text-anchor="end" stroke="#333" stroke-width="0.1">0</text>
<line x1="337.00" y1="63.44" x2="339.60" y2="63.44" stroke="#2a2a2a" stroke-width="0.9"/>
<text x="335.60" y="65.71" font-size="6.3" fill="#333" text-anchor="end" stroke="#333" stroke-width="0.1">1</text>
<line x1="337.00" y1="53.08" x2="339.60" y2="53.08" stroke="#2a2a2a" stroke-width="0.9"/>
<text x="335.60" y="55.35" font-size="6.3" fill="#333" text-anchor="end" stroke="#333" stroke-width="0.1">2</text>
<line x1="337.00" y1="42.72" x2="339.60" y2="42.72" stroke="#2a2a2a" stroke-width="0.9"/>
<text x="335.60" y="44.99" font-size="6.3" fill="#333" text-anchor="end" stroke="#333" stroke-width="0.1">3</text>
<line x1="337.00" y1="32.36" x2="339.60" y2="32.36" stroke="#2a2a2a" stroke-width="0.9"/>
<text x="335.60" y="34.63" font-size="6.3" fill="#333" text-anchor="end" stroke="#333" stroke-width="0.1">4</text>
<line x1="337.00" y1="22.00" x2="339.60" y2="22.00" stroke="#2a2a2a" stroke-width="0.9"/>
<text x="335.60" y="24.27" font-size="6.3" fill="#333" text-anchor="end" stroke="#333" stroke-width="0.1">5</text>
<line x1="353.10" y1="73.80" x2="353.10" y2="76.00" stroke="#2a2a2a" stroke-width="0.8"/>
<line x1="382.50" y1="73.80" x2="382.50" y2="76.00" stroke="#2a2a2a" stroke-width="0.8"/>
<line x1="409.50" y1="73.80" x2="409.50" y2="76.00" stroke="#2a2a2a" stroke-width="0.8"/>
<line x1="437.10" y1="73.80" x2="437.10" y2="76.00" stroke="#2a2a2a" stroke-width="0.8"/>
<line x1="463.50" y1="73.80" x2="463.50" y2="76.00" stroke="#2a2a2a" stroke-width="0.8"/>
<text x="340.20" y="85.98" font-size="6.6" fill="#333" text-anchor="start" stroke="#333" stroke-width="0.08" textLength="26.90" lengthAdjust="spacingAndGlyphs">proB kit+</text>
<text x="369.80" y="85.98" font-size="6.6" fill="#333" text-anchor="start" stroke="#333" stroke-width="0.08" textLength="23.40" lengthAdjust="spacingAndGlyphs">proB kit-</text>
<text x="402.00" y="85.98" font-size="6.6" fill="#333" text-anchor="start" stroke="#333" stroke-width="0.08" textLength="14.40" lengthAdjust="spacingAndGlyphs">preB</text>
<text x="429.00" y="85.98" font-size="6.6" fill="#333" text-anchor="start" stroke="#333" stroke-width="0.08" textLength="14.90" lengthAdjust="spacingAndGlyphs">immB</text>
<text x="456.50" y="85.98" font-size="6.6" fill="#333" text-anchor="start" stroke="#333" stroke-width="0.08" textLength="14.50" lengthAdjust="spacingAndGlyphs">matB</text>
<line x1="367.50" y1="21.90" x2="367.50" y2="73.80" stroke="#333" stroke-width="1.0" stroke-dasharray="2.2,1.6"/>
<line x1="396.30" y1="21.90" x2="396.30" y2="73.80" stroke="#333" stroke-width="1.0" stroke-dasharray="2.2,1.6"/>
<line x1="423.40" y1="21.90" x2="423.40" y2="73.80" stroke="#333" stroke-width="1.0" stroke-dasharray="2.2,1.6"/>
<line x1="451.30" y1="21.90" x2="451.30" y2="73.80" stroke="#333" stroke-width="1.0" stroke-dasharray="2.2,1.6"/>
<g fill="none" stroke="#bd1437" stroke-width="1.1"><circle cx="346.8" cy="63.2" r="1.6"/><circle cx="344.8" cy="67.9" r="1.6"/><circle cx="346.6" cy="67.2" r="1.6"/><circle cx="348.6" cy="67.7" r="1.6"/><circle cx="345.7" cy="69.6" r="1.6"/><circle cx="347.7" cy="70.0" r="1.6"/><circle cx="349.8" cy="70.6" r="1.6"/><circle cx="344.5" cy="70.8" r="1.6"/><circle cx="347.2" cy="71.5" r="1.6"/><circle cx="348.9" cy="68.9" r="1.6"/></g>
<line x1="343.00" y1="68.40" x2="351.30" y2="68.40" stroke="#000" stroke-width="1.3"/>
<g fill="#1d3f88"><circle cx="360.3" cy="62.2" r="1.75"/><circle cx="359.1" cy="64.6" r="1.75"/><circle cx="361.0" cy="65.3" r="1.75"/><circle cx="357.9" cy="67.6" r="1.75"/><circle cx="359.8" cy="68.8" r="1.75"/><circle cx="361.7" cy="70.0" r="1.75"/><circle cx="358.5" cy="70.8" r="1.75"/><circle cx="362.6" cy="70.8" r="1.75"/><circle cx="360.3" cy="70.8" r="1.75"/></g>
<line x1="355.50" y1="67.30" x2="364.40" y2="67.30" stroke="#000" stroke-width="1.3"/>
<g fill="none" stroke="#bd1437" stroke-width="1.1"><circle cx="375.2" cy="46.5" r="1.6"/><circle cx="374.6" cy="48.2" r="1.6"/><circle cx="376.0" cy="49.3" r="1.6"/><circle cx="374.0" cy="51.0" r="1.6"/><circle cx="375.3" cy="52.7" r="1.6"/><circle cx="373.4" cy="57.5" r="1.6"/><circle cx="375.3" cy="58.6" r="1.6"/><circle cx="377.2" cy="60.1" r="1.6"/><circle cx="378.1" cy="61.6" r="1.6"/><circle cx="372.8" cy="59.4" r="1.6"/><circle cx="374.3" cy="56.3" r="1.6"/><circle cx="376.4" cy="57.2" r="1.6"/></g>
<line x1="371.20" y1="55.70" x2="379.90" y2="55.70" stroke="#000" stroke-width="1.3"/>
<g fill="#1d3f88"><circle cx="388.9" cy="41.0" r="1.75"/><circle cx="388.2" cy="43.2" r="1.75"/><circle cx="387.7" cy="47.9" r="1.75"/><circle cx="389.1" cy="50.9" r="1.75"/><circle cx="387.1" cy="56.9" r="1.75"/><circle cx="390.1" cy="56.9" r="1.75"/><circle cx="388.9" cy="59.8" r="1.75"/><circle cx="388.2" cy="61.7" r="1.75"/><circle cx="388.9" cy="65.8" r="1.75"/><circle cx="387.4" cy="58.6" r="1.75"/></g>
<line x1="384.10" y1="54.50" x2="392.40" y2="54.50" stroke="#000" stroke-width="1.3"/>
<g fill="none" stroke="#bd1437" stroke-width="1.1"><circle cx="405.4" cy="34.1" r="1.6"/><circle cx="402.5" cy="36.3" r="1.6"/><circle cx="404.7" cy="38.4" r="1.6"/><circle cx="401.8" cy="44.2" r="1.6"/><circle cx="403.9" cy="44.9" r="1.6"/><circle cx="406.1" cy="45.6" r="1.6"/><circle cx="401.8" cy="47.8" r="1.6"/><circle cx="403.9" cy="48.5" r="1.6"/><circle cx="403.2" cy="50.7" r="1.6"/><circle cx="405.5" cy="51.7" r="1.6"/><circle cx="406.1" cy="54.3" r="1.6"/><circle cx="402.9" cy="46.4" r="1.6"/></g>
<line x1="400.00" y1="45.40" x2="407.80" y2="45.40" stroke="#000" stroke-width="1.3"/>
<g fill="#1d3f88"><circle cx="417.6" cy="28.3" r="1.75"/><circle cx="416.2" cy="30.1" r="1.75"/><circle cx="416.9" cy="37.7" r="1.75"/><circle cx="414.8" cy="47.1" r="1.75"/><circle cx="417.6" cy="47.8" r="1.75"/><circle cx="419.1" cy="46.8" r="1.75"/><circle cx="416.2" cy="58.6" r="1.75"/><circle cx="417.4" cy="62.7" r="1.75"/><circle cx="415.9" cy="48.5" r="1.75"/></g>
<line x1="412.20" y1="44.20" x2="420.80" y2="44.20" stroke="#000" stroke-width="1.3"/>
<g fill="none" stroke="#bd1437" stroke-width="1.1"><circle cx="430.6" cy="45.6" r="1.6"/><circle cx="428.5" cy="47.8" r="1.6"/><circle cx="431.4" cy="49.3" r="1.6"/><circle cx="429.2" cy="51.4" r="1.6"/><circle cx="427.7" cy="52.9" r="1.6"/><circle cx="430.6" cy="54.3" r="1.6"/><circle cx="432.4" cy="56.5" r="1.6"/><circle cx="429.9" cy="57.2" r="1.6"/><circle cx="432.9" cy="58.3" r="1.6"/><circle cx="428.0" cy="50.7" r="1.6"/><circle cx="431.8" cy="51.7" r="1.6"/></g>
<line x1="426.30" y1="52.10" x2="435.00" y2="52.10" stroke="#000" stroke-width="1.3"/>
<g fill="#1d3f88"><circle cx="440.7" cy="46.4" r="1.75"/><circle cx="445.8" cy="45.4" r="1.75"/><circle cx="442.9" cy="49.3" r="1.75"/><circle cx="444.3" cy="51.4" r="1.75"/><circle cx="441.5" cy="54.3" r="1.75"/><circle cx="443.6" cy="55.7" r="1.75"/><circle cx="445.1" cy="57.9" r="1.75"/><circle cx="445.8" cy="60.8" r="1.75"/><circle cx="443.6" cy="67.0" r="1.75"/><circle cx="441.9" cy="52.1" r="1.75"/></g>
<line x1="439.30" y1="54.60" x2="447.50" y2="54.60" stroke="#000" stroke-width="1.3"/>
<g fill="none" stroke="#bd1437" stroke-width="1.1"><circle cx="457.6" cy="51.3" r="1.6"/><circle cx="456.6" cy="53.7" r="1.6"/><circle cx="455.9" cy="59.6" r="1.6"/><circle cx="457.9" cy="60.3" r="1.6"/><circle cx="457.2" cy="62.2" r="1.6"/><circle cx="459.5" cy="62.9" r="1.6"/><circle cx="459.2" cy="64.9" r="1.6"/><circle cx="456.6" cy="62.9" r="1.6"/><circle cx="455.3" cy="61.6" r="1.6"/><circle cx="458.6" cy="61.6" r="1.6"/></g>
<line x1="453.30" y1="60.90" x2="461.80" y2="60.90" stroke="#000" stroke-width="1.3"/>
<g fill="#1d3f88"><circle cx="470.0" cy="37.2" r="1.75"/><circle cx="470.0" cy="42.5" r="1.75"/><circle cx="469.1" cy="53.7" r="1.75"/><circle cx="470.4" cy="54.5" r="1.75"/><circle cx="471.1" cy="58.3" r="1.75"/><circle cx="469.1" cy="62.9" r="1.75"/><circle cx="471.1" cy="64.2" r="1.75"/><circle cx="472.4" cy="65.5" r="1.75"/><circle cx="468.4" cy="64.9" r="1.75"/><circle cx="469.7" cy="60.5" r="1.75"/></g>
<line x1="465.50" y1="61.30" x2="474.70" y2="61.30" stroke="#000" stroke-width="1.3"/>
<circle cx="483.9" cy="42.8" r="1.7" fill="none" stroke="#bd1437" stroke-width="1.1"/>
<circle cx="483.9" cy="50.8" r="1.9" fill="#1d3f88"/>
<text x="488.60" y="44.89" font-size="5.8" fill="#333" text-anchor="start" stroke="#333" stroke-width="0.1" textLength="20.40" lengthAdjust="spacingAndGlyphs">wild-type</text>
<text x="488.60" y="52.89" font-size="5.8" fill="#333" text-anchor="start" stroke="#333" stroke-width="0.1" textLength="17.30" lengthAdjust="spacingAndGlyphs">C481S</text>
<line x1="295.00" y1="126.90" x2="295.00" y2="181.20" stroke="#2a2a2a" stroke-width="1.3"/>
<line x1="294.40" y1="180.60" x2="351.50" y2="180.60" stroke="#2a2a2a" stroke-width="1.3"/>
<line x1="292.40" y1="129.80" x2="295.00" y2="129.80" stroke="#2a2a2a" stroke-width="0.9"/>
<text x="291.00" y="132.07" font-size="6.3" fill="#333" text-anchor="end" stroke="#333" stroke-width="0.1">150</text>
<line x1="292.40" y1="146.73" x2="295.00" y2="146.73" stroke="#2a2a2a" stroke-width="0.9"/>
<text x="291.00" y="149.00" font-size="6.3" fill="#333" text-anchor="end" stroke="#333" stroke-width="0.1">100</text>
<line x1="292.40" y1="163.67" x2="295.00" y2="163.67" stroke="#2a2a2a" stroke-width="0.9"/>
<text x="291.00" y="165.93" font-size="6.3" fill="#333" text-anchor="end" stroke="#333" stroke-width="0.1">50</text>
<line x1="292.40" y1="180.60" x2="295.00" y2="180.60" stroke="#2a2a2a" stroke-width="0.9"/>
<text x="291.00" y="182.87" font-size="6.3" fill="#333" text-anchor="end" stroke="#333" stroke-width="0.1">0</text>
<line x1="308.50" y1="180.60" x2="308.50" y2="182.80" stroke="#2a2a2a" stroke-width="0.8"/>
<line x1="337.50" y1="180.60" x2="337.50" y2="182.80" stroke="#2a2a2a" stroke-width="0.8"/>
<text x="292.30" y="192.98" font-size="6.6" fill="#333" text-anchor="start" stroke="#333" stroke-width="0.08" textLength="32.70" lengthAdjust="spacingAndGlyphs">total B-cells</text>
<text x="332.30" y="192.98" font-size="6.6" fill="#333" text-anchor="start" stroke="#333" stroke-width="0.08" textLength="10.80" lengthAdjust="spacingAndGlyphs">FoB</text>
<line x1="323.30" y1="129.40" x2="323.30" y2="180.60" stroke="#333" stroke-width="1.0" stroke-dasharray="2.2,1.6"/>
<g fill="none" stroke="#bd1437" stroke-width="1.1"><circle cx="298.9" cy="147.2" r="1.6"/><circle cx="301.6" cy="145.9" r="1.6"/><circle cx="303.2" cy="147.2" r="1.6"/><circle cx="304.9" cy="148.6" r="1.6"/><circle cx="300.9" cy="148.6" r="1.6"/><circle cx="302.2" cy="158.4" r="1.6"/><circle cx="300.3" cy="161.7" r="1.6"/><circle cx="302.9" cy="162.4" r="1.6"/><circle cx="300.9" cy="164.3" r="1.6"/><circle cx="303.6" cy="166.3" r="1.6"/><circle cx="301.8" cy="174.5" r="1.6"/></g>
<line x1="297.40" y1="156.80" x2="307.10" y2="156.80" stroke="#000" stroke-width="1.3"/>
<g fill="#1d3f88"><circle cx="316.1" cy="144.6" r="1.75"/><circle cx="314.7" cy="147.2" r="1.75"/><circle cx="317.4" cy="149.2" r="1.75"/><circle cx="316.1" cy="151.2" r="1.75"/><circle cx="314.7" cy="157.1" r="1.75"/><circle cx="313.4" cy="161.1" r="1.75"/><circle cx="316.7" cy="161.7" r="1.75"/><circle cx="312.8" cy="165.7" r="1.75"/><circle cx="316.1" cy="166.3" r="1.75"/><circle cx="318.7" cy="167.6" r="1.75"/><circle cx="315.8" cy="179.5" r="1.75"/></g>
<line x1="310.80" y1="159.70" x2="320.70" y2="159.70" stroke="#000" stroke-width="1.3"/>
<g fill="none" stroke="#bd1437" stroke-width="1.1"><circle cx="327.2" cy="161.1" r="1.6"/><circle cx="329.9" cy="160.4" r="1.6"/><circle cx="332.5" cy="161.7" r="1.6"/><circle cx="328.6" cy="163.0" r="1.6"/><circle cx="326.6" cy="166.3" r="1.6"/><circle cx="330.5" cy="167.6" r="1.6"/><circle cx="327.9" cy="169.6" r="1.6"/><circle cx="333.2" cy="171.6" r="1.6"/><circle cx="330.5" cy="177.5" r="1.6"/><circle cx="329.2" cy="172.2" r="1.6"/></g>
<line x1="325.90" y1="166.30" x2="335.10" y2="166.30" stroke="#000" stroke-width="1.3"/>
<g fill="#1d3f88"><circle cx="345.7" cy="158.4" r="1.75"/><circle cx="343.7" cy="161.1" r="1.75"/><circle cx="345.0" cy="163.7" r="1.75"/><circle cx="342.4" cy="165.7" r="1.75"/><circle cx="346.3" cy="165.7" r="1.75"/><circle cx="343.7" cy="169.6" r="1.75"/><circle cx="347.0" cy="170.9" r="1.75"/><circle cx="345.7" cy="172.9" r="1.75"/><circle cx="344.7" cy="179.5" r="1.75"/></g>
<line x1="340.40" y1="167.90" x2="349.60" y2="167.90" stroke="#000" stroke-width="1.3"/>
<text transform="translate(276.2,153.0) rotate(-90)" font-size="8" fill="#222" stroke="#222" stroke-width="0.3" text-anchor="middle" textLength="44" lengthAdjust="spacingAndGlyphs">x10<tspan font-size="5" dy="-2.8">6</tspan><tspan dy="2.8"> cells in spleen</tspan></text>
<line x1="375.40" y1="127.30" x2="375.40" y2="181.20" stroke="#2a2a2a" stroke-width="1.3"/>
<line x1="374.80" y1="180.60" x2="457.60" y2="180.60" stroke="#2a2a2a" stroke-width="1.3"/>
<line x1="372.80" y1="129.40" x2="375.40" y2="129.40" stroke="#2a2a2a" stroke-width="0.9"/>
<text x="371.40" y="131.67" font-size="6.3" fill="#333" text-anchor="end" stroke="#333" stroke-width="0.1">25</text>
<line x1="372.80" y1="139.64" x2="375.40" y2="139.64" stroke="#2a2a2a" stroke-width="0.9"/>
<text x="371.40" y="141.91" font-size="6.3" fill="#333" text-anchor="end" stroke="#333" stroke-width="0.1">20</text>
<line x1="372.80" y1="149.88" x2="375.40" y2="149.88" stroke="#2a2a2a" stroke-width="0.9"/>
<text x="371.40" y="152.15" font-size="6.3" fill="#333" text-anchor="end" stroke="#333" stroke-width="0.1">15</text>
<line x1="372.80" y1="160.12" x2="375.40" y2="160.12" stroke="#2a2a2a" stroke-width="0.9"/>
<text x="371.40" y="162.39" font-size="6.3" fill="#333" text-anchor="end" stroke="#333" stroke-width="0.1">10</text>
<line x1="372.80" y1="170.36" x2="375.40" y2="170.36" stroke="#2a2a2a" stroke-width="0.9"/>
<text x="371.40" y="172.63" font-size="6.3" fill="#333" text-anchor="end" stroke="#333" stroke-width="0.1">5</text>
<line x1="372.80" y1="180.60" x2="375.40" y2="180.60" stroke="#2a2a2a" stroke-width="0.9"/>
<text x="371.40" y="182.87" font-size="6.3" fill="#333" text-anchor="end" stroke="#333" stroke-width="0.1">0</text>
<line x1="388.80" y1="180.60" x2="388.80" y2="182.80" stroke="#2a2a2a" stroke-width="0.8"/>
<line x1="417.40" y1="180.60" x2="417.40" y2="182.80" stroke="#2a2a2a" stroke-width="0.8"/>
<line x1="444.50" y1="180.60" x2="444.50" y2="182.80" stroke="#2a2a2a" stroke-width="0.8"/>
<text x="385.80" y="192.98" font-size="6.6" fill="#333" text-anchor="start" stroke="#333" stroke-width="0.08" textLength="6.00" lengthAdjust="spacingAndGlyphs">T1</text>
<text x="414.40" y="192.98" font-size="6.6" fill="#333" text-anchor="start" stroke="#333" stroke-width="0.08" textLength="6.00" lengthAdjust="spacingAndGlyphs">T2</text>
<text x="440.50" y="192.98" font-size="6.6" fill="#333" text-anchor="start" stroke="#333" stroke-width="0.08" textLength="8.00" lengthAdjust="spacingAndGlyphs">MZ</text>
<line x1="403.50" y1="130.00" x2="403.50" y2="180.60" stroke="#333" stroke-width="1.0" stroke-dasharray="2.2,1.6"/>
<line x1="431.40" y1="130.00" x2="431.40" y2="180.60" stroke="#333" stroke-width="1.0" stroke-dasharray="2.2,1.6"/>
<g fill="none" stroke="#bd1437" stroke-width="1.1"><circle cx="381.9" cy="147.4" r="1.6"/><circle cx="379.1" cy="150.3" r="1.6"/><circle cx="383.2" cy="150.0" r="1.6"/><circle cx="385.1" cy="153.3" r="1.6"/><circle cx="381.5" cy="162.1" r="1.6"/><circle cx="379.9" cy="164.2" r="1.6"/><circle cx="384.0" cy="165.0" r="1.6"/><circle cx="382.4" cy="168.0" r="1.6"/><circle cx="384.0" cy="170.8" r="1.6"/><circle cx="381.2" cy="171.6" r="1.6"/><circle cx="382.8" cy="174.8" r="1.6"/></g>
<line x1="377.50" y1="159.80" x2="386.90" y2="159.80" stroke="#000" stroke-width="1.3"/>
<g fill="#1d3f88"><circle cx="395.9" cy="138.9" r="1.75"/><circle cx="395.4" cy="148.4" r="1.75"/><circle cx="397.1" cy="149.5" r="1.75"/><circle cx="394.6" cy="160.1" r="1.75"/><circle cx="393.0" cy="163.4" r="1.75"/><circle cx="397.9" cy="163.1" r="1.75"/><circle cx="395.4" cy="166.7" r="1.75"/><circle cx="397.1" cy="169.1" r="1.75"/><circle cx="394.6" cy="177.3" r="1.75"/><circle cx="396.6" cy="179.8" r="1.75"/></g>
<line x1="391.80" y1="163.10" x2="400.80" y2="163.10" stroke="#000" stroke-width="1.3"/>
<g fill="none" stroke="#bd1437" stroke-width="1.1"><circle cx="408.5" cy="162.6" r="1.6"/><circle cx="410.9" cy="162.1" r="1.6"/><circle cx="414.2" cy="164.2" r="1.6"/><circle cx="407.7" cy="165.0" r="1.6"/><circle cx="410.1" cy="166.7" r="1.6"/><circle cx="408.5" cy="171.6" r="1.6"/><circle cx="410.9" cy="173.2" r="1.6"/><circle cx="412.3" cy="178.1" r="1.6"/><circle cx="410.1" cy="169.1" r="1.6"/></g>
<line x1="406.00" y1="169.10" x2="415.00" y2="169.10" stroke="#000" stroke-width="1.3"/>
<g fill="#1d3f88"><circle cx="424.8" cy="156.5" r="1.75"/><circle cx="424.0" cy="161.0" r="1.75"/><circle cx="424.8" cy="163.4" r="1.75"/><circle cx="427.3" cy="169.9" r="1.75"/><circle cx="422.4" cy="170.8" r="1.75"/><circle cx="425.7" cy="172.4" r="1.75"/><circle cx="423.2" cy="174.8" r="1.75"/><circle cx="424.8" cy="178.1" r="1.75"/><circle cx="428.9" cy="171.3" r="1.75"/></g>
<line x1="420.40" y1="170.80" x2="429.40" y2="170.80" stroke="#000" stroke-width="1.3"/>
<g fill="none" stroke="#bd1437" stroke-width="1.1"><circle cx="436.3" cy="165.0" r="1.6"/><circle cx="439.5" cy="165.0" r="1.6"/><circle cx="437.9" cy="167.5" r="1.6"/><circle cx="435.5" cy="169.9" r="1.6"/><circle cx="440.4" cy="169.1" r="1.6"/><circle cx="437.1" cy="172.4" r="1.6"/><circle cx="434.6" cy="175.7" r="1.6"/><circle cx="437.9" cy="177.8" r="1.6"/><circle cx="439.5" cy="176.5" r="1.6"/></g>
<line x1="432.50" y1="171.60" x2="442.00" y2="171.60" stroke="#000" stroke-width="1.3"/>
<g fill="#1d3f88"><circle cx="450.2" cy="165.4" r="1.75"/><circle cx="451.8" cy="166.7" r="1.75"/><circle cx="449.3" cy="171.6" r="1.75"/><circle cx="452.6" cy="173.2" r="1.75"/><circle cx="450.5" cy="175.7" r="1.75"/><circle cx="451.8" cy="178.1" r="1.75"/><circle cx="448.5" cy="174.0" r="1.75"/></g>
<line x1="446.90" y1="172.90" x2="455.90" y2="172.90" stroke="#000" stroke-width="1.3"/>
<line x1="482.40" y1="126.90" x2="482.40" y2="180.80" stroke="#2a2a2a" stroke-width="1.3"/>
<line x1="481.80" y1="180.20" x2="510.60" y2="180.20" stroke="#2a2a2a" stroke-width="1.3"/>
<line x1="479.80" y1="129.80" x2="482.40" y2="129.80" stroke="#2a2a2a" stroke-width="0.9"/>
<text x="478.40" y="132.07" font-size="6.3" fill="#333" text-anchor="end" stroke="#333" stroke-width="0.1">2</text>
<line x1="479.80" y1="142.40" x2="482.40" y2="142.40" stroke="#2a2a2a" stroke-width="0.9"/>
<text x="478.40" y="144.67" font-size="6.3" fill="#333" text-anchor="end" stroke="#333" stroke-width="0.1">1.5</text>
<line x1="479.80" y1="155.00" x2="482.40" y2="155.00" stroke="#2a2a2a" stroke-width="0.9"/>
<text x="478.40" y="157.27" font-size="6.3" fill="#333" text-anchor="end" stroke="#333" stroke-width="0.1">1</text>
<line x1="479.80" y1="167.60" x2="482.40" y2="167.60" stroke="#2a2a2a" stroke-width="0.9"/>
<text x="478.40" y="169.87" font-size="6.3" fill="#333" text-anchor="end" stroke="#333" stroke-width="0.1">0.5</text>
<line x1="479.80" y1="180.20" x2="482.40" y2="180.20" stroke="#2a2a2a" stroke-width="0.9"/>
<text x="478.40" y="182.47" font-size="6.3" fill="#333" text-anchor="end" stroke="#333" stroke-width="0.1">0</text>
<line x1="496.50" y1="180.20" x2="496.50" y2="182.40" stroke="#2a2a2a" stroke-width="0.8"/>
<text x="491.80" y="192.78" font-size="6.6" fill="#333" text-anchor="start" stroke="#333" stroke-width="0.08" textLength="9.40" lengthAdjust="spacingAndGlyphs">Sw</text>
<g fill="none" stroke="#bd1437" stroke-width="1.1"><circle cx="489.9" cy="160.7" r="1.6"/><circle cx="488.1" cy="164.1" r="1.6"/><circle cx="487.0" cy="167.6" r="1.6"/><circle cx="490.4" cy="167.6" r="1.6"/><circle cx="488.7" cy="169.4" r="1.6"/><circle cx="489.3" cy="172.3" r="1.6"/><circle cx="489.9" cy="174.9" r="1.6"/><circle cx="491.6" cy="167.6" r="1.6"/><circle cx="486.4" cy="168.2" r="1.6"/></g>
<line x1="484.60" y1="167.60" x2="494.50" y2="167.60" stroke="#000" stroke-width="1.3"/>
<g fill="#1d3f88"><circle cx="503.8" cy="149.1" r="1.75"/><circle cx="502.6" cy="157.2" r="1.75"/><circle cx="504.4" cy="160.7" r="1.75"/><circle cx="500.3" cy="164.7" r="1.75"/><circle cx="502.0" cy="166.5" r="1.75"/><circle cx="505.5" cy="167.0" r="1.75"/><circle cx="500.9" cy="168.8" r="1.75"/><circle cx="504.4" cy="172.3" r="1.75"/><circle cx="503.2" cy="176.9" r="1.75"/><circle cx="504.4" cy="178.9" r="1.75"/></g>
<line x1="499.10" y1="166.50" x2="508.10" y2="166.50" stroke="#000" stroke-width="1.3"/>
<circle cx="487.3" cy="129.6" r="1.7" fill="none" stroke="#bd1437" stroke-width="1.1"/>
<circle cx="487.1" cy="137.8" r="1.9" fill="#1d3f88"/>
<text x="492.00" y="131.79" font-size="5.8" fill="#333" text-anchor="start" stroke="#333" stroke-width="0.1" textLength="20.70" lengthAdjust="spacingAndGlyphs">wild-type</text>
<text x="492.00" y="139.89" font-size="5.8" fill="#333" text-anchor="start" stroke="#333" stroke-width="0.1" textLength="17.00" lengthAdjust="spacingAndGlyphs">C481S</text>
<line x1="295.00" y1="236.30" x2="295.00" y2="287.60" stroke="#2a2a2a" stroke-width="1.3"/>
<line x1="294.40" y1="287.00" x2="409.70" y2="287.00" stroke="#2a2a2a" stroke-width="1.3"/>
<line x1="292.40" y1="239.00" x2="295.00" y2="239.00" stroke="#2a2a2a" stroke-width="0.9"/>
<text x="291.00" y="241.27" font-size="6.3" fill="#333" text-anchor="end" stroke="#333" stroke-width="0.1">100</text>
<line x1="292.40" y1="248.60" x2="295.00" y2="248.60" stroke="#2a2a2a" stroke-width="0.9"/>
<text x="291.00" y="250.87" font-size="6.3" fill="#333" text-anchor="end" stroke="#333" stroke-width="0.1">80</text>
<line x1="292.40" y1="258.20" x2="295.00" y2="258.20" stroke="#2a2a2a" stroke-width="0.9"/>
<text x="291.00" y="260.47" font-size="6.3" fill="#333" text-anchor="end" stroke="#333" stroke-width="0.1">60</text>
<line x1="292.40" y1="267.80" x2="295.00" y2="267.80" stroke="#2a2a2a" stroke-width="0.9"/>
<text x="291.00" y="270.07" font-size="6.3" fill="#333" text-anchor="end" stroke="#333" stroke-width="0.1">40</text>
<line x1="292.40" y1="277.40" x2="295.00" y2="277.40" stroke="#2a2a2a" stroke-width="0.9"/>
<text x="291.00" y="279.67" font-size="6.3" fill="#333" text-anchor="end" stroke="#333" stroke-width="0.1">20</text>
<line x1="292.40" y1="287.00" x2="295.00" y2="287.00" stroke="#2a2a2a" stroke-width="0.9"/>
<text x="291.00" y="289.27" font-size="6.3" fill="#333" text-anchor="end" stroke="#333" stroke-width="0.1">0</text>
<line x1="308.20" y1="287.00" x2="308.20" y2="289.20" stroke="#2a2a2a" stroke-width="0.8"/>
<line x1="336.40" y1="287.00" x2="336.40" y2="289.20" stroke="#2a2a2a" stroke-width="0.8"/>
<line x1="366.40" y1="287.00" x2="366.40" y2="289.20" stroke="#2a2a2a" stroke-width="0.8"/>
<line x1="395.60" y1="287.00" x2="395.60" y2="289.20" stroke="#2a2a2a" stroke-width="0.8"/>
<text x="304.40" y="299.18" font-size="6.6" fill="#333" text-anchor="start" stroke="#333" stroke-width="0.08" textLength="6.90" lengthAdjust="spacingAndGlyphs">B1</text>
<text x="332.00" y="299.18" font-size="6.6" fill="#333" text-anchor="start" stroke="#333" stroke-width="0.08" textLength="10.70" lengthAdjust="spacingAndGlyphs">B1a</text>
<text x="360.00" y="299.18" font-size="6.6" fill="#333" text-anchor="start" stroke="#333" stroke-width="0.08" textLength="13.80" lengthAdjust="spacingAndGlyphs">B1b</text>
<text x="390.80" y="299.18" font-size="6.6" fill="#333" text-anchor="start" stroke="#333" stroke-width="0.08" textLength="9.20" lengthAdjust="spacingAndGlyphs">B2</text>
<line x1="323.60" y1="240.70" x2="323.60" y2="287.00" stroke="#333" stroke-width="1.0" stroke-dasharray="2.2,1.6"/>
<line x1="351.70" y1="240.70" x2="351.70" y2="287.00" stroke="#333" stroke-width="1.0" stroke-dasharray="2.2,1.6"/>
<line x1="380.90" y1="240.70" x2="380.90" y2="287.00" stroke="#333" stroke-width="1.0" stroke-dasharray="2.2,1.6"/>
<g fill="none" stroke="#bd1437" stroke-width="1.1"><circle cx="300.1" cy="251.4" r="1.6"/><circle cx="302.2" cy="250.4" r="1.6"/><circle cx="303.9" cy="251.4" r="1.6"/><circle cx="305.8" cy="252.8" r="1.6"/><circle cx="300.8" cy="254.3" r="1.6"/><circle cx="302.9" cy="253.8" r="1.6"/><circle cx="305.1" cy="255.0" r="1.6"/><circle cx="304.4" cy="257.6" r="1.6"/><circle cx="301.5" cy="252.8" r="1.6"/><circle cx="299.3" cy="253.5" r="1.6"/><circle cx="303.4" cy="255.7" r="1.6"/></g>
<g fill="#1d3f88"><circle cx="317.4" cy="250.4" r="1.75"/><circle cx="315.2" cy="252.4" r="1.75"/><circle cx="318.1" cy="253.5" r="1.75"/><circle cx="316.6" cy="255.7" r="1.75"/><circle cx="313.8" cy="257.6" r="1.75"/><circle cx="318.8" cy="256.4" r="1.75"/><circle cx="315.9" cy="258.6" r="1.75"/><circle cx="316.6" cy="263.9" r="1.75"/><circle cx="314.5" cy="256.4" r="1.75"/></g>
<g fill="none" stroke="#bd1437" stroke-width="1.1"><circle cx="331.1" cy="258.6" r="1.6"/><circle cx="330.4" cy="261.5" r="1.6"/><circle cx="331.8" cy="263.6" r="1.6"/><circle cx="328.2" cy="265.1" r="1.6"/><circle cx="330.4" cy="265.8" r="1.6"/><circle cx="333.2" cy="265.1" r="1.6"/><circle cx="332.5" cy="268.0" r="1.6"/><circle cx="334.0" cy="268.7" r="1.6"/><circle cx="329.6" cy="267.3" r="1.6"/><circle cx="327.5" cy="264.4" r="1.6"/></g>
<g fill="#1d3f88"><circle cx="345.5" cy="260.8" r="1.75"/><circle cx="344.1" cy="263.6" r="1.75"/><circle cx="344.8" cy="266.5" r="1.75"/><circle cx="342.6" cy="269.4" r="1.75"/><circle cx="345.5" cy="268.0" r="1.75"/><circle cx="346.2" cy="270.9" r="1.75"/><circle cx="347.7" cy="273.0" r="1.75"/></g>
<g fill="none" stroke="#bd1437" stroke-width="1.1"><circle cx="359.7" cy="272.6" r="1.6"/><circle cx="357.4" cy="273.8" r="1.6"/><circle cx="362.1" cy="274.4" r="1.6"/><circle cx="356.2" cy="275.6" r="1.6"/><circle cx="358.0" cy="278.0" r="1.6"/><circle cx="359.1" cy="279.8" r="1.6"/><circle cx="360.3" cy="281.5" r="1.6"/><circle cx="361.5" cy="275.6" r="1.6"/><circle cx="358.5" cy="276.2" r="1.6"/></g>
<g fill="#1d3f88"><circle cx="373.4" cy="271.4" r="1.75"/><circle cx="371.6" cy="273.2" r="1.75"/><circle cx="372.8" cy="275.0" r="1.75"/><circle cx="370.5" cy="277.4" r="1.75"/><circle cx="373.4" cy="277.1" r="1.75"/><circle cx="375.2" cy="279.2" r="1.75"/><circle cx="376.4" cy="280.7" r="1.75"/><circle cx="372.2" cy="278.6" r="1.75"/></g>
<g fill="none" stroke="#bd1437" stroke-width="1.1"><circle cx="388.9" cy="267.3" r="1.6"/><circle cx="387.7" cy="269.0" r="1.6"/><circle cx="385.9" cy="270.8" r="1.6"/><circle cx="390.1" cy="270.8" r="1.6"/><circle cx="387.7" cy="272.6" r="1.6"/><circle cx="391.3" cy="273.8" r="1.6"/><circle cx="389.5" cy="275.0" r="1.6"/><circle cx="392.5" cy="275.6" r="1.6"/><circle cx="387.1" cy="273.8" r="1.6"/></g>
<g fill="#1d3f88"><circle cx="402.6" cy="261.9" r="1.75"/><circle cx="400.8" cy="264.3" r="1.75"/><circle cx="403.2" cy="267.3" r="1.75"/><circle cx="401.4" cy="269.0" r="1.75"/><circle cx="404.4" cy="269.6" r="1.75"/><circle cx="399.6" cy="270.8" r="1.75"/><circle cx="402.6" cy="272.0" r="1.75"/><circle cx="403.8" cy="275.0" r="1.75"/></g>
<text transform="translate(273.4,261.0) rotate(-90)" font-size="7.4" fill="#222" stroke="#222" stroke-width="0.3" text-anchor="middle" textLength="57" lengthAdjust="spacingAndGlyphs">Freq of CD19+ in PeC</text>
<circle cx="414.4" cy="257.5" r="1.7" fill="none" stroke="#bd1437" stroke-width="1.1"/>
<circle cx="414.4" cy="265.8" r="1.9" fill="#1d3f88"/>
<text x="419.00" y="259.69" font-size="5.8" fill="#333" text-anchor="start" stroke="#333" stroke-width="0.1" textLength="21.10" lengthAdjust="spacingAndGlyphs">wild-type</text>
<text x="419.00" y="267.89" font-size="5.8" fill="#333" text-anchor="start" stroke="#333" stroke-width="0.1" textLength="17.90" lengthAdjust="spacingAndGlyphs">C481S</text>
</svg>
</body></html>
